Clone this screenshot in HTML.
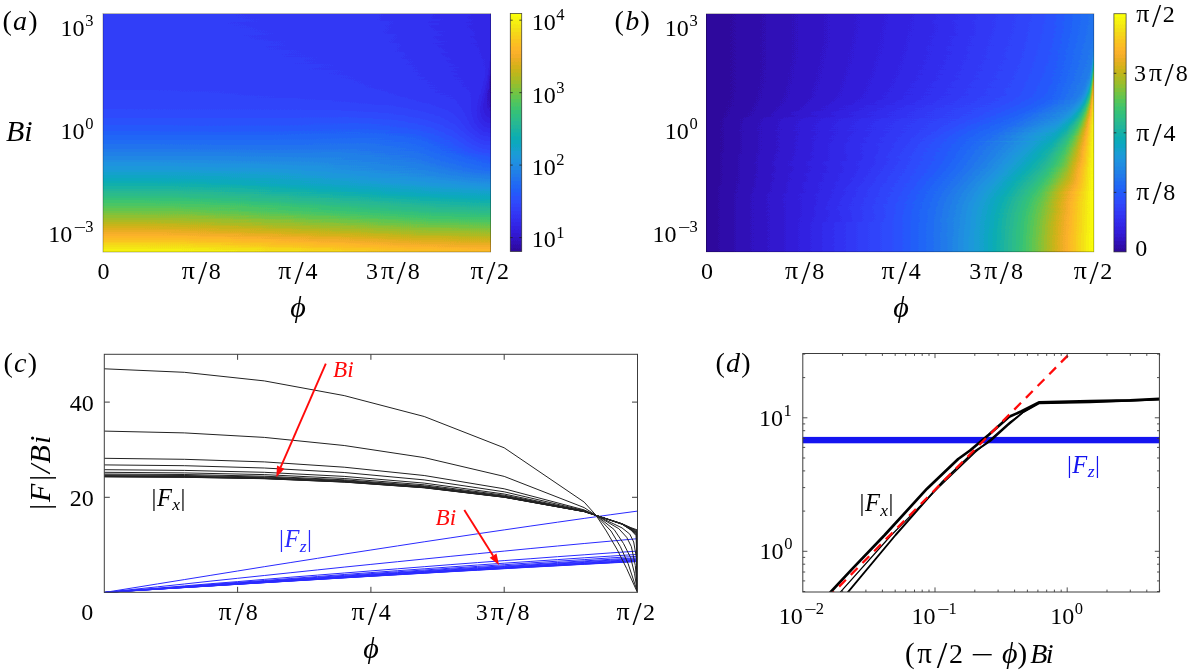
<!DOCTYPE html>
<html><head><meta charset="utf-8"><title>figure</title>
<style>
html,body{margin:0;padding:0;background:#fff}
#fig{position:relative;width:1188px;height:671px;overflow:hidden;background:#fff;font-family:"Liberation Serif",serif}
.hm{position:absolute;overflow:hidden}
.hm{filter:url(#pf)}
.ha{filter:url(#pfa)}
.hm i{display:block;height:1px;width:100%}
svg{position:absolute;left:0;top:0}
text{font-family:"Liberation Serif",serif;fill:#000}
.t{font-size:24px}
.s{font-size:16px}
.l{font-size:30px;font-style:italic}
.p{font-size:28px}
.it{font-style:italic}
.m{font-size:24.5px;letter-spacing:0.4px}
</style></head><body><div id="fig">
<div class="hm ha" style="left:103.0px;top:13.5px;width:387.6px;height:238.5px">
<i style="background:linear-gradient(90deg,#545454 0.0%,#545454 15.0%,#535353 30.0%,#494949 65.0%,#3f3f3f 80.0%,#2d2d2d 94.0%,#232323 99.5%,#232323 100.0%)"></i>
<i style="background:linear-gradient(90deg,#545454 0.0%,#545454 15.0%,#535353 30.0%,#494949 65.0%,#3f3f3f 80.0%,#2e2e2e 93.5%,#242424 99.0%,#232323 100.0%)"></i>
<i style="background:linear-gradient(90deg,#545454 0.0%,#545454 15.0%,#535353 30.0%,#4c4c4c 60.0%,#3f3f3f 80.0%,#252525 98.5%,#232323 100.0%)"></i>
<i style="background:linear-gradient(90deg,#545454 0.0%,#545454 17.5%,#535353 30.0%,#4c4c4c 60.0%,#3f3f3f 80.0%,#262626 98.0%,#232323 100.0%)"></i>
<i style="background:linear-gradient(90deg,#545454 0.0%,#545454 17.5%,#535353 30.0%,#4c4c4c 60.0%,#3f3f3f 80.0%,#272727 97.5%,#232323 100.0%)"></i>
<i style="background:linear-gradient(90deg,#545454 0.0%,#545454 20.0%,#525252 37.5%,#4c4c4c 57.5%,#4c4c4c 60.0%,#3d3d3d 82.5%,#363636 90.0%,#313131 92.0%,#282828 97.0%,#232323 100.0%)"></i>
<i style="background:linear-gradient(90deg,#545454 0.0%,#545454 20.0%,#535353 32.5%,#4c4c4c 60.0%,#3d3d3d 82.5%,#343434 91.0%,#313131 92.0%,#292929 96.5%,#232323 100.0%)"></i>
<i style="background:linear-gradient(90deg,#545454 0.0%,#545454 20.0%,#535353 32.5%,#4c4c4c 60.0%,#444444 75.0%,#2a2a2a 96.0%,#242424 99.5%,#242424 100.0%)"></i>
<i style="background:linear-gradient(90deg,#545454 0.0%,#545454 22.5%,#4b4b4b 62.5%,#444444 75.0%,#242424 99.5%,#242424 100.0%)"></i>
<i style="background:linear-gradient(90deg,#545454 0.0%,#545454 22.5%,#4b4b4b 62.5%,#444444 75.0%,#3b3b3b 85.0%,#2b2b2b 95.5%,#242424 99.5%,#242424 100.0%)"></i>
<i style="background:linear-gradient(90deg,#555555 0.0%,#545454 25.0%,#4b4b4b 62.5%,#444444 75.0%,#3b3b3b 85.0%,#2c2c2c 95.0%,#242424 99.5%,#242424 100.0%)"></i>
<i style="background:linear-gradient(90deg,#555555 0.0%,#545454 25.0%,#4b4b4b 62.5%,#424242 77.5%,#242424 99.5%,#242424 100.0%)"></i>
<i style="background:linear-gradient(90deg,#555555 0.0%,#555555 5.0%,#545454 27.5%,#4b4b4b 62.5%,#424242 77.5%,#242424 99.5%,#242424 100.0%)"></i>
<i style="background:linear-gradient(90deg,#555555 0.0%,#555555 7.5%,#545454 27.5%,#4a4a4a 65.0%,#424242 77.5%,#252525 99.0%,#242424 100.0%)"></i>
<i style="background:linear-gradient(90deg,#555555 0.0%,#555555 12.5%,#545454 30.0%,#4a4a4a 65.0%,#404040 80.0%,#272727 98.0%,#242424 100.0%)"></i>
<i style="background:linear-gradient(90deg,#555555 0.0%,#555555 15.0%,#545454 30.0%,#4a4a4a 65.0%,#404040 80.0%,#282828 97.5%,#242424 100.0%)"></i>
<i style="background:linear-gradient(90deg,#555555 0.0%,#555555 15.0%,#545454 30.0%,#4d4d4d 60.0%,#404040 80.0%,#292929 97.0%,#242424 100.0%)"></i>
<i style="background:linear-gradient(90deg,#555555 0.0%,#555555 17.5%,#545454 30.0%,#4d4d4d 60.0%,#3e3e3e 82.5%,#363636 90.5%,#323232 92.0%,#2a2a2a 96.5%,#242424 100.0%)"></i>
<i style="background:linear-gradient(90deg,#555555 0.0%,#555555 17.5%,#545454 30.0%,#4d4d4d 60.0%,#3e3e3e 82.5%,#2b2b2b 96.0%,#242424 100.0%)"></i>
<i style="background:linear-gradient(90deg,#555555 0.0%,#555555 20.0%,#535353 37.5%,#4e4e4e 55.0%,#4d4d4d 60.0%,#3e3e3e 82.5%,#2c2c2c 95.5%,#252525 99.5%,#252525 100.0%)"></i>
<i style="background:linear-gradient(90deg,#555555 0.0%,#555555 20.0%,#545454 32.5%,#4c4c4c 62.5%,#454545 75.0%,#3c3c3c 85.0%,#2d2d2d 95.0%,#252525 99.5%,#252525 100.0%)"></i>
<i style="background:linear-gradient(90deg,#555555 0.0%,#555555 22.5%,#4c4c4c 62.5%,#454545 75.0%,#3c3c3c 85.0%,#2e2e2e 94.5%,#252525 99.5%,#252525 100.0%)"></i>
<i style="background:linear-gradient(90deg,#555555 0.0%,#555555 22.5%,#4c4c4c 62.5%,#434343 77.5%,#252525 99.5%,#252525 100.0%)"></i>
<i style="background:linear-gradient(90deg,#565656 0.0%,#555555 25.0%,#4c4c4c 62.5%,#434343 77.5%,#272727 98.5%,#252525 100.0%)"></i>
<i style="background:linear-gradient(90deg,#565656 0.0%,#555555 25.0%,#4b4b4b 65.0%,#434343 77.5%,#292929 97.5%,#252525 100.0%)"></i>
<i style="background:linear-gradient(90deg,#565656 0.0%,#565656 7.5%,#555555 27.5%,#4b4b4b 65.0%,#414141 80.0%,#2a2a2a 97.0%,#252525 100.0%)"></i>
<i style="background:linear-gradient(90deg,#565656 0.0%,#565656 12.5%,#555555 30.0%,#4b4b4b 65.0%,#414141 80.0%,#2b2b2b 96.5%,#252525 100.0%)"></i>
<i style="background:linear-gradient(90deg,#565656 0.0%,#565656 15.0%,#555555 30.0%,#4e4e4e 60.0%,#3f3f3f 82.5%,#353535 91.5%,#333333 92.0%,#2c2c2c 96.0%,#252525 100.0%)"></i>
<i style="background:linear-gradient(90deg,#565656 0.0%,#565656 17.5%,#555555 30.0%,#4e4e4e 60.0%,#3f3f3f 82.5%,#2d2d2d 95.5%,#252525 100.0%)"></i>
<i style="background:linear-gradient(90deg,#565656 0.0%,#565656 17.5%,#555555 30.0%,#4e4e4e 60.0%,#464646 75.0%,#252525 100.0%)"></i>
<i style="background:linear-gradient(90deg,#565656 0.0%,#565656 20.0%,#555555 32.5%,#4d4d4d 62.5%,#464646 75.0%,#3d3d3d 85.0%,#303030 94.0%,#262626 99.5%,#242424 100.0%)"></i>
<i style="background:linear-gradient(90deg,#565656 0.0%,#565656 20.0%,#555555 32.5%,#4d4d4d 62.5%,#444444 77.5%,#282828 98.5%,#282828 99.0%,#242424 100.0%)"></i>
<i style="background:linear-gradient(90deg,#565656 0.0%,#565656 22.5%,#4d4d4d 62.5%,#444444 77.5%,#2a2a2a 97.5%,#282828 99.0%,#242424 100.0%)"></i>
<i style="background:linear-gradient(90deg,#575757 0.0%,#565656 25.0%,#4d4d4d 62.5%,#424242 80.0%,#2b2b2b 97.0%,#272727 99.5%,#232323 100.0%)"></i>
<i style="background:linear-gradient(90deg,#575757 0.0%,#575757 5.0%,#565656 27.5%,#4c4c4c 65.0%,#424242 80.0%,#2d2d2d 96.0%,#272727 99.5%,#232323 100.0%)"></i>
<i style="background:linear-gradient(90deg,#575757 0.0%,#575757 10.0%,#565656 27.5%,#4c4c4c 65.0%,#404040 82.5%,#2e2e2e 95.5%,#272727 99.5%,#222222 100.0%)"></i>
<i style="background:linear-gradient(90deg,#575757 0.0%,#575757 15.0%,#565656 30.0%,#4f4f4f 60.0%,#404040 82.5%,#2f2f2f 95.0%,#272727 99.5%,#222222 100.0%)"></i>
<i style="background:linear-gradient(90deg,#575757 0.0%,#575757 15.0%,#565656 30.0%,#4f4f4f 60.0%,#404040 82.5%,#303030 94.5%,#272727 99.5%,#212121 100.0%)"></i>
<i style="background:linear-gradient(90deg,#575757 0.0%,#575757 17.5%,#565656 30.0%,#4f4f4f 60.0%,#474747 75.0%,#3e3e3e 85.0%,#313131 94.0%,#272727 99.5%,#202020 100.0%)"></i>
<i style="background:linear-gradient(90deg,#575757 0.0%,#575757 20.0%,#565656 32.5%,#4e4e4e 62.5%,#454545 77.5%,#2b2b2b 97.5%,#292929 99.0%,#272727 99.5%,#1f1f1f 100.0%)"></i>
<i style="background:linear-gradient(90deg,#575757 0.0%,#575757 22.5%,#4e4e4e 62.5%,#454545 77.5%,#2d2d2d 96.5%,#292929 99.0%,#262626 99.5%,#1d1d1d 100.0%)"></i>
<i style="background:linear-gradient(90deg,#575757 0.0%,#575757 22.5%,#555555 40.0%,#515151 52.5%,#4d4d4d 65.0%,#434343 80.0%,#2e2e2e 96.0%,#292929 99.0%,#262626 99.5%,#1c1c1c 100.0%)"></i>
<i style="background:linear-gradient(90deg,#585858 0.0%,#575757 25.0%,#4d4d4d 65.0%,#434343 80.0%,#2f2f2f 95.5%,#292929 99.0%,#262626 99.5%,#1a1a1a 100.0%)"></i>
<i style="background:linear-gradient(90deg,#585858 0.0%,#585858 7.5%,#575757 27.5%,#505050 60.0%,#414141 82.5%,#313131 94.5%,#292929 99.0%,#262626 99.5%,#181818 100.0%)"></i>
<i style="background:linear-gradient(90deg,#585858 0.0%,#585858 15.0%,#575757 30.0%,#505050 60.0%,#3f3f3f 85.0%,#323232 94.0%,#292929 99.0%,#252525 99.5%,#161616 100.0%)"></i>
<i style="background:linear-gradient(90deg,#585858 0.0%,#585858 17.5%,#575757 30.0%,#505050 60.0%,#484848 75.0%,#3f3f3f 85.0%,#333333 93.5%,#2c2c2c 97.5%,#2b2b2b 98.5%,#292929 99.0%,#252525 99.5%,#141414 100.0%)"></i>
<i style="background:linear-gradient(90deg,#585858 0.0%,#585858 17.5%,#575757 30.0%,#4f4f4f 62.5%,#464646 77.5%,#2e2e2e 96.5%,#2b2b2b 98.5%,#292929 99.0%,#242424 99.5%,#111111 100.0%)"></i>
<i style="background:linear-gradient(90deg,#585858 0.0%,#585858 20.0%,#575757 32.5%,#4f4f4f 62.5%,#444444 80.0%,#2f2f2f 96.0%,#2b2b2b 98.5%,#292929 99.0%,#242424 99.5%,#0f0f0f 100.0%)"></i>
<i style="background:linear-gradient(90deg,#585858 0.0%,#585858 22.5%,#565656 40.0%,#525252 52.5%,#4e4e4e 65.0%,#444444 80.0%,#313131 95.0%,#2b2b2b 98.5%,#292929 99.0%,#232323 99.5%,#0c0c0c 100.0%)"></i>
<i style="background:linear-gradient(90deg,#595959 0.0%,#585858 25.0%,#4e4e4e 65.0%,#424242 82.5%,#323232 94.5%,#2b2b2b 98.5%,#292929 99.0%,#222222 99.5%,#0a0a0a 100.0%)"></i>
<i style="background:linear-gradient(90deg,#595959 0.0%,#595959 7.5%,#585858 27.5%,#515151 60.0%,#404040 85.0%,#343434 93.5%,#2b2b2b 98.5%,#292929 99.0%,#212121 99.5%,#080808 100.0%)"></i>
<i style="background:linear-gradient(90deg,#595959 0.0%,#595959 15.0%,#585858 30.0%,#515151 60.0%,#494949 75.0%,#404040 85.0%,#353535 93.0%,#2b2b2b 98.5%,#292929 99.0%,#1f1f1f 99.5%,#080808 100.0%)"></i>
<i style="background:linear-gradient(90deg,#595959 0.0%,#595959 17.5%,#585858 30.0%,#505050 62.5%,#474747 77.5%,#303030 96.0%,#2d2d2d 98.0%,#292929 99.0%,#1e1e1e 99.5%,#070707 100.0%)"></i>
<i style="background:linear-gradient(90deg,#595959 0.0%,#595959 20.0%,#585858 32.5%,#505050 62.5%,#454545 80.0%,#393939 91.5%,#373737 92.0%,#313131 95.5%,#2d2d2d 98.0%,#292929 99.0%,#1c1c1c 99.5%,#070707 100.0%)"></i>
<i style="background:linear-gradient(90deg,#595959 0.0%,#595959 22.5%,#4f4f4f 65.0%,#434343 82.5%,#333333 94.5%,#2c2c2c 98.5%,#292929 99.0%,#1a1a1a 99.5%,#070707 100.0%)"></i>
<i style="background:linear-gradient(90deg,#595959 0.0%,#595959 25.0%,#4f4f4f 65.0%,#434343 82.5%,#343434 94.0%,#2c2c2c 98.5%,#282828 99.0%,#181818 99.5%,#060606 100.0%)"></i>
<i style="background:linear-gradient(90deg,#5a5a5a 0.0%,#5a5a5a 5.0%,#595959 27.5%,#525252 60.0%,#4a4a4a 75.0%,#414141 85.0%,#363636 93.0%,#2c2c2c 98.5%,#282828 99.0%,#161616 99.5%,#060606 100.0%)"></i>
<i style="background:linear-gradient(90deg,#5a5a5a 0.0%,#5a5a5a 15.0%,#595959 30.0%,#515151 62.5%,#484848 77.5%,#303030 96.5%,#2f2f2f 97.5%,#2c2c2c 98.5%,#272727 99.0%,#141414 99.5%,#060606 100.0%)"></i>
<i style="background:linear-gradient(90deg,#5a5a5a 0.0%,#5a5a5a 17.5%,#595959 30.0%,#515151 62.5%,#464646 80.0%,#323232 95.5%,#2f2f2f 97.5%,#2b2b2b 98.5%,#272727 99.0%,#111111 99.5%,#060606 100.0%)"></i>
<i style="background:linear-gradient(90deg,#5a5a5a 0.0%,#5a5a5a 20.0%,#595959 32.5%,#505050 65.0%,#444444 82.5%,#343434 94.5%,#2f2f2f 97.5%,#2b2b2b 98.5%,#262626 99.0%,#0f0f0f 99.5%,#050505 100.0%)"></i>
<i style="background:linear-gradient(90deg,#5a5a5a 0.0%,#5a5a5a 22.5%,#585858 40.0%,#505050 65.0%,#424242 85.0%,#363636 93.5%,#2f2f2f 97.5%,#2b2b2b 98.5%,#252525 99.0%,#0d0d0d 99.5%,#050505 100.0%)"></i>
<i style="background:linear-gradient(90deg,#5b5b5b 0.0%,#5a5a5a 25.0%,#535353 60.0%,#494949 77.5%,#2f2f2f 97.5%,#2b2b2b 98.5%,#242424 99.0%,#0a0a0a 99.5%,#050505 100.0%)"></i>
<i style="background:linear-gradient(90deg,#5b5b5b 0.0%,#5b5b5b 7.5%,#5a5a5a 30.0%,#525252 62.5%,#474747 80.0%,#2f2f2f 97.5%,#2b2b2b 98.5%,#232323 99.0%,#080808 99.5%,#050505 100.0%)"></i>
<i style="background:linear-gradient(90deg,#5b5b5b 0.0%,#5b5b5b 15.0%,#5a5a5a 30.0%,#515151 65.0%,#454545 82.5%,#343434 95.0%,#313131 97.0%,#2d2d2d 98.0%,#2a2a2a 98.5%,#212121 99.0%,#080808 99.5%,#050505 100.0%)"></i>
<i style="background:linear-gradient(90deg,#5b5b5b 0.0%,#5b5b5b 17.5%,#5a5a5a 32.5%,#515151 65.0%,#434343 85.0%,#363636 94.0%,#313131 97.0%,#2d2d2d 98.0%,#2a2a2a 98.5%,#202020 99.0%,#070707 99.5%,#050505 100.0%)"></i>
<i style="background:linear-gradient(90deg,#5b5b5b 0.0%,#5b5b5b 22.5%,#595959 40.0%,#545454 57.5%,#545454 60.0%,#4a4a4a 77.5%,#313131 97.0%,#2d2d2d 98.0%,#292929 98.5%,#1e1e1e 99.0%,#070707 99.5%,#050505 100.0%)"></i>
<i style="background:linear-gradient(90deg,#5c5c5c 0.0%,#5b5b5b 25.0%,#535353 62.5%,#484848 80.0%,#3f3f3f 90.0%,#3a3a3a 92.0%,#313131 97.0%,#2d2d2d 98.0%,#282828 98.5%,#1c1c1c 99.0%,#070707 99.5%,#050505 100.0%)"></i>
<i style="background:linear-gradient(90deg,#5c5c5c 0.0%,#5c5c5c 7.5%,#5b5b5b 30.0%,#525252 65.0%,#464646 82.5%,#313131 97.0%,#2c2c2c 98.0%,#272727 98.5%,#1a1a1a 99.0%,#070707 99.5%,#040404 100.0%)"></i>
<i style="background:linear-gradient(90deg,#5c5c5c 0.0%,#5c5c5c 15.0%,#5b5b5b 30.0%,#515151 67.5%,#4d4d4d 75.0%,#444444 85.0%,#373737 94.0%,#343434 96.0%,#2f2f2f 97.5%,#2c2c2c 98.0%,#262626 98.5%,#181818 99.0%,#060606 99.5%,#040404 100.0%)"></i>
<i style="background:linear-gradient(90deg,#5c5c5c 0.0%,#5c5c5c 20.0%,#5b5b5b 32.5%,#545454 62.5%,#494949 80.0%,#343434 96.0%,#2f2f2f 97.5%,#2c2c2c 98.0%,#252525 98.5%,#060606 99.5%,#040404 100.0%)"></i>
<i style="background:linear-gradient(90deg,#5c5c5c 0.0%,#5c5c5c 22.5%,#5a5a5a 40.0%,#535353 65.0%,#474747 82.5%,#333333 96.5%,#2f2f2f 97.5%,#2b2b2b 98.0%,#242424 98.5%,#141414 99.0%,#060606 99.5%,#040404 100.0%)"></i>
<i style="background:linear-gradient(90deg,#5d5d5d 0.0%,#5c5c5c 27.5%,#525252 67.5%,#4e4e4e 75.0%,#454545 85.0%,#333333 96.5%,#2e2e2e 97.5%,#2a2a2a 98.0%,#222222 98.5%,#121212 99.0%,#060606 99.5%,#040404 100.0%)"></i>
<i style="background:linear-gradient(90deg,#5d5d5d 0.0%,#5d5d5d 12.5%,#5c5c5c 30.0%,#555555 62.5%,#4a4a4a 80.0%,#333333 96.5%,#2e2e2e 97.5%,#292929 98.0%,#212121 98.5%,#101010 99.0%,#060606 99.5%,#040404 100.0%)"></i>
<i style="background:linear-gradient(90deg,#5d5d5d 0.0%,#5d5d5d 17.5%,#5c5c5c 32.5%,#545454 65.0%,#484848 82.5%,#3f3f3f 91.0%,#3c3c3c 92.0%,#373737 95.0%,#313131 97.0%,#2e2e2e 97.5%,#282828 98.0%,#1f1f1f 98.5%,#0e0e0e 99.0%,#060606 99.5%,#040404 100.0%)"></i>
<i style="background:linear-gradient(90deg,#5d5d5d 0.0%,#5d5d5d 22.5%,#5b5b5b 42.5%,#535353 67.5%,#4d4d4d 77.5%,#363636 95.5%,#333333 96.5%,#2d2d2d 97.5%,#272727 98.0%,#1d1d1d 98.5%,#0c0c0c 99.0%,#060606 99.5%,#040404 100.0%)"></i>
<i style="background:linear-gradient(90deg,#5d5d5d 0.0%,#5d5d5d 27.5%,#5b5b5b 45.0%,#595959 50.0%,#565656 62.5%,#515151 72.5%,#494949 82.5%,#363636 95.5%,#303030 97.0%,#2c2c2c 97.5%,#262626 98.0%,#1c1c1c 98.5%,#0a0a0a 99.0%,#050505 99.5%,#040404 100.0%)"></i>
<i style="background:linear-gradient(90deg,#5e5e5e 0.0%,#5e5e5e 7.5%,#5d5d5d 30.0%,#545454 67.5%,#4e4e4e 77.5%,#404040 91.0%,#363636 95.5%,#303030 97.0%,#2c2c2c 97.5%,#252525 98.0%,#1a1a1a 98.5%,#080808 99.0%,#050505 99.5%,#040404 100.0%)"></i>
<i style="background:linear-gradient(90deg,#5e5e5e 0.0%,#5e5e5e 17.5%,#5d5d5d 32.5%,#575757 62.5%,#525252 72.5%,#4c4c4c 80.0%,#3a3a3a 94.0%,#323232 96.5%,#2b2b2b 97.5%,#242424 98.0%,#181818 98.5%,#080808 99.0%,#050505 99.5%,#040404 100.0%)"></i>
<i style="background:linear-gradient(90deg,#5e5e5e 0.0%,#5e5e5e 22.5%,#5d5d5d 35.0%,#555555 67.5%,#4f4f4f 77.5%,#393939 94.5%,#323232 96.5%,#2f2f2f 97.0%,#2a2a2a 97.5%,#222222 98.0%,#161616 98.5%,#080808 99.0%,#050505 99.5%,#040404 100.0%)"></i>
<i style="background:linear-gradient(90deg,#5e5e5e 0.0%,#5e5e5e 30.0%,#595959 60.0%,#535353 72.5%,#4d4d4d 80.0%,#414141 91.0%,#393939 94.5%,#343434 96.0%,#2e2e2e 97.0%,#292929 97.5%,#212121 98.0%,#070707 99.0%,#050505 99.5%,#050505 100.0%)"></i>
<i style="background:linear-gradient(90deg,#5f5f5f 0.0%,#5f5f5f 7.5%,#5e5e5e 32.5%,#565656 67.5%,#505050 77.5%,#3d3d3d 93.0%,#343434 96.0%,#2d2d2d 97.0%,#272727 97.5%,#1f1f1f 98.0%,#121212 98.5%,#070707 99.0%,#050505 99.5%,#050505 100.0%)"></i>
<i style="background:linear-gradient(90deg,#5f5f5f 0.0%,#5f5f5f 17.5%,#5e5e5e 35.0%,#595959 62.5%,#545454 72.5%,#4e4e4e 80.0%,#444444 90.0%,#3c3c3c 93.5%,#363636 95.5%,#303030 96.5%,#2c2c2c 97.0%,#262626 97.5%,#1d1d1d 98.0%,#101010 98.5%,#070707 99.0%,#050505 99.5%,#050505 100.0%)"></i>
<i style="background:linear-gradient(90deg,#5f5f5f 0.0%,#5f5f5f 30.0%,#5d5d5d 47.5%,#565656 70.0%,#4f4f4f 80.0%,#414141 91.5%,#3b3b3b 94.0%,#363636 95.5%,#303030 96.5%,#252525 97.5%,#1c1c1c 98.0%,#0f0f0f 98.5%,#070707 99.0%,#050505 99.5%,#050505 100.0%)"></i>
<i style="background:linear-gradient(90deg,#606060 0.0%,#606060 17.5%,#5f5f5f 35.0%,#575757 70.0%,#525252 77.5%,#454545 90.0%,#3e3e3e 93.0%,#363636 95.5%,#2b2b2b 97.0%,#242424 97.5%,#1a1a1a 98.0%,#0e0e0e 98.5%,#070707 99.0%,#050505 99.5%,#050505 100.0%)"></i>
<i style="background:linear-gradient(90deg,#616161 0.0%,#616161 5.0%,#606060 32.5%,#5f5f5f 45.0%,#595959 67.5%,#535353 77.5%,#424242 91.5%,#3d3d3d 93.5%,#363636 95.5%,#2f2f2f 96.5%,#2a2a2a 97.0%,#232323 97.5%,#191919 98.0%,#0c0c0c 98.5%,#070707 99.0%,#050505 99.5%,#050505 100.0%)"></i>
<i style="background:linear-gradient(90deg,#616161 0.0%,#616161 30.0%,#5f5f5f 47.5%,#5a5a5a 67.5%,#545454 77.5%,#454545 90.5%,#404040 92.5%,#383838 95.0%,#323232 96.0%,#292929 97.0%,#222222 97.5%,#181818 98.0%,#0b0b0b 98.5%,#070707 99.0%,#050505 99.5%,#050505 100.0%)"></i>
<i style="background:linear-gradient(90deg,#626262 0.0%,#626262 20.0%,#616161 37.5%,#5f5f5f 55.0%,#5a5a5a 70.0%,#555555 77.5%,#474747 90.0%,#383838 95.0%,#323232 96.0%,#2e2e2e 96.5%,#212121 97.5%,#171717 98.0%,#0b0b0b 98.5%,#070707 99.0%,#050505 100.0%)"></i>
<i style="background:linear-gradient(90deg,#636363 0.0%,#636363 15.0%,#626262 35.0%,#616161 47.5%,#5b5b5b 70.0%,#565656 77.5%,#505050 82.5%,#4b4b4b 87.5%,#454545 91.0%,#383838 95.0%,#323232 96.0%,#272727 97.0%,#202020 97.5%,#161616 98.0%,#0a0a0a 98.5%,#070707 99.0%,#050505 100.0%)"></i>
<i style="background:linear-gradient(90deg,#646464 0.0%,#646464 7.5%,#636363 35.0%,#626262 47.5%,#5c5c5c 70.0%,#575757 77.5%,#515151 82.5%,#4f4f4f 85.0%,#474747 90.5%,#383838 95.0%,#2d2d2d 96.5%,#272727 97.0%,#1f1f1f 97.5%,#0a0a0a 98.5%,#070707 99.0%,#060606 100.0%)"></i>
<i style="background:linear-gradient(90deg,#656565 0.0%,#646464 32.5%,#636363 47.5%,#5c5c5c 72.5%,#585858 77.5%,#505050 85.0%,#494949 90.0%,#3b3b3b 94.5%,#353535 95.5%,#2c2c2c 96.5%,#262626 97.0%,#1e1e1e 97.5%,#0a0a0a 98.5%,#070707 99.0%,#060606 100.0%)"></i>
<i style="background:linear-gradient(90deg,#656565 0.0%,#656565 32.5%,#646464 47.5%,#5c5c5c 75.0%,#515151 85.0%,#4a4a4a 90.0%,#3b3b3b 94.5%,#353535 95.5%,#2c2c2c 96.5%,#1d1d1d 97.5%,#0a0a0a 98.5%,#070707 99.0%,#060606 100.0%)"></i>
<i style="background:linear-gradient(90deg,#666666 0.0%,#666666 32.5%,#656565 50.0%,#606060 70.0%,#5d5d5d 75.0%,#525252 85.0%,#484848 91.0%,#444444 92.0%,#3b3b3b 94.5%,#353535 95.5%,#2b2b2b 96.5%,#1c1c1c 97.5%,#0a0a0a 98.5%,#070707 99.0%,#060606 100.0%)"></i>
<i style="background:linear-gradient(90deg,#676767 0.0%,#676767 32.5%,#666666 52.5%,#606060 72.5%,#5c5c5c 77.5%,#535353 85.0%,#4a4a4a 90.5%,#3e3e3e 94.0%,#383838 95.0%,#303030 96.0%,#2b2b2b 96.5%,#1c1c1c 97.5%,#0a0a0a 98.5%,#070707 99.0%,#060606 100.0%)"></i>
<i style="background:linear-gradient(90deg,#686868 0.0%,#686868 32.5%,#676767 55.0%,#646464 67.5%,#606060 75.0%,#545454 85.0%,#4b4b4b 90.5%,#474747 91.5%,#3e3e3e 94.0%,#383838 95.0%,#303030 96.0%,#1c1c1c 97.5%,#0a0a0a 98.5%,#070707 99.0%,#070707 100.0%)"></i>
<i style="background:linear-gradient(90deg,#6a6a6a 0.0%,#696969 45.0%,#686868 60.0%,#636363 72.5%,#5f5f5f 77.5%,#595959 82.5%,#4d4d4d 90.0%,#414141 93.5%,#383838 95.0%,#2a2a2a 96.5%,#0b0b0b 98.5%,#080808 99.0%,#070707 100.0%)"></i>
<i style="background:linear-gradient(90deg,#6b6b6b 0.0%,#6b6b6b 5.0%,#6a6a6a 52.5%,#666666 70.0%,#636363 75.0%,#575757 85.0%,#4e4e4e 90.0%,#3f3f3f 94.0%,#343434 95.5%,#2a2a2a 96.5%,#0c0c0c 98.5%,#080808 99.0%,#070707 100.0%)"></i>
<i style="background:linear-gradient(90deg,#6c6c6c 0.0%,#6c6c6c 15.0%,#6b6b6b 60.0%,#666666 72.5%,#626262 77.5%,#5c5c5c 82.5%,#545454 87.5%,#4f4f4f 90.0%,#424242 93.5%,#3c3c3c 94.5%,#343434 95.5%,#232323 97.0%,#0d0d0d 98.5%,#080808 99.0%,#070707 100.0%)"></i>
<i style="background:linear-gradient(90deg,#6d6d6d 0.0%,#6d6d6d 20.0%,#6c6c6c 27.5%,#6d6d6d 30.0%,#6c6c6c 42.5%,#6d6d6d 47.5%,#6c6c6c 62.5%,#686868 72.5%,#5d5d5d 82.5%,#555555 87.5%,#505050 90.0%,#4c4c4c 91.0%,#474747 92.5%,#3c3c3c 94.5%,#343434 95.5%,#232323 97.0%,#0e0e0e 98.5%,#090909 99.0%,#080808 100.0%)"></i>
<i style="background:linear-gradient(90deg,#6e6e6e 0.0%,#6e6e6e 60.0%,#6b6b6b 70.0%,#686868 75.0%,#5f5f5f 82.5%,#515151 90.0%,#434343 93.5%,#393939 95.0%,#2f2f2f 96.0%,#232323 97.0%,#151515 98.0%,#0a0a0a 99.0%,#080808 99.5%,#080808 100.0%)"></i>
<i style="background:linear-gradient(90deg,#707070 0.0%,#707070 7.5%,#6f6f6f 42.5%,#707070 60.0%,#6d6d6d 70.0%,#6a6a6a 75.0%,#646464 80.0%,#585858 87.5%,#525252 90.0%,#464646 93.0%,#3d3d3d 94.5%,#2a2a2a 96.5%,#161616 98.0%,#0c0c0c 99.0%,#090909 99.5%,#090909 100.0%)"></i>
<i style="background:linear-gradient(90deg,#717171 0.0%,#717171 20.0%,#707070 25.0%,#717171 32.5%,#707070 35.0%,#717171 55.0%,#727272 60.0%,#707070 65.0%,#707070 67.5%,#696969 77.5%,#5e5e5e 85.0%,#535353 90.0%,#494949 92.5%,#414141 94.0%,#353535 95.5%,#242424 97.0%,#171717 98.0%,#0e0e0e 99.0%,#0b0b0b 99.5%,#0b0b0b 100.0%)"></i>
<i style="background:linear-gradient(90deg,#737373 0.0%,#727272 42.5%,#737373 57.5%,#747474 60.0%,#6f6f6f 72.5%,#6b6b6b 77.5%,#646464 82.5%,#5a5a5a 87.5%,#545454 90.0%,#4a4a4a 92.5%,#3e3e3e 94.5%,#303030 96.0%,#1e1e1e 97.5%,#141414 98.5%,#101010 99.0%,#0d0d0d 100.0%)"></i>
<i style="background:linear-gradient(90deg,#747474 0.0%,#747474 17.5%,#737373 27.5%,#747474 45.0%,#757575 62.5%,#747474 67.5%,#6f6f6f 75.0%,#696969 80.0%,#616161 85.0%,#5c5c5c 87.5%,#545454 90.5%,#424242 94.0%,#363636 95.5%,#1f1f1f 97.5%,#151515 98.5%,#101010 99.5%,#0f0f0f 100.0%)"></i>
<i style="background:linear-gradient(90deg,#767676 0.0%,#767676 5.0%,#757575 37.5%,#777777 62.5%,#757575 70.0%,#717171 75.0%,#6b6b6b 80.0%,#636363 85.0%,#575757 90.0%,#535353 91.0%,#434343 94.0%,#3b3b3b 95.0%,#2c2c2c 96.5%,#1b1b1b 98.0%,#141414 99.0%,#121212 99.5%,#121212 100.0%)"></i>
<i style="background:linear-gradient(90deg,#777777 0.0%,#777777 40.0%,#787878 67.5%,#717171 77.5%,#696969 82.5%,#5f5f5f 87.5%,#545454 91.0%,#474747 93.5%,#404040 94.5%,#2d2d2d 96.5%,#1d1d1d 98.0%,#161616 99.0%,#141414 99.5%,#141414 100.0%)"></i>
<i style="background:linear-gradient(90deg,#787878 0.0%,#787878 47.5%,#797979 65.0%,#767676 75.0%,#6b6b6b 82.5%,#606060 87.5%,#535353 91.5%,#4d4d4d 92.5%,#484848 93.5%,#383838 95.5%,#2e2e2e 96.5%,#232323 97.5%,#1b1b1b 98.5%,#161616 99.5%,#161616 100.0%)"></i>
<i style="background:linear-gradient(90deg,#797979 0.0%,#797979 12.5%,#787878 32.5%,#797979 70.0%,#787878 75.0%,#6d6d6d 82.5%,#626262 87.5%,#5b5b5b 90.0%,#4c4c4c 93.0%,#393939 95.5%,#202020 98.0%,#1a1a1a 99.0%,#191919 100.0%)"></i>
<i style="background:linear-gradient(90deg,#797979 0.0%,#797979 52.5%,#7a7a7a 65.0%,#777777 77.5%,#6f6f6f 82.5%,#646464 87.5%,#585858 91.0%,#525252 92.0%,#4a4a4a 93.5%,#3a3a3a 95.5%,#262626 97.5%,#1f1f1f 98.5%,#1b1b1b 99.5%,#1b1b1b 100.0%)"></i>
<i style="background:linear-gradient(90deg,#797979 0.0%,#797979 40.0%,#7a7a7a 70.0%,#787878 77.5%,#717171 82.5%,#6c6c6c 85.0%,#595959 91.0%,#4b4b4b 93.5%,#3b3b3b 95.5%,#313131 96.5%,#242424 98.0%,#1f1f1f 99.0%,#1d1d1d 100.0%)"></i>
<i style="background:linear-gradient(90deg,#7a7a7a 0.0%,#7a7a7a 52.5%,#7b7b7b 65.0%,#787878 80.0%,#676767 87.5%,#5d5d5d 90.5%,#4c4c4c 93.5%,#3c3c3c 95.5%,#262626 98.0%,#212121 99.0%,#202020 100.0%)"></i>
<i style="background:linear-gradient(90deg,#7a7a7a 0.0%,#7a7a7a 42.5%,#7b7b7b 70.0%,#787878 80.0%,#757575 82.5%,#696969 87.5%,#616161 90.0%,#4d4d4d 93.5%,#424242 95.0%,#282828 98.0%,#242424 99.0%,#222222 100.0%)"></i>
<i style="background:linear-gradient(90deg,#7b7b7b 0.0%,#7b7b7b 17.5%,#7a7a7a 25.0%,#7b7b7b 55.0%,#7c7c7c 65.0%,#797979 80.0%,#777777 82.5%,#6b6b6b 87.5%,#606060 90.5%,#525252 93.0%,#3f3f3f 95.5%,#2e2e2e 97.5%,#282828 98.5%,#252525 99.5%,#252525 100.0%)"></i>
<i style="background:linear-gradient(90deg,#7b7b7b 0.0%,#7b7b7b 45.0%,#7c7c7c 70.0%,#787878 82.5%,#737373 85.0%,#646464 90.0%,#505050 93.5%,#303030 97.5%,#2a2a2a 98.5%,#282828 99.5%,#282828 100.0%)"></i>
<i style="background:linear-gradient(90deg,#7c7c7c 0.0%,#7c7c7c 7.5%,#7b7b7b 32.5%,#7c7c7c 52.5%,#7d7d7d 67.5%,#797979 82.5%,#767676 85.0%,#636363 90.5%,#555555 93.0%,#323232 97.5%,#2b2b2b 99.0%,#2a2a2a 100.0%)"></i>
<i style="background:linear-gradient(90deg,#7c7c7c 0.0%,#7c7c7c 45.0%,#7d7d7d 72.5%,#787878 85.0%,#656565 90.5%,#535353 93.5%,#4b4b4b 94.5%,#383838 97.0%,#2f2f2f 98.5%,#2d2d2d 99.5%,#2d2d2d 100.0%)"></i>
<i style="background:linear-gradient(90deg,#7d7d7d 0.0%,#7d7d7d 7.5%,#7c7c7c 32.5%,#7d7d7d 52.5%,#7e7e7e 67.5%,#7a7a7a 82.5%,#787878 85.0%,#727272 87.5%,#696969 90.0%,#585858 93.0%,#454545 95.5%,#343434 98.0%,#303030 99.5%,#303030 100.0%)"></i>
<i style="background:linear-gradient(90deg,#7d7d7d 0.0%,#7d7d7d 42.5%,#7e7e7e 72.5%,#797979 85.0%,#747474 87.5%,#6b6b6b 90.0%,#5a5a5a 93.0%,#474747 95.5%,#393939 97.5%,#333333 99.0%,#323232 100.0%)"></i>
<i style="background:linear-gradient(90deg,#7e7e7e 0.0%,#7e7e7e 12.5%,#7d7d7d 30.0%,#7e7e7e 50.0%,#7f7f7f 70.0%,#7b7b7b 82.5%,#767676 87.5%,#6d6d6d 90.0%,#676767 91.0%,#5f5f5f 92.5%,#393939 98.0%,#353535 99.5%,#353535 100.0%)"></i>
<i style="background:linear-gradient(90deg,#7e7e7e 0.0%,#7e7e7e 42.5%,#7f7f7f 57.5%,#808080 65.0%,#7a7a7a 85.0%,#787878 87.5%,#6f6f6f 90.0%,#5a5a5a 93.5%,#3e3e3e 97.5%,#3a3a3a 98.5%,#383838 99.5%,#383838 100.0%)"></i>
<i style="background:linear-gradient(90deg,#7f7f7f 0.0%,#7f7f7f 50.0%,#808080 70.0%,#7c7c7c 82.5%,#797979 87.5%,#717171 90.0%,#5c5c5c 93.5%,#414141 97.5%,#3d3d3d 98.5%,#3b3b3b 99.5%,#3b3b3b 100.0%)"></i>
<i style="background:linear-gradient(90deg,#7f7f7f 0.0%,#7f7f7f 40.0%,#808080 55.0%,#818181 67.5%,#7e7e7e 80.0%,#797979 87.5%,#737373 90.0%,#5e5e5e 93.5%,#464646 97.0%,#414141 98.0%,#3e3e3e 99.5%,#3e3e3e 100.0%)"></i>
<i style="background:linear-gradient(90deg,#808080 0.0%,#808080 47.5%,#818181 70.0%,#7d7d7d 82.5%,#797979 87.5%,#757575 90.0%,#5d5d5d 94.0%,#464646 97.5%,#414141 99.0%,#414141 100.0%)"></i>
<i style="background:linear-gradient(90deg,#808080 0.0%,#808080 37.5%,#818181 52.5%,#828282 67.5%,#7f7f7f 80.0%,#7a7a7a 87.5%,#777777 90.0%,#5f5f5f 94.0%,#4e4e4e 96.5%,#454545 98.5%,#444444 100.0%)"></i>
<i style="background:linear-gradient(90deg,#818181 0.0%,#818181 45.0%,#828282 72.5%,#7e7e7e 82.5%,#787878 90.0%,#6b6b6b 92.5%,#5e5e5e 94.5%,#4e4e4e 97.0%,#484848 98.5%,#474747 100.0%)"></i>
<i style="background:linear-gradient(90deg,#828282 0.0%,#828282 15.0%,#818181 32.5%,#828282 50.0%,#838383 70.0%,#808080 80.0%,#797979 90.0%,#787878 90.5%,#6a6a6a 93.0%,#535353 96.5%,#4b4b4b 98.5%,#4a4a4a 100.0%)"></i>
<i style="background:linear-gradient(90deg,#828282 0.0%,#828282 42.5%,#838383 57.5%,#848484 65.0%,#7f7f7f 82.5%,#787878 91.0%,#696969 93.5%,#565656 96.5%,#515151 97.5%,#4d4d4d 99.0%,#4d4d4d 100.0%)"></i>
<i style="background:linear-gradient(90deg,#838383 0.0%,#838383 47.5%,#848484 70.0%,#818181 80.0%,#7a7a7a 90.0%,#777777 91.5%,#656565 94.5%,#5b5b5b 96.0%,#525252 98.0%,#505050 99.0%,#4f4f4f 100.0%)"></i>
<i style="background:linear-gradient(90deg,#848484 0.0%,#848484 7.5%,#838383 37.5%,#848484 55.0%,#858585 65.0%,#808080 82.5%,#787878 91.5%,#5b5b5b 96.5%,#555555 98.0%,#525252 99.5%,#525252 100.0%)"></i>
<i style="background:linear-gradient(90deg,#848484 0.0%,#848484 45.0%,#858585 70.0%,#828282 80.0%,#7d7d7d 87.5%,#787878 92.0%,#636363 95.5%,#585858 98.0%,#555555 99.5%,#555555 100.0%)"></i>
<i style="background:linear-gradient(90deg,#858585 0.0%,#858585 52.5%,#868686 67.5%,#818181 82.5%,#787878 92.5%,#636363 96.0%,#5c5c5c 97.5%,#585858 99.5%,#585858 100.0%)"></i>
<i style="background:linear-gradient(90deg,#868686 0.0%,#858585 42.5%,#868686 70.0%,#838383 80.0%,#7e7e7e 87.5%,#777777 93.0%,#686868 95.5%,#5f5f5f 97.5%,#5c5c5c 98.5%,#5b5b5b 100.0%)"></i>
<i style="background:linear-gradient(90deg,#868686 0.0%,#868686 50.0%,#878787 67.5%,#828282 82.5%,#787878 93.0%,#626262 97.5%,#5f5f5f 98.5%,#5e5e5e 100.0%)"></i>
<i style="background:linear-gradient(90deg,#878787 0.0%,#878787 20.0%,#868686 37.5%,#878787 70.0%,#858585 77.5%,#7f7f7f 87.5%,#787878 93.5%,#636363 98.0%,#616161 100.0%)"></i>
<i style="background:linear-gradient(90deg,#888888 0.0%,#888888 5.0%,#878787 47.5%,#888888 67.5%,#838383 82.5%,#787878 94.0%,#666666 98.0%,#646464 99.0%,#646464 100.0%)"></i>
<i style="background:linear-gradient(90deg,#888888 0.0%,#888888 70.0%,#868686 75.0%,#868686 77.5%,#7d7d7d 90.5%,#787878 94.5%,#6c6c6c 97.0%,#676767 99.0%,#676767 100.0%)"></i>
<i style="background:linear-gradient(90deg,#898989 0.0%,#898989 20.0%,#888888 42.5%,#898989 65.0%,#858585 80.0%,#7e7e7e 90.0%,#787878 95.0%,#6f6f6f 97.0%,#6a6a6a 99.0%,#6a6a6a 100.0%)"></i>
<i style="background:linear-gradient(90deg,#8a8a8a 0.0%,#8a8a8a 7.5%,#898989 57.5%,#8a8a8a 60.0%,#848484 82.5%,#787878 95.5%,#707070 97.5%,#6d6d6d 99.0%,#6d6d6d 100.0%)"></i>
<i style="background:linear-gradient(90deg,#8a8a8a 0.0%,#8a8a8a 65.0%,#868686 80.0%,#7f7f7f 90.0%,#777777 96.5%,#737373 97.5%,#717171 98.5%,#707070 100.0%)"></i>
<i style="background:linear-gradient(90deg,#8b8b8b 0.0%,#8b8b8b 22.5%,#8a8a8a 50.0%,#8b8b8b 60.0%,#858585 82.5%,#787878 97.0%,#747474 98.5%,#737373 100.0%)"></i>
<i style="background:linear-gradient(90deg,#8c8c8c 0.0%,#8c8c8c 12.5%,#8b8b8b 65.0%,#878787 80.0%,#808080 90.0%,#767676 100.0%)"></i>
<i style="background:linear-gradient(90deg,#8d8d8d 0.0%,#8c8c8c 60.0%,#868686 82.5%,#787878 100.0%)"></i>
<i style="background:linear-gradient(90deg,#8d8d8d 0.0%,#8d8d8d 27.5%,#8c8c8c 65.0%,#898989 77.5%,#818181 90.0%,#797979 100.0%)"></i>
<i style="background:linear-gradient(90deg,#8e8e8e 0.0%,#8e8e8e 20.0%,#8d8d8d 60.0%,#878787 82.5%,#7a7a7a 100.0%)"></i>
<i style="background:linear-gradient(90deg,#8f8f8f 0.0%,#8f8f8f 12.5%,#8e8e8e 47.5%,#8d8d8d 65.0%,#878787 82.5%,#828282 90.0%,#7b7b7b 100.0%)"></i>
<i style="background:linear-gradient(90deg,#909090 0.0%,#8f8f8f 32.5%,#8e8e8e 60.0%,#898989 80.0%,#828282 90.5%,#7b7b7b 100.0%)"></i>
<i style="background:linear-gradient(90deg,#909090 0.0%,#909090 25.0%,#8f8f8f 55.0%,#888888 82.5%,#838383 90.0%,#7c7c7c 100.0%)"></i>
<i style="background:linear-gradient(90deg,#919191 0.0%,#919191 20.0%,#909090 42.5%,#8f8f8f 60.0%,#8a8a8a 80.0%,#838383 90.5%,#7d7d7d 100.0%)"></i>
<i style="background:linear-gradient(90deg,#929292 0.0%,#929292 12.5%,#919191 35.0%,#909090 55.0%,#898989 82.5%,#848484 90.0%,#7e7e7e 99.0%,#7d7d7d 100.0%)"></i>
<i style="background:linear-gradient(90deg,#939393 0.0%,#939393 7.5%,#929292 30.0%,#919191 50.0%,#909090 62.5%,#8b8b8b 80.0%,#848484 91.0%,#7e7e7e 100.0%)"></i>
<i style="background:linear-gradient(90deg,#939393 0.0%,#939393 25.0%,#929292 42.5%,#919191 57.5%,#8a8a8a 82.5%,#858585 90.5%,#7f7f7f 100.0%)"></i>
<i style="background:linear-gradient(90deg,#949494 0.0%,#949494 20.0%,#939393 37.5%,#929292 52.5%,#8c8c8c 80.0%,#868686 90.0%,#808080 100.0%)"></i>
<i style="background:linear-gradient(90deg,#959595 0.0%,#959595 17.5%,#949494 32.5%,#939393 47.5%,#929292 60.0%,#8b8b8b 82.5%,#868686 90.5%,#818181 100.0%)"></i>
<i style="background:linear-gradient(90deg,#969696 0.0%,#969696 12.5%,#959595 30.0%,#949494 45.0%,#929292 62.5%,#8d8d8d 80.0%,#878787 90.0%,#828282 98.5%,#818181 100.0%)"></i>
<i style="background:linear-gradient(90deg,#979797 0.0%,#979797 7.5%,#969696 27.5%,#959595 40.0%,#949494 52.5%,#8b8b8b 85.0%,#878787 91.0%,#838383 97.5%,#828282 100.0%)"></i>
<i style="background:linear-gradient(90deg,#989898 0.0%,#979797 25.0%,#969696 37.5%,#959595 50.0%,#8e8e8e 80.0%,#888888 90.5%,#848484 97.0%,#838383 100.0%)"></i>
<i style="background:linear-gradient(90deg,#989898 0.0%,#989898 22.5%,#979797 35.0%,#969696 47.5%,#8c8c8c 85.0%,#898989 90.0%,#858585 96.5%,#848484 100.0%)"></i>
<i style="background:linear-gradient(90deg,#999999 0.0%,#999999 20.0%,#989898 32.5%,#979797 45.0%,#8e8e8e 82.5%,#8a8a8a 90.0%,#868686 96.5%,#858585 100.0%)"></i>
<i style="background:linear-gradient(90deg,#9a9a9a 0.0%,#9a9a9a 20.0%,#999999 32.5%,#979797 50.0%,#909090 80.0%,#8a8a8a 91.0%,#878787 96.0%,#868686 100.0%)"></i>
<i style="background:linear-gradient(90deg,#9b9b9b 0.0%,#9b9b9b 17.5%,#9a9a9a 30.0%,#989898 50.0%,#8e8e8e 85.0%,#8b8b8b 90.5%,#898989 94.0%,#878787 100.0%)"></i>
<i style="background:linear-gradient(90deg,#9c9c9c 0.0%,#9c9c9c 15.0%,#9b9b9b 30.0%,#999999 47.5%,#909090 82.5%,#8c8c8c 90.0%,#8a8a8a 93.5%,#888888 100.0%)"></i>
<i style="background:linear-gradient(90deg,#9d9d9d 0.0%,#9d9d9d 15.0%,#9c9c9c 27.5%,#9a9a9a 45.0%,#929292 80.0%,#8d8d8d 90.0%,#8b8b8b 93.5%,#898989 100.0%)"></i>
<i style="background:linear-gradient(90deg,#9e9e9e 0.0%,#9e9e9e 15.0%,#9d9d9d 27.5%,#9b9b9b 45.0%,#8f8f8f 87.5%,#8d8d8d 91.5%,#8b8b8b 95.5%,#8a8a8a 100.0%)"></i>
<i style="background:linear-gradient(90deg,#9f9f9f 0.0%,#9f9f9f 12.5%,#9e9e9e 27.5%,#9c9c9c 45.0%,#909090 87.5%,#8e8e8e 91.0%,#8c8c8c 95.5%,#8b8b8b 100.0%)"></i>
<i style="background:linear-gradient(90deg,#a0a0a0 0.0%,#a0a0a0 12.5%,#9f9f9f 27.5%,#929292 85.0%,#8f8f8f 91.0%,#8d8d8d 95.5%,#8c8c8c 100.0%)"></i>
<i style="background:linear-gradient(90deg,#a1a1a1 0.0%,#a1a1a1 12.5%,#a0a0a0 25.0%,#9e9e9e 42.5%,#959595 80.0%,#909090 91.0%,#8e8e8e 95.5%,#8d8d8d 100.0%)"></i>
<i style="background:linear-gradient(90deg,#a2a2a2 0.0%,#a2a2a2 12.5%,#a1a1a1 25.0%,#9f9f9f 42.5%,#919191 90.5%,#8f8f8f 95.5%,#8e8e8e 100.0%)"></i>
<i style="background:linear-gradient(90deg,#a3a3a3 0.0%,#a3a3a3 12.5%,#a2a2a2 25.0%,#a0a0a0 42.5%,#929292 90.5%,#909090 95.5%,#8f8f8f 100.0%)"></i>
<i style="background:linear-gradient(90deg,#a4a4a4 0.0%,#a4a4a4 12.5%,#a3a3a3 25.0%,#a1a1a1 42.5%,#939393 90.5%,#919191 95.5%,#909090 100.0%)"></i>
<i style="background:linear-gradient(90deg,#a5a5a5 0.0%,#a5a5a5 12.5%,#a4a4a4 25.0%,#949494 90.0%,#939393 92.5%,#929292 95.5%,#919191 100.0%)"></i>
<i style="background:linear-gradient(90deg,#a6a6a6 0.0%,#a6a6a6 12.5%,#a5a5a5 25.0%,#959595 90.0%,#949494 92.5%,#939393 95.5%,#929292 100.0%)"></i>
<i style="background:linear-gradient(90deg,#a7a7a7 0.0%,#a7a7a7 12.5%,#a6a6a6 25.0%,#969696 90.0%,#959595 92.5%,#949494 95.5%,#939393 100.0%)"></i>
<i style="background:linear-gradient(90deg,#a8a8a8 0.0%,#a8a8a8 15.0%,#a6a6a6 32.5%,#969696 92.5%,#959595 96.0%,#949494 100.0%)"></i>
<i style="background:linear-gradient(90deg,#a9a9a9 0.0%,#a9a9a9 15.0%,#a7a7a7 35.0%,#979797 92.5%,#969696 96.0%,#959595 100.0%)"></i>
<i style="background:linear-gradient(90deg,#aaaaaa 0.0%,#aaaaaa 15.0%,#a8a8a8 35.0%,#989898 92.5%,#979797 97.0%,#969696 99.5%,#979797 100.0%)"></i>
<i style="background:linear-gradient(90deg,#ababab 0.0%,#ababab 17.5%,#a9a9a9 35.0%,#999999 92.5%,#989898 100.0%)"></i>
<i style="background:linear-gradient(90deg,#acacac 0.0%,#acacac 17.5%,#aaaaaa 35.0%,#9a9a9a 93.0%,#999999 100.0%)"></i>
<i style="background:linear-gradient(90deg,#adadad 0.0%,#adadad 17.5%,#ababab 35.0%,#9c9c9c 87.5%,#9c9c9c 90.0%,#9b9b9b 93.0%,#9a9a9a 100.0%)"></i>
<i style="background:linear-gradient(90deg,#aeaeae 0.0%,#aeaeae 20.0%,#9d9d9d 87.5%,#9d9d9d 90.0%,#9c9c9c 93.5%,#9b9b9b 100.0%)"></i>
<i style="background:linear-gradient(90deg,#b0b0b0 0.0%,#b0b0b0 5.0%,#afafaf 20.0%,#adadad 37.5%,#a5a5a5 67.5%,#9e9e9e 87.5%,#9e9e9e 90.5%,#9d9d9d 94.5%,#9c9c9c 100.0%)"></i>
<i style="background:linear-gradient(90deg,#b1b1b1 0.0%,#b1b1b1 7.5%,#b0b0b0 22.5%,#a0a0a0 85.0%,#9f9f9f 90.5%,#9e9e9e 95.5%,#9d9d9d 100.0%)"></i>
<i style="background:linear-gradient(90deg,#b2b2b2 0.0%,#b2b2b2 12.5%,#b0b0b0 32.5%,#a1a1a1 85.0%,#a0a0a0 91.0%,#9f9f9f 100.0%)"></i>
<i style="background:linear-gradient(90deg,#b3b3b3 0.0%,#b3b3b3 12.5%,#b2b2b2 25.0%,#a2a2a2 85.0%,#a1a1a1 91.5%,#a0a0a0 100.0%)"></i>
<i style="background:linear-gradient(90deg,#b4b4b4 0.0%,#b4b4b4 15.0%,#b2b2b2 32.5%,#a4a4a4 82.5%,#a2a2a2 92.0%,#a1a1a1 100.0%)"></i>
<i style="background:linear-gradient(90deg,#b5b5b5 0.0%,#b5b5b5 17.5%,#a3a3a3 93.0%,#a2a2a2 100.0%)"></i>
<i style="background:linear-gradient(90deg,#b6b6b6 0.0%,#b6b6b6 17.5%,#b4b4b4 35.0%,#acacac 65.0%,#a7a7a7 80.0%,#a4a4a4 93.5%,#a3a3a3 100.0%)"></i>
<i style="background:linear-gradient(90deg,#b8b8b8 0.0%,#b7b7b7 20.0%,#a5a5a5 94.5%,#a4a4a4 100.0%)"></i>
<i style="background:linear-gradient(90deg,#b9b9b9 0.0%,#b9b9b9 5.0%,#b8b8b8 20.0%,#a7a7a7 87.5%,#a7a7a7 90.0%,#a6a6a6 97.0%,#a5a5a5 97.5%,#a6a6a6 100.0%)"></i>
<i style="background:linear-gradient(90deg,#bababa 0.0%,#bababa 7.5%,#b9b9b9 22.5%,#ababab 77.5%,#a8a8a8 90.5%,#a7a7a7 100.0%)"></i>
<i style="background:linear-gradient(90deg,#bbbbbb 0.0%,#bbbbbb 10.0%,#bababa 22.5%,#acacac 77.5%,#a9a9a9 90.5%,#a8a8a8 100.0%)"></i>
<i style="background:linear-gradient(90deg,#bcbcbc 0.0%,#bcbcbc 12.5%,#bababa 30.0%,#adadad 77.5%,#aaaaaa 91.0%,#a9a9a9 100.0%)"></i>
<i style="background:linear-gradient(90deg,#bdbdbd 0.0%,#bdbdbd 12.5%,#bcbcbc 25.0%,#aeaeae 77.5%,#ababab 91.5%,#aaaaaa 100.0%)"></i>
<i style="background:linear-gradient(90deg,#bebebe 0.0%,#bebebe 15.0%,#bcbcbc 32.5%,#b0b0b0 75.0%,#acacac 87.5%,#acacac 91.5%,#ababab 100.0%)"></i>
<i style="background:linear-gradient(90deg,#bfbfbf 0.0%,#bfbfbf 15.0%,#bdbdbd 32.5%,#b1b1b1 75.0%,#adadad 87.5%,#adadad 92.0%,#acacac 100.0%)"></i>
<i style="background:linear-gradient(90deg,#c0c0c0 0.0%,#c0c0c0 15.0%,#bebebe 32.5%,#b2b2b2 75.0%,#aeaeae 92.5%,#adadad 100.0%)"></i>
<i style="background:linear-gradient(90deg,#c1c1c1 0.0%,#c1c1c1 15.0%,#bfbfbf 32.5%,#b3b3b3 75.0%,#afafaf 93.0%,#aeaeae 100.0%)"></i>
<i style="background:linear-gradient(90deg,#c2c2c2 0.0%,#c2c2c2 17.5%,#b1b1b1 85.0%,#b0b0b0 93.5%,#afafaf 100.0%)"></i>
<i style="background:linear-gradient(90deg,#c3c3c3 0.0%,#c3c3c3 17.5%,#b2b2b2 85.0%,#b1b1b1 94.5%,#b0b0b0 98.5%,#b1b1b1 100.0%)"></i>
<i style="background:linear-gradient(90deg,#c4c4c4 0.0%,#c4c4c4 20.0%,#b3b3b3 85.0%,#b2b2b2 100.0%)"></i>
<i style="background:linear-gradient(90deg,#c6c6c6 0.0%,#c6c6c6 5.0%,#c5c5c5 20.0%,#b5b5b5 82.5%,#b3b3b3 100.0%)"></i>
<i style="background:linear-gradient(90deg,#c7c7c7 0.0%,#c7c7c7 7.5%,#c6c6c6 20.0%,#b6b6b6 82.5%,#b4b4b4 100.0%)"></i>
<i style="background:linear-gradient(90deg,#c8c8c8 0.0%,#c8c8c8 10.0%,#c7c7c7 22.5%,#b7b7b7 82.5%,#b6b6b6 90.5%,#b5b5b5 100.0%)"></i>
<i style="background:linear-gradient(90deg,#c9c9c9 0.0%,#c9c9c9 12.5%,#c8c8c8 25.0%,#b9b9b9 80.0%,#b7b7b7 91.5%,#b6b6b6 100.0%)"></i>
<i style="background:linear-gradient(90deg,#cacaca 0.0%,#cacaca 15.0%,#c8c8c8 32.5%,#c0c0c0 62.5%,#bbbbbb 77.5%,#b8b8b8 92.5%,#b7b7b7 100.0%)"></i>
<i style="background:linear-gradient(90deg,#cbcbcb 0.0%,#cbcbcb 17.5%,#bababa 85.0%,#b9b9b9 100.0%)"></i>
<i style="background:linear-gradient(90deg,#cdcdcd 0.0%,#cdcdcd 7.5%,#cccccc 20.0%,#bbbbbb 85.0%,#bababa 100.0%)"></i>
<i style="background:linear-gradient(90deg,#cecece 0.0%,#cecece 12.5%,#cccccc 30.0%,#c2c2c2 67.5%,#bdbdbd 82.5%,#bcbcbc 90.0%,#bbbbbb 100.0%)"></i>
<i style="background:linear-gradient(90deg,#cfcfcf 0.0%,#cfcfcf 15.0%,#cdcdcd 32.5%,#c4c4c4 65.0%,#bfbfbf 80.0%,#bdbdbd 92.0%,#bcbcbc 100.0%)"></i>
<i style="background:linear-gradient(90deg,#d0d0d0 0.0%,#d0d0d0 17.5%,#bfbfbf 85.0%,#bebebe 95.5%,#bdbdbd 97.0%,#bebebe 100.0%)"></i>
<i style="background:linear-gradient(90deg,#d2d2d2 0.0%,#d2d2d2 7.5%,#d1d1d1 20.0%,#c0c0c0 85.0%,#bfbfbf 100.0%)"></i>
<i style="background:linear-gradient(90deg,#d3d3d3 0.0%,#d3d3d3 12.5%,#d1d1d1 30.0%,#c7c7c7 67.5%,#c2c2c2 82.5%,#c1c1c1 90.5%,#c0c0c0 100.0%)"></i>
<i style="background:linear-gradient(90deg,#d4d4d4 0.0%,#d4d4d4 17.5%,#c4c4c4 80.0%,#c2c2c2 93.0%,#c1c1c1 99.0%,#c2c2c2 100.0%)"></i>
<i style="background:linear-gradient(90deg,#d6d6d6 0.0%,#d6d6d6 5.0%,#d5d5d5 20.0%,#c7c7c7 75.0%,#c3c3c3 100.0%)"></i>
<i style="background:linear-gradient(90deg,#d7d7d7 0.0%,#d7d7d7 12.5%,#d5d5d5 30.0%,#cacaca 70.0%,#c6c6c6 82.5%,#c5c5c5 90.0%,#c4c4c4 100.0%)"></i>
<i style="background:linear-gradient(90deg,#d8d8d8 0.0%,#d8d8d8 17.5%,#c8c8c8 80.0%,#c6c6c6 92.5%,#c5c5c5 99.5%,#c6c6c6 100.0%)"></i>
<i style="background:linear-gradient(90deg,#dadada 0.0%,#dadada 5.0%,#d9d9d9 20.0%,#cbcbcb 75.0%,#c7c7c7 100.0%)"></i>
<i style="background:linear-gradient(90deg,#dbdbdb 0.0%,#dbdbdb 12.5%,#d9d9d9 30.0%,#cecece 70.0%,#cacaca 82.5%,#c9c9c9 90.0%,#c8c8c8 100.0%)"></i>
<i style="background:linear-gradient(90deg,#dcdcdc 0.0%,#dcdcdc 17.5%,#cccccc 80.0%,#cacaca 93.0%,#c9c9c9 99.0%,#cacaca 100.0%)"></i>
<i style="background:linear-gradient(90deg,#dedede 0.0%,#dedede 7.5%,#dddddd 20.0%,#cfcfcf 75.0%,#cbcbcb 100.0%)"></i>
<i style="background:linear-gradient(90deg,#dfdfdf 0.0%,#dfdfdf 15.0%,#cecece 82.5%,#cdcdcd 90.5%,#cccccc 100.0%)"></i>
<i style="background:linear-gradient(90deg,#e1e1e1 0.0%,#e0e0e0 20.0%,#d1d1d1 77.5%,#cecece 100.0%)"></i>
<i style="background:linear-gradient(90deg,#e2e2e2 0.0%,#e2e2e2 12.5%,#e0e0e0 30.0%,#d4d4d4 72.5%,#d0d0d0 85.0%,#cfcfcf 100.0%)"></i>
<i style="background:linear-gradient(90deg,#e3e3e3 0.0%,#e3e3e3 17.5%,#d3d3d3 80.0%,#d1d1d1 92.5%,#d0d0d0 99.0%,#d1d1d1 100.0%)"></i>
<i style="background:linear-gradient(90deg,#e5e5e5 0.0%,#e5e5e5 10.0%,#e4e4e4 22.5%,#d6d6d6 75.0%,#d2d2d2 100.0%)"></i>
<i style="background:linear-gradient(90deg,#e6e6e6 0.0%,#e6e6e6 15.0%,#e4e4e4 32.5%,#dadada 67.5%,#d5d5d5 82.5%,#d4d4d4 91.5%,#d3d3d3 100.0%)"></i>
<i style="background:linear-gradient(90deg,#e8e8e8 0.0%,#e8e8e8 7.5%,#e7e7e7 20.0%,#d8d8d8 77.5%,#d5d5d5 100.0%)"></i>
<i style="background:linear-gradient(90deg,#e9e9e9 0.0%,#e9e9e9 15.0%,#e7e7e7 32.5%,#dddddd 67.5%,#d8d8d8 82.5%,#d7d7d7 90.5%,#d6d6d6 100.0%)"></i>
<i style="background:linear-gradient(90deg,#ebebeb 0.0%,#ebebeb 5.0%,#eaeaea 20.0%,#dbdbdb 77.5%,#d8d8d8 100.0%)"></i>
<i style="background:linear-gradient(90deg,#ececec 0.0%,#ececec 15.0%,#dbdbdb 82.5%,#dadada 90.0%,#d9d9d9 100.0%)"></i>
<i style="background:linear-gradient(90deg,#eeeeee 0.0%,#ededed 20.0%,#dddddd 80.0%,#dbdbdb 94.5%,#dadada 97.0%,#dbdbdb 100.0%)"></i>
<i style="background:linear-gradient(90deg,#efefef 0.0%,#efefef 12.5%,#ededed 30.0%,#e1e1e1 72.5%,#dddddd 85.0%,#dcdcdc 100.0%)"></i>
<i style="background:linear-gradient(90deg,#f0f0f0 0.0%,#f0f0f0 17.5%,#e0e0e0 80.0%,#dedede 92.5%,#dddddd 99.0%,#dedede 100.0%)"></i>
<i style="background:linear-gradient(90deg,#f2f2f2 0.0%,#f2f2f2 10.0%,#f1f1f1 22.5%,#e3e3e3 75.0%,#dfdfdf 100.0%)"></i>
<i style="background:linear-gradient(90deg,#f3f3f3 0.0%,#f3f3f3 17.5%,#e2e2e2 82.5%,#e1e1e1 91.5%,#e0e0e0 100.0%)"></i>
<i style="background:linear-gradient(90deg,#f5f5f5 0.0%,#f5f5f5 10.0%,#f4f4f4 22.5%,#e5e5e5 77.5%,#e2e2e2 100.0%)"></i>
<i style="background:linear-gradient(90deg,#f6f6f6 0.0%,#f6f6f6 15.0%,#f4f4f4 32.5%,#eaeaea 67.5%,#e5e5e5 82.5%,#e4e4e4 90.5%,#e3e3e3 100.0%)"></i>
<i style="background:linear-gradient(90deg,#f8f8f8 0.0%,#f8f8f8 7.5%,#f7f7f7 20.0%,#e8e8e8 77.5%,#e5e5e5 100.0%)"></i>
<i style="background:linear-gradient(90deg,#f9f9f9 0.0%,#f9f9f9 15.0%,#f7f7f7 32.5%,#ececec 70.0%,#e8e8e8 82.5%,#e7e7e7 90.0%,#e6e6e6 100.0%)"></i>
<i style="background:linear-gradient(90deg,#fbfbfb 0.0%,#fbfbfb 5.0%,#fafafa 20.0%,#eaeaea 80.0%,#e8e8e8 100.0%)"></i>
<i style="background:linear-gradient(90deg,#fcfcfc 0.0%,#fcfcfc 15.0%,#eaeaea 85.0%,#e9e9e9 100.0%)"></i>
</div>
<div class="hm" style="left:706.4px;top:13.7px;width:387.4px;height:238.1px">
<i style="background:linear-gradient(90deg,#000000 0.0%,#161616 44.0%,#1d1d1d 56.0%,#303030 80.5%,#313131 81.5%,#323232 82.5%,#343434 84.2%,#353535 85.2%,#363636 86.2%,#383838 88.0%,#3a3a3a 89.8%,#4e4e4e 100.0%)"></i>
<i style="background:linear-gradient(90deg,#000000 0.0%,#161616 44.0%,#1c1c1c 54.0%,#212121 62.0%,#303030 80.5%,#313131 81.5%,#333333 83.2%,#353535 85.2%,#373737 87.0%,#393939 88.8%,#4e4e4e 100.0%)"></i>
<i style="background:linear-gradient(90deg,#000000 0.0%,#161616 44.0%,#1c1c1c 54.0%,#212121 62.0%,#303030 80.5%,#323232 82.2%,#343434 84.2%,#353535 85.2%,#373737 87.0%,#393939 88.8%,#4e4e4e 100.0%)"></i>
<i style="background:linear-gradient(90deg,#000000 0.0%,#161616 44.0%,#1c1c1c 54.0%,#212121 62.0%,#303030 80.2%,#323232 82.2%,#343434 84.2%,#363636 86.0%,#383838 87.8%,#393939 88.8%,#4e4e4e 100.0%)"></i>
<i style="background:linear-gradient(90deg,#000000 0.0%,#151515 42.0%,#1c1c1c 54.0%,#212121 62.0%,#303030 80.2%,#323232 82.2%,#343434 84.2%,#363636 86.0%,#383838 87.8%,#3a3a3a 89.5%,#4e4e4e 100.0%)"></i>
<i style="background:linear-gradient(90deg,#000000 0.0%,#151515 42.0%,#1c1c1c 54.0%,#212121 62.0%,#303030 80.2%,#323232 82.2%,#343434 84.0%,#353535 85.0%,#373737 86.8%,#383838 87.8%,#3a3a3a 89.5%,#4e4e4e 100.0%)"></i>
<i style="background:linear-gradient(90deg,#000000 0.0%,#151515 42.0%,#1c1c1c 54.0%,#303030 80.2%,#323232 82.2%,#343434 84.0%,#353535 85.0%,#373737 86.8%,#383838 87.8%,#3a3a3a 89.5%,#4e4e4e 100.0%)"></i>
<i style="background:linear-gradient(90deg,#000000 0.0%,#151515 42.0%,#1c1c1c 54.0%,#303030 80.2%,#323232 82.2%,#343434 84.0%,#353535 85.0%,#373737 86.8%,#393939 88.5%,#4e4e4e 100.0%)"></i>
<i style="background:linear-gradient(90deg,#000000 0.0%,#151515 42.0%,#1c1c1c 54.0%,#303030 80.2%,#323232 82.0%,#333333 83.0%,#343434 84.0%,#353535 85.0%,#373737 86.8%,#393939 88.5%,#4e4e4e 100.0%)"></i>
<i style="background:linear-gradient(90deg,#000000 0.0%,#141414 40.0%,#1c1c1c 54.0%,#303030 80.0%,#313131 81.0%,#323232 82.0%,#333333 83.0%,#343434 84.0%,#363636 85.8%,#373737 86.8%,#393939 88.5%,#4e4e4e 100.0%)"></i>
<i style="background:linear-gradient(90deg,#000000 0.0%,#141414 40.0%,#1b1b1b 52.0%,#202020 60.0%,#303030 80.0%,#313131 81.0%,#323232 82.0%,#333333 83.0%,#353535 84.8%,#363636 85.8%,#383838 87.5%,#3a3a3a 89.2%,#4e4e4e 100.0%)"></i>
<i style="background:linear-gradient(90deg,#000000 0.0%,#141414 40.0%,#1b1b1b 52.0%,#202020 60.0%,#303030 80.0%,#313131 81.0%,#323232 82.0%,#333333 83.0%,#353535 84.8%,#363636 85.8%,#383838 87.5%,#3a3a3a 89.2%,#4f4f4f 100.0%)"></i>
<i style="background:linear-gradient(90deg,#000000 0.0%,#141414 40.0%,#1b1b1b 52.0%,#202020 60.0%,#303030 80.0%,#313131 81.0%,#323232 82.0%,#343434 83.8%,#363636 85.5%,#383838 87.5%,#3b3b3b 90.0%,#4f4f4f 100.0%)"></i>
<i style="background:linear-gradient(90deg,#000000 0.0%,#131313 38.0%,#1b1b1b 52.0%,#202020 60.0%,#303030 80.0%,#313131 81.0%,#333333 82.8%,#353535 84.8%,#373737 86.5%,#393939 88.2%,#3b3b3b 90.0%,#4f4f4f 100.0%)"></i>
<i style="background:linear-gradient(90deg,#000000 0.0%,#131313 38.0%,#1b1b1b 52.0%,#202020 60.0%,#313131 80.8%,#333333 82.8%,#353535 84.5%,#373737 86.5%,#393939 88.2%,#3c3c3c 90.5%,#4f4f4f 100.0%)"></i>
<i style="background:linear-gradient(90deg,#000000 0.0%,#131313 38.0%,#1b1b1b 52.0%,#202020 60.0%,#313131 80.8%,#333333 82.8%,#353535 84.5%,#373737 86.2%,#383838 87.2%,#3a3a3a 89.0%,#4f4f4f 100.0%)"></i>
<i style="background:linear-gradient(90deg,#000000 0.0%,#131313 38.0%,#1b1b1b 52.0%,#202020 60.0%,#313131 80.8%,#333333 82.8%,#353535 84.5%,#373737 86.2%,#383838 87.2%,#3a3a3a 89.0%,#4f4f4f 100.0%)"></i>
<i style="background:linear-gradient(90deg,#000000 0.0%,#121212 36.0%,#1a1a1a 50.0%,#202020 60.0%,#313131 80.8%,#333333 82.5%,#343434 83.5%,#353535 84.5%,#373737 86.2%,#383838 87.2%,#3b3b3b 89.8%,#4f4f4f 100.0%)"></i>
<i style="background:linear-gradient(90deg,#000000 0.0%,#121212 36.0%,#1a1a1a 50.0%,#202020 60.0%,#313131 80.8%,#333333 82.5%,#343434 83.5%,#353535 84.5%,#373737 86.2%,#393939 88.0%,#3b3b3b 89.8%,#4f4f4f 100.0%)"></i>
<i style="background:linear-gradient(90deg,#000000 0.0%,#121212 36.0%,#1a1a1a 50.0%,#232323 64.0%,#313131 80.5%,#323232 81.5%,#333333 82.5%,#343434 83.5%,#363636 85.2%,#373737 86.2%,#393939 88.0%,#3c3c3c 90.3%,#4f4f4f 100.0%)"></i>
<i style="background:linear-gradient(90deg,#000000 0.0%,#121212 36.0%,#1a1a1a 50.0%,#232323 64.0%,#2a2a2a 72.0%,#313131 80.5%,#323232 81.5%,#333333 82.5%,#353535 84.2%,#363636 85.2%,#383838 87.0%,#3a3a3a 88.8%,#4f4f4f 100.0%)"></i>
<i style="background:linear-gradient(90deg,#000000 0.0%,#111111 34.0%,#1a1a1a 50.0%,#232323 64.0%,#2a2a2a 72.0%,#313131 80.5%,#323232 81.5%,#333333 82.5%,#353535 84.2%,#363636 85.2%,#383838 87.0%,#3a3a3a 88.8%,#4f4f4f 100.0%)"></i>
<i style="background:linear-gradient(90deg,#000000 0.0%,#111111 34.0%,#1a1a1a 50.0%,#313131 80.5%,#323232 81.5%,#343434 83.2%,#363636 85.0%,#383838 86.8%,#393939 87.8%,#3b3b3b 89.5%,#505050 100.0%)"></i>
<i style="background:linear-gradient(90deg,#000000 0.0%,#111111 34.0%,#191919 48.0%,#1f1f1f 58.0%,#313131 80.2%,#333333 82.2%,#353535 84.0%,#363636 85.0%,#383838 86.8%,#393939 87.8%,#3b3b3b 89.5%,#505050 100.0%)"></i>
<i style="background:linear-gradient(90deg,#000000 0.0%,#111111 34.0%,#191919 48.0%,#1f1f1f 58.0%,#313131 80.2%,#333333 82.2%,#353535 84.0%,#363636 85.0%,#383838 86.8%,#3a3a3a 88.5%,#505050 100.0%)"></i>
<i style="background:linear-gradient(90deg,#000000 0.0%,#101010 32.0%,#191919 48.0%,#1e1e1e 56.0%,#313131 80.2%,#333333 82.2%,#353535 84.0%,#363636 85.0%,#383838 86.8%,#3a3a3a 88.5%,#505050 100.0%)"></i>
<i style="background:linear-gradient(90deg,#000000 0.0%,#101010 32.0%,#191919 48.0%,#1e1e1e 56.0%,#313131 80.2%,#333333 82.0%,#343434 83.0%,#353535 84.0%,#373737 85.8%,#383838 86.8%,#3b3b3b 89.2%,#505050 100.0%)"></i>
<i style="background:linear-gradient(90deg,#000000 0.0%,#101010 32.0%,#191919 48.0%,#1e1e1e 56.0%,#313131 80.0%,#323232 81.0%,#333333 82.0%,#343434 83.0%,#353535 84.0%,#373737 85.8%,#393939 87.5%,#3b3b3b 89.2%,#4f4f4f 99.5%,#515151 99.8%,#515151 100.0%)"></i>
<i style="background:linear-gradient(90deg,#000000 0.0%,#0f0f0f 30.0%,#191919 48.0%,#1e1e1e 56.0%,#313131 80.0%,#323232 81.0%,#333333 82.0%,#343434 83.0%,#363636 84.8%,#383838 86.5%,#3a3a3a 88.2%,#3c3c3c 90.0%,#4f4f4f 99.5%,#515151 99.8%,#515151 100.0%)"></i>
<i style="background:linear-gradient(90deg,#000000 0.0%,#0f0f0f 30.0%,#181818 46.0%,#1e1e1e 56.0%,#313131 80.0%,#323232 81.0%,#333333 82.0%,#353535 83.8%,#373737 85.5%,#393939 87.2%,#3a3a3a 88.2%,#3d3d3d 90.5%,#515151 100.0%)"></i>
<i style="background:linear-gradient(90deg,#000000 0.0%,#0f0f0f 30.0%,#181818 46.0%,#1e1e1e 56.0%,#313131 80.0%,#323232 81.0%,#343434 82.8%,#363636 84.5%,#383838 86.2%,#393939 87.2%,#3b3b3b 89.0%,#505050 99.5%,#525252 99.8%,#525252 100.0%)"></i>
<i style="background:linear-gradient(90deg,#000000 0.0%,#0f0f0f 30.0%,#181818 46.0%,#1d1d1d 54.0%,#222222 62.0%,#2f2f2f 78.0%,#323232 80.8%,#343434 82.8%,#363636 84.5%,#383838 86.2%,#393939 87.2%,#3b3b3b 89.0%,#505050 99.5%,#525252 99.8%,#525252 100.0%)"></i>
<i style="background:linear-gradient(90deg,#000000 0.0%,#0e0e0e 28.0%,#181818 46.0%,#1d1d1d 54.0%,#323232 80.8%,#343434 82.8%,#363636 84.5%,#383838 86.2%,#3a3a3a 88.0%,#3c3c3c 89.8%,#505050 99.5%,#525252 99.8%,#525252 100.0%)"></i>
<i style="background:linear-gradient(90deg,#000000 0.0%,#0e0e0e 28.0%,#181818 46.0%,#1d1d1d 54.0%,#323232 80.8%,#343434 82.5%,#353535 83.5%,#363636 84.5%,#383838 86.2%,#3a3a3a 88.0%,#3d3d3d 90.3%,#505050 99.5%,#535353 99.8%,#535353 100.0%)"></i>
<i style="background:linear-gradient(90deg,#000000 0.0%,#0d0d0d 26.0%,#181818 46.0%,#1d1d1d 54.0%,#323232 80.5%,#333333 81.5%,#343434 82.5%,#353535 83.5%,#373737 85.2%,#393939 87.0%,#3b3b3b 88.8%,#505050 99.5%,#545454 99.8%,#545454 100.0%)"></i>
<i style="background:linear-gradient(90deg,#000000 0.0%,#0d0d0d 26.0%,#171717 44.0%,#1d1d1d 54.0%,#323232 80.5%,#333333 81.5%,#343434 82.5%,#363636 84.2%,#373737 85.2%,#393939 87.0%,#3c3c3c 89.5%,#515151 99.5%,#545454 99.8%,#545454 100.0%)"></i>
<i style="background:linear-gradient(90deg,#000000 0.0%,#0d0d0d 26.0%,#171717 44.0%,#1d1d1d 54.0%,#323232 80.5%,#333333 81.5%,#353535 83.2%,#373737 85.0%,#393939 86.8%,#3a3a3a 87.8%,#515151 99.5%,#555555 99.8%,#555555 100.0%)"></i>
<i style="background:linear-gradient(90deg,#000000 0.0%,#0c0c0c 24.0%,#171717 44.0%,#1c1c1c 52.0%,#212121 60.0%,#323232 80.5%,#343434 82.2%,#363636 84.0%,#373737 85.0%,#393939 86.8%,#3b3b3b 88.5%,#515151 99.5%,#565656 99.8%,#565656 100.0%)"></i>
<i style="background:linear-gradient(90deg,#000000 0.0%,#0c0c0c 24.0%,#171717 44.0%,#1c1c1c 52.0%,#212121 60.0%,#323232 80.2%,#343434 82.2%,#363636 84.0%,#373737 85.0%,#393939 86.8%,#3b3b3b 88.5%,#515151 99.5%,#585858 99.8%,#585858 100.0%)"></i>
<i style="background:linear-gradient(90deg,#000000 0.0%,#0b0b0b 22.0%,#161616 42.0%,#1c1c1c 52.0%,#212121 60.0%,#323232 80.2%,#343434 82.2%,#363636 84.0%,#383838 85.8%,#3a3a3a 87.5%,#3c3c3c 89.2%,#505050 99.2%,#525252 99.5%,#595959 99.8%,#595959 100.0%)"></i>
<i style="background:linear-gradient(90deg,#000000 0.0%,#0b0b0b 22.0%,#161616 42.0%,#1c1c1c 52.0%,#212121 60.0%,#282828 68.0%,#323232 80.2%,#343434 82.0%,#353535 83.0%,#363636 84.0%,#383838 85.8%,#3a3a3a 87.5%,#3d3d3d 90.0%,#505050 99.2%,#525252 99.5%,#5b5b5b 99.8%,#5b5b5b 100.0%)"></i>
<i style="background:linear-gradient(90deg,#000000 0.0%,#0b0b0b 22.0%,#161616 42.0%,#1c1c1c 52.0%,#323232 80.0%,#333333 81.0%,#343434 82.0%,#353535 83.0%,#373737 84.8%,#393939 86.5%,#3b3b3b 88.2%,#525252 99.5%,#5c5c5c 99.8%,#5c5c5c 100.0%)"></i>
<i style="background:linear-gradient(90deg,#000000 0.0%,#0a0a0a 20.0%,#161616 42.0%,#1b1b1b 50.0%,#202020 58.0%,#323232 80.0%,#333333 81.0%,#343434 82.0%,#363636 83.8%,#383838 85.5%,#3a3a3a 87.2%,#3c3c3c 89.0%,#515151 99.2%,#535353 99.5%,#5e5e5e 99.8%,#5e5e5e 100.0%)"></i>
<i style="background:linear-gradient(90deg,#000000 0.0%,#0a0a0a 20.0%,#151515 40.0%,#1b1b1b 50.0%,#202020 58.0%,#323232 80.0%,#333333 81.0%,#353535 82.8%,#373737 84.5%,#393939 86.2%,#3a3a3a 87.2%,#3d3d3d 89.8%,#515151 99.2%,#535353 99.5%,#616161 99.8%,#616161 100.0%)"></i>
<i style="background:linear-gradient(90deg,#000000 0.0%,#0a0a0a 20.0%,#151515 40.0%,#1b1b1b 50.0%,#202020 58.0%,#303030 78.0%,#333333 80.8%,#353535 82.8%,#373737 84.5%,#393939 86.2%,#3b3b3b 88.0%,#3e3e3e 90.3%,#515151 99.2%,#545454 99.5%,#636363 99.8%,#636363 100.0%)"></i>
<i style="background:linear-gradient(90deg,#000000 0.0%,#090909 18.0%,#151515 40.0%,#1b1b1b 50.0%,#202020 58.0%,#2e2e2e 76.0%,#333333 80.8%,#353535 82.5%,#363636 83.5%,#373737 84.5%,#393939 86.2%,#3c3c3c 88.8%,#505050 99.0%,#555555 99.5%,#666666 99.8%,#666666 100.0%)"></i>
<i style="background:linear-gradient(90deg,#000000 0.0%,#090909 18.0%,#141414 38.0%,#1b1b1b 50.0%,#333333 80.8%,#353535 82.5%,#363636 83.5%,#383838 85.2%,#3a3a3a 87.0%,#3d3d3d 89.5%,#525252 99.2%,#555555 99.5%,#696969 99.8%,#696969 100.0%)"></i>
<i style="background:linear-gradient(90deg,#000000 0.0%,#090909 18.0%,#141414 38.0%,#1a1a1a 48.0%,#1f1f1f 56.0%,#333333 80.5%,#343434 81.5%,#353535 82.5%,#373737 84.2%,#393939 86.0%,#3b3b3b 87.8%,#525252 99.2%,#565656 99.5%,#6d6d6d 99.8%,#6d6d6d 100.0%)"></i>
<i style="background:linear-gradient(90deg,#000000 0.0%,#090909 18.0%,#141414 38.0%,#1a1a1a 48.0%,#1f1f1f 56.0%,#333333 80.5%,#343434 81.5%,#363636 83.2%,#383838 85.0%,#3a3a3a 86.8%,#3c3c3c 88.5%,#515151 99.0%,#535353 99.2%,#585858 99.5%,#707070 99.8%,#707070 100.0%)"></i>
<i style="background:linear-gradient(90deg,#000000 0.0%,#080808 16.0%,#141414 38.0%,#1a1a1a 48.0%,#1f1f1f 56.0%,#333333 80.5%,#353535 82.2%,#373737 84.0%,#383838 85.0%,#3a3a3a 86.8%,#3d3d3d 89.2%,#505050 98.8%,#535353 99.2%,#595959 99.5%,#747474 99.8%,#747474 100.0%)"></i>
<i style="background:linear-gradient(90deg,#000000 0.0%,#080808 16.0%,#131313 36.0%,#1a1a1a 48.0%,#1f1f1f 56.0%,#333333 80.2%,#353535 82.2%,#373737 84.0%,#393939 85.8%,#3b3b3b 87.5%,#3e3e3e 89.8%,#525252 99.0%,#545454 99.2%,#5a5a5a 99.5%,#787878 99.8%,#787878 100.0%)"></i>
<i style="background:linear-gradient(90deg,#000000 0.0%,#080808 16.0%,#131313 36.0%,#1a1a1a 48.0%,#333333 80.2%,#353535 82.0%,#363636 83.0%,#383838 84.8%,#3a3a3a 86.5%,#3c3c3c 88.2%,#525252 99.0%,#555555 99.2%,#5c5c5c 99.5%,#7d7d7d 99.8%,#7d7d7d 100.0%)"></i>
<i style="background:linear-gradient(90deg,#000000 0.0%,#080808 16.0%,#131313 36.0%,#191919 46.0%,#1e1e1e 54.0%,#333333 80.0%,#343434 81.0%,#353535 82.0%,#373737 83.8%,#393939 85.5%,#3b3b3b 87.2%,#3e3e3e 89.8%,#515151 98.8%,#565656 99.2%,#5e5e5e 99.5%,#818181 99.8%,#818181 100.0%)"></i>
<i style="background:linear-gradient(90deg,#000000 0.0%,#070707 14.0%,#131313 36.0%,#191919 46.0%,#1e1e1e 54.0%,#333333 80.0%,#343434 81.0%,#363636 82.8%,#383838 84.5%,#3a3a3a 86.2%,#3c3c3c 88.0%,#3f3f3f 90.3%,#535353 99.0%,#565656 99.2%,#606060 99.5%,#868686 99.8%,#868686 100.0%)"></i>
<i style="background:linear-gradient(90deg,#000000 0.0%,#070707 14.0%,#121212 34.0%,#191919 46.0%,#1e1e1e 54.0%,#333333 80.0%,#353535 81.8%,#373737 83.5%,#383838 84.5%,#3a3a3a 86.2%,#3d3d3d 88.8%,#525252 98.8%,#545454 99.0%,#585858 99.2%,#626262 99.5%,#8a8a8a 99.8%,#8a8a8a 100.0%)"></i>
<i style="background:linear-gradient(90deg,#000000 0.0%,#070707 14.0%,#121212 34.0%,#191919 46.0%,#222222 60.0%,#292929 68.0%,#313131 78.0%,#343434 80.8%,#363636 82.5%,#373737 83.5%,#393939 85.2%,#3b3b3b 87.0%,#3e3e3e 89.5%,#525252 98.8%,#545454 99.0%,#595959 99.2%,#656565 99.5%,#8f8f8f 99.8%,#8f8f8f 100.0%)"></i>
<i style="background:linear-gradient(90deg,#000000 0.0%,#070707 14.0%,#121212 34.0%,#191919 46.0%,#2f2f2f 76.0%,#343434 80.8%,#363636 82.5%,#373737 83.5%,#393939 85.2%,#3c3c3c 87.8%,#535353 98.8%,#555555 99.0%,#5a5a5a 99.2%,#686868 99.5%,#949494 99.8%,#949494 100.0%)"></i>
<i style="background:linear-gradient(90deg,#000000 0.0%,#060606 12.0%,#111111 32.0%,#181818 44.0%,#1d1d1d 52.0%,#343434 80.5%,#353535 81.5%,#363636 82.5%,#383838 84.2%,#3a3a3a 86.0%,#3d3d3d 88.5%,#535353 98.8%,#565656 99.0%,#5c5c5c 99.2%,#6b6b6b 99.5%,#999999 99.8%,#999999 100.0%)"></i>
<i style="background:linear-gradient(90deg,#000000 0.0%,#060606 12.0%,#111111 32.0%,#181818 44.0%,#1d1d1d 52.0%,#343434 80.5%,#353535 81.5%,#373737 83.2%,#393939 85.0%,#3b3b3b 86.8%,#3f3f3f 90.0%,#525252 98.5%,#575757 99.0%,#5e5e5e 99.2%,#6e6e6e 99.5%,#9d9d9d 99.8%,#9d9d9d 100.0%)"></i>
<i style="background:linear-gradient(90deg,#000000 0.0%,#060606 12.0%,#111111 32.0%,#181818 44.0%,#1d1d1d 52.0%,#343434 80.2%,#363636 82.2%,#383838 84.0%,#3a3a3a 85.8%,#3d3d3d 88.2%,#535353 98.5%,#585858 99.0%,#606060 99.2%,#727272 99.5%,#a2a2a2 99.8%,#a2a2a2 100.0%)"></i>
<i style="background:linear-gradient(90deg,#000000 0.0%,#060606 12.0%,#111111 32.0%,#181818 44.0%,#212121 58.0%,#343434 80.2%,#363636 82.0%,#373737 83.0%,#393939 84.8%,#3b3b3b 86.5%,#3e3e3e 89.0%,#535353 98.5%,#595959 99.0%,#626262 99.2%,#767676 99.5%,#a6a6a6 99.8%,#a6a6a6 100.0%)"></i>
<i style="background:linear-gradient(90deg,#000000 0.0%,#060606 12.0%,#101010 30.0%,#171717 42.0%,#1c1c1c 50.0%,#343434 80.2%,#363636 82.0%,#383838 83.8%,#3a3a3a 85.5%,#3c3c3c 87.2%,#404040 90.3%,#525252 98.2%,#565656 98.8%,#5b5b5b 99.0%,#646464 99.2%,#7a7a7a 99.5%,#ababab 99.8%,#ababab 100.0%)"></i>
<i style="background:linear-gradient(90deg,#000000 0.0%,#050505 10.0%,#101010 30.0%,#171717 42.0%,#1c1c1c 50.0%,#343434 80.0%,#353535 81.0%,#373737 82.8%,#393939 84.5%,#3b3b3b 86.2%,#3e3e3e 88.8%,#535353 98.2%,#575757 98.8%,#5d5d5d 99.0%,#676767 99.2%,#7e7e7e 99.5%,#afafaf 99.8%,#afafaf 100.0%)"></i>
<i style="background:linear-gradient(90deg,#000000 0.0%,#050505 10.0%,#101010 30.0%,#171717 42.0%,#1c1c1c 50.0%,#343434 80.0%,#363636 81.8%,#383838 83.5%,#393939 84.5%,#3c3c3c 87.0%,#3f3f3f 89.2%,#535353 98.2%,#555555 98.5%,#5e5e5e 99.0%,#6a6a6a 99.2%,#828282 99.5%,#b3b3b3 99.8%,#b3b3b3 100.0%)"></i>
<i style="background:linear-gradient(90deg,#000000 0.0%,#050505 10.0%,#101010 30.0%,#161616 40.0%,#202020 56.0%,#323232 78.0%,#353535 80.8%,#373737 82.5%,#383838 83.5%,#3a3a3a 85.2%,#3d3d3d 87.8%,#515151 97.8%,#565656 98.5%,#5a5a5a 98.8%,#606060 99.0%,#6d6d6d 99.2%,#878787 99.5%,#b7b7b7 99.8%,#b7b7b7 100.0%)"></i>
<i style="background:linear-gradient(90deg,#000000 0.0%,#050505 10.0%,#0f0f0f 28.0%,#161616 40.0%,#1f1f1f 54.0%,#303030 76.0%,#353535 80.8%,#373737 82.5%,#393939 84.2%,#3c3c3c 86.8%,#3f3f3f 89.2%,#535353 98.0%,#575757 98.5%,#5b5b5b 98.8%,#636363 99.0%,#707070 99.2%,#8b8b8b 99.5%,#bbbbbb 99.8%,#bbbbbb 100.0%)"></i>
<i style="background:linear-gradient(90deg,#000000 0.0%,#050505 10.0%,#0f0f0f 28.0%,#161616 40.0%,#1f1f1f 54.0%,#353535 80.5%,#363636 81.5%,#383838 83.2%,#3a3a3a 85.0%,#3d3d3d 87.5%,#404040 89.8%,#525252 97.8%,#565656 98.2%,#5d5d5d 98.8%,#656565 99.0%,#747474 99.2%,#909090 99.5%,#bfbfbf 99.8%,#bfbfbf 100.0%)"></i>
<i style="background:linear-gradient(90deg,#000000 0.0%,#050505 10.0%,#0f0f0f 28.0%,#151515 38.0%,#1b1b1b 48.0%,#353535 80.5%,#373737 82.2%,#393939 84.0%,#3b3b3b 85.8%,#3f3f3f 89.0%,#535353 97.8%,#575757 98.2%,#5a5a5a 98.5%,#5f5f5f 98.8%,#686868 99.0%,#787878 99.2%,#949494 99.5%,#c2c2c2 99.8%,#c2c2c2 100.0%)"></i>
<i style="background:linear-gradient(90deg,#000000 0.0%,#040404 8.0%,#0e0e0e 26.0%,#151515 38.0%,#1b1b1b 48.0%,#353535 80.2%,#373737 82.0%,#383838 83.0%,#3a3a3a 84.8%,#3d3d3d 87.2%,#414141 90.3%,#525252 97.5%,#555555 98.0%,#5b5b5b 98.5%,#616161 98.8%,#6b6b6b 99.0%,#7c7c7c 99.2%,#989898 99.5%,#c5c5c5 99.8%,#c5c5c5 100.0%)"></i>
<i style="background:linear-gradient(90deg,#000000 0.0%,#040404 8.0%,#0e0e0e 26.0%,#151515 38.0%,#1a1a1a 46.0%,#353535 80.2%,#373737 82.0%,#393939 83.8%,#3b3b3b 85.5%,#3e3e3e 87.8%,#3f3f3f 88.8%,#545454 97.8%,#595959 98.2%,#5d5d5d 98.5%,#636363 98.8%,#6e6e6e 99.0%,#808080 99.2%,#9d9d9d 99.5%,#c8c8c8 99.8%,#c8c8c8 100.0%)"></i>
<i style="background:linear-gradient(90deg,#000000 0.0%,#040404 8.0%,#0e0e0e 26.0%,#151515 38.0%,#1a1a1a 46.0%,#353535 80.0%,#363636 81.0%,#383838 82.8%,#3a3a3a 84.5%,#3d3d3d 87.0%,#404040 89.2%,#535353 97.5%,#575757 98.0%,#5a5a5a 98.2%,#5f5f5f 98.5%,#666666 98.8%,#717171 99.0%,#848484 99.2%,#a1a1a1 99.5%,#cbcbcb 99.8%,#cbcbcb 100.0%)"></i>
<i style="background:linear-gradient(90deg,#000000 0.0%,#040404 8.0%,#0d0d0d 24.0%,#141414 36.0%,#1a1a1a 46.0%,#353535 80.0%,#373737 81.8%,#393939 83.5%,#3b3b3b 85.2%,#3f3f3f 88.5%,#545454 97.5%,#585858 98.0%,#616161 98.5%,#696969 98.8%,#757575 99.0%,#888888 99.2%,#a5a5a5 99.5%,#cecece 99.8%,#cecece 100.0%)"></i>
<i style="background:linear-gradient(90deg,#000000 0.0%,#040404 8.0%,#0d0d0d 24.0%,#141414 36.0%,#1a1a1a 46.0%,#333333 78.0%,#363636 80.8%,#383838 82.5%,#3a3a3a 84.2%,#3d3d3d 86.8%,#414141 89.8%,#535353 97.2%,#575757 97.8%,#5d5d5d 98.2%,#636363 98.5%,#6b6b6b 98.8%,#787878 99.0%,#8c8c8c 99.2%,#aaaaaa 99.5%,#d1d1d1 99.8%,#d1d1d1 100.0%)"></i>
<i style="background:linear-gradient(90deg,#000000 0.0%,#040404 8.0%,#0d0d0d 24.0%,#141414 36.0%,#191919 44.0%,#1e1e1e 52.0%,#313131 76.0%,#363636 80.5%,#373737 81.5%,#393939 83.2%,#3b3b3b 85.0%,#3e3e3e 87.2%,#3f3f3f 88.2%,#545454 97.2%,#585858 97.8%,#5f5f5f 98.2%,#656565 98.5%,#6e6e6e 98.8%,#7c7c7c 99.0%,#909090 99.2%,#aeaeae 99.5%,#d3d3d3 99.8%,#d3d3d3 100.0%)"></i>
<i style="background:linear-gradient(90deg,#000000 0.0%,#040404 8.0%,#0c0c0c 22.0%,#131313 34.0%,#191919 44.0%,#363636 80.5%,#383838 82.2%,#3a3a3a 84.0%,#3d3d3d 86.5%,#404040 88.8%,#525252 96.8%,#595959 97.8%,#616161 98.2%,#686868 98.5%,#727272 98.8%,#808080 99.0%,#959595 99.2%,#b1b1b1 99.5%,#d6d6d6 99.8%,#d6d6d6 100.0%)"></i>
<i style="background:linear-gradient(90deg,#000000 0.0%,#040404 8.0%,#0c0c0c 22.0%,#131313 34.0%,#191919 44.0%,#363636 80.2%,#383838 82.0%,#393939 83.0%,#3b3b3b 84.8%,#3f3f3f 88.0%,#545454 97.0%,#585858 97.5%,#5e5e5e 98.0%,#6b6b6b 98.5%,#757575 98.8%,#848484 99.0%,#999999 99.2%,#b5b5b5 99.5%,#d8d8d8 99.8%,#d8d8d8 100.0%)"></i>
<i style="background:linear-gradient(90deg,#000000 0.0%,#040404 8.0%,#0c0c0c 22.0%,#131313 34.0%,#191919 44.0%,#363636 80.2%,#383838 82.0%,#3a3a3a 83.8%,#3d3d3d 86.2%,#414141 89.2%,#525252 96.5%,#595959 97.5%,#606060 98.0%,#666666 98.2%,#6e6e6e 98.5%,#797979 98.8%,#888888 99.0%,#9d9d9d 99.2%,#b9b9b9 99.5%,#dadada 99.8%,#dadada 100.0%)"></i>
<i style="background:linear-gradient(90deg,#000000 0.0%,#030303 6.0%,#0c0c0c 22.0%,#131313 34.0%,#1d1d1d 50.0%,#363636 80.0%,#373737 81.0%,#393939 82.8%,#3b3b3b 84.5%,#3e3e3e 86.8%,#404040 88.5%,#545454 96.8%,#585858 97.2%,#5e5e5e 97.8%,#626262 98.0%,#686868 98.2%,#717171 98.5%,#7c7c7c 98.8%,#8c8c8c 99.0%,#a1a1a1 99.2%,#bcbcbc 99.5%,#dcdcdc 99.8%,#dcdcdc 100.0%)"></i>
<i style="background:linear-gradient(90deg,#000000 0.0%,#030303 6.0%,#0b0b0b 20.0%,#121212 32.0%,#181818 42.0%,#363636 80.0%,#383838 81.8%,#3a3a3a 83.5%,#3d3d3d 86.0%,#404040 88.2%,#515151 96.0%,#595959 97.2%,#606060 97.8%,#6b6b6b 98.2%,#747474 98.5%,#808080 98.8%,#909090 99.0%,#a5a5a5 99.2%,#bfbfbf 99.5%,#dedede 99.8%,#dedede 100.0%)"></i>
<i style="background:linear-gradient(90deg,#000000 0.0%,#030303 6.0%,#0b0b0b 20.0%,#121212 32.0%,#181818 42.0%,#343434 78.0%,#373737 80.8%,#393939 82.5%,#3c3c3c 85.0%,#3f3f3f 87.2%,#414141 89.0%,#535353 96.2%,#585858 97.0%,#5e5e5e 97.5%,#676767 98.0%,#6e6e6e 98.2%,#777777 98.5%,#848484 98.8%,#949494 99.0%,#a9a9a9 99.2%,#c2c2c2 99.5%,#e0e0e0 99.8%,#e0e0e0 100.0%)"></i>
<i style="background:linear-gradient(90deg,#000000 0.0%,#030303 6.0%,#0b0b0b 20.0%,#121212 32.0%,#171717 40.0%,#202020 54.0%,#2f2f2f 72.0%,#343434 78.0%,#373737 80.5%,#383838 81.5%,#3a3a3a 83.2%,#3e3e3e 86.5%,#414141 88.8%,#545454 96.2%,#575757 96.8%,#5c5c5c 97.2%,#646464 97.8%,#717171 98.2%,#7b7b7b 98.5%,#878787 98.8%,#989898 99.0%,#acacac 99.2%,#c5c5c5 99.5%,#e1e1e1 99.8%,#e1e1e1 100.0%)"></i>
<i style="background:linear-gradient(90deg,#000000 0.0%,#030303 6.0%,#0b0b0b 20.0%,#121212 32.0%,#171717 40.0%,#323232 76.0%,#373737 80.5%,#393939 82.2%,#3c3c3c 84.8%,#404040 87.8%,#525252 95.8%,#5b5b5b 97.0%,#666666 97.8%,#6c6c6c 98.0%,#747474 98.2%,#7e7e7e 98.5%,#8b8b8b 98.8%,#9c9c9c 99.0%,#b0b0b0 99.2%,#c8c8c8 99.5%,#e3e3e3 99.8%,#e3e3e3 100.0%)"></i>
<i style="background:linear-gradient(90deg,#000000 0.0%,#030303 6.0%,#0a0a0a 18.0%,#111111 30.0%,#171717 40.0%,#373737 80.2%,#393939 82.0%,#3c3c3c 84.5%,#3f3f3f 86.8%,#434343 89.8%,#535353 95.8%,#5a5a5a 96.8%,#606060 97.2%,#696969 97.8%,#6f6f6f 98.0%,#777777 98.2%,#828282 98.5%,#8f8f8f 98.8%,#a0a0a0 99.0%,#b4b4b4 99.2%,#cbcbcb 99.5%,#e4e4e4 99.8%,#e4e4e4 100.0%)"></i>
<i style="background:linear-gradient(90deg,#000000 0.0%,#030303 6.0%,#0a0a0a 18.0%,#111111 30.0%,#161616 38.0%,#1b1b1b 46.0%,#353535 78.0%,#383838 80.8%,#3b3b3b 83.2%,#3f3f3f 86.5%,#424242 88.8%,#535353 95.5%,#5c5c5c 96.8%,#626262 97.2%,#666666 97.5%,#737373 98.0%,#7b7b7b 98.2%,#868686 98.5%,#939393 98.8%,#a4a4a4 99.0%,#b7b7b7 99.2%,#e6e6e6 99.8%,#e6e6e6 100.0%)"></i>
<i style="background:linear-gradient(90deg,#000000 0.0%,#030303 6.0%,#090909 16.0%,#101010 28.0%,#1a1a1a 44.0%,#383838 80.2%,#3a3a3a 82.0%,#3d3d3d 84.5%,#404040 86.8%,#444444 89.8%,#474747 90.8%,#505050 94.2%,#535353 95.2%,#5b5b5b 96.5%,#616161 97.0%,#696969 97.5%,#767676 98.0%,#7f7f7f 98.2%,#8a8a8a 98.5%,#989898 98.8%,#a8a8a8 99.0%,#bbbbbb 99.2%,#d0d0d0 99.5%,#e7e7e7 99.8%,#e7e7e7 100.0%)"></i>
<i style="background:linear-gradient(90deg,#000000 0.0%,#020202 4.0%,#090909 16.0%,#0f0f0f 26.0%,#141414 34.0%,#1d1d1d 48.0%,#363636 78.0%,#393939 80.8%,#3c3c3c 83.2%,#404040 86.2%,#444444 89.2%,#515151 94.2%,#535353 95.0%,#5d5d5d 96.5%,#636363 97.0%,#6c6c6c 97.5%,#727272 97.8%,#838383 98.2%,#8e8e8e 98.5%,#9c9c9c 98.8%,#acacac 99.0%,#bebebe 99.2%,#e9e9e9 99.8%,#e9e9e9 100.0%)"></i>
<i style="background:linear-gradient(90deg,#000000 0.0%,#020202 4.0%,#090909 16.0%,#141414 34.0%,#343434 76.0%,#393939 80.2%,#3b3b3b 82.0%,#3f3f3f 85.0%,#424242 87.2%,#575757 95.5%,#5f5f5f 96.5%,#6a6a6a 97.2%,#6f6f6f 97.5%,#7d7d7d 98.0%,#929292 98.5%,#afafaf 99.0%,#c1c1c1 99.2%,#eaeaea 99.8%,#eaeaea 100.0%)"></i>
<i style="background:linear-gradient(90deg,#000000 0.0%,#020202 4.0%,#080808 14.0%,#0e0e0e 24.0%,#131313 32.0%,#181818 40.0%,#373737 78.0%,#3a3a3a 80.8%,#3d3d3d 83.0%,#404040 85.2%,#444444 88.2%,#575757 95.2%,#5f5f5f 96.2%,#656565 96.8%,#6d6d6d 97.2%,#797979 97.8%,#818181 98.0%,#969696 98.5%,#b3b3b3 99.0%,#c4c4c4 99.2%,#ebebeb 99.8%,#ebebeb 100.0%)"></i>
<i style="background:linear-gradient(90deg,#000000 0.0%,#020202 4.0%,#080808 14.0%,#0d0d0d 22.0%,#171717 38.0%,#353535 76.0%,#3a3a3a 80.2%,#3d3d3d 82.5%,#3f3f3f 84.2%,#444444 87.8%,#565656 94.8%,#5c5c5c 95.8%,#676767 96.8%,#707070 97.2%,#7d7d7d 97.8%,#858585 98.0%,#9a9a9a 98.5%,#a7a7a7 98.8%,#c7c7c7 99.2%,#ececec 99.8%,#ececec 100.0%)"></i>
<i style="background:linear-gradient(90deg,#000000 0.0%,#020202 4.0%,#0d0d0d 22.0%,#161616 36.0%,#383838 78.0%,#3b3b3b 80.5%,#3e3e3e 83.0%,#414141 85.2%,#464646 88.8%,#515151 93.0%,#565656 94.5%,#5e5e5e 95.8%,#666666 96.5%,#6e6e6e 97.0%,#797979 97.5%,#808080 97.8%,#939393 98.2%,#9e9e9e 98.5%,#ababab 98.8%,#cacaca 99.2%,#ededed 99.8%,#ededed 100.0%)"></i>
<i style="background:linear-gradient(90deg,#000000 0.0%,#020202 4.0%,#0c0c0c 20.0%,#111111 28.0%,#1a1a1a 42.0%,#343434 74.0%,#3b3b3b 80.0%,#3e3e3e 82.5%,#444444 86.8%,#595959 94.8%,#606060 95.8%,#696969 96.5%,#717171 97.0%,#7d7d7d 97.5%,#848484 97.8%,#979797 98.2%,#a2a2a2 98.5%,#bdbdbd 99.0%,#dddddd 99.5%,#eeeeee 99.8%,#eeeeee 100.0%)"></i>
<i style="background:linear-gradient(90deg,#000000 0.0%,#020202 4.0%,#0c0c0c 20.0%,#111111 28.0%,#393939 78.0%,#3d3d3d 81.0%,#3e3e3e 82.0%,#444444 86.2%,#595959 94.5%,#5d5d5d 95.0%,#606060 95.5%,#686868 96.2%,#747474 97.0%,#808080 97.5%,#9a9a9a 98.2%,#b2b2b2 98.8%,#cfcfcf 99.2%,#efefef 99.8%,#efefef 100.0%)"></i>
<i style="background:linear-gradient(90deg,#000000 0.0%,#020202 4.0%,#0b0b0b 18.0%,#101010 26.0%,#353535 74.0%,#3d3d3d 80.5%,#3f3f3f 82.2%,#444444 85.8%,#585858 94.0%,#626262 95.5%,#6e6e6e 96.5%,#7d7d7d 97.2%,#949494 98.0%,#a9a9a9 98.5%,#c3c3c3 99.0%,#e0e0e0 99.5%,#f0f0f0 99.8%,#f0f0f0 100.0%)"></i>
<i style="background:linear-gradient(90deg,#000000 0.0%,#060606 10.0%,#0f0f0f 24.0%,#141414 32.0%,#383838 76.0%,#3d3d3d 80.0%,#414141 83.0%,#444444 85.2%,#5b5b5b 94.2%,#626262 95.2%,#6a6a6a 96.0%,#717171 96.5%,#7b7b7b 97.0%,#8f8f8f 97.8%,#a2a2a2 98.2%,#b9b9b9 98.8%,#f0f0f0 99.8%,#f0f0f0 100.0%)"></i>
<i style="background:linear-gradient(90deg,#000000 0.0%,#060606 10.0%,#0f0f0f 24.0%,#3b3b3b 78.0%,#3f3f3f 81.0%,#434343 84.0%,#5a5a5a 93.8%,#626262 95.0%,#707070 96.2%,#7e7e7e 97.0%,#8b8b8b 97.5%,#a5a5a5 98.2%,#c8c8c8 99.0%,#f1f1f1 99.8%,#f1f1f1 100.0%)"></i>
<i style="background:linear-gradient(90deg,#000000 0.0%,#060606 10.0%,#131313 30.0%,#373737 74.0%,#3f3f3f 80.5%,#434343 83.5%,#595959 93.2%,#646464 95.0%,#6f6f6f 96.0%,#777777 96.5%,#888888 97.2%,#969696 97.8%,#b3b3b3 98.5%,#cbcbcb 99.0%,#f2f2f2 99.8%,#f2f2f2 100.0%)"></i>
<i style="background:linear-gradient(90deg,#000000 0.0%,#060606 10.0%,#121212 28.0%,#3a3a3a 76.0%,#3f3f3f 80.0%,#444444 83.5%,#5c5c5c 93.5%,#696969 95.2%,#727272 96.0%,#7a7a7a 96.5%,#8b8b8b 97.2%,#9a9a9a 97.8%,#acacac 98.2%,#b6b6b6 98.5%,#d9d9d9 99.2%,#f2f2f2 99.8%,#f2f2f2 100.0%)"></i>
<i style="background:linear-gradient(90deg,#000000 0.0%,#0a0a0a 16.0%,#363636 72.0%,#404040 80.2%,#474747 85.0%,#5b5b5b 93.0%,#6b6b6b 95.2%,#717171 95.8%,#797979 96.2%,#888888 97.0%,#9d9d9d 97.8%,#afafaf 98.2%,#cfcfcf 99.0%,#f3f3f3 99.8%,#f3f3f3 100.0%)"></i>
<i style="background:linear-gradient(90deg,#000000 0.0%,#090909 14.0%,#393939 74.0%,#414141 80.2%,#444444 82.5%,#5e5e5e 93.2%,#6b6b6b 95.0%,#747474 95.8%,#7c7c7c 96.2%,#868686 96.8%,#929292 97.2%,#a9a9a9 98.0%,#bcbcbc 98.5%,#d1d1d1 99.0%,#f4f4f4 99.8%,#f4f4f4 100.0%)"></i>
<i style="background:linear-gradient(90deg,#000000 0.0%,#090909 14.0%,#333333 68.0%,#424242 80.5%,#5c5c5c 92.5%,#6b6b6b 94.8%,#707070 95.2%,#7f7f7f 96.2%,#898989 96.8%,#959595 97.2%,#acacac 98.0%,#d3d3d3 99.0%,#f4f4f4 99.8%,#f4f4f4 100.0%)"></i>
<i style="background:linear-gradient(90deg,#000000 0.0%,#090909 14.0%,#383838 72.0%,#424242 80.0%,#5f5f5f 92.8%,#6b6b6b 94.5%,#767676 95.5%,#828282 96.2%,#8c8c8c 96.8%,#a7a7a7 97.8%,#b8b8b8 98.2%,#d5d5d5 99.0%,#f5f5f5 99.8%,#f5f5f5 100.0%)"></i>
<i style="background:linear-gradient(90deg,#000000 0.0%,#101010 24.0%,#303030 64.0%,#3b3b3b 74.0%,#434343 80.0%,#5e5e5e 92.2%,#6b6b6b 94.2%,#797979 95.5%,#858585 96.2%,#8f8f8f 96.8%,#aaaaaa 97.8%,#cdcdcd 98.8%,#f5f5f5 99.8%,#f5f5f5 100.0%)"></i>
<i style="background:linear-gradient(90deg,#000000 0.0%,#131313 28.0%,#373737 70.0%,#444444 80.0%,#5a5a5a 91.0%,#616161 92.5%,#6d6d6d 94.2%,#787878 95.2%,#7f7f7f 95.8%,#929292 96.8%,#adadad 97.8%,#bdbdbd 98.2%,#cfcfcf 98.8%,#f5f5f5 99.8%,#f5f5f5 100.0%)"></i>
<i style="background:linear-gradient(90deg,#000000 0.0%,#2d2d2d 60.0%,#3a3a3a 72.0%,#454545 80.2%,#5f5f5f 91.8%,#6b6b6b 93.8%,#7e7e7e 95.5%,#868686 96.0%,#909090 96.5%,#9b9b9b 97.0%,#b0b0b0 97.8%,#c8c8c8 98.5%,#e3e3e3 99.2%,#f6f6f6 99.8%,#f6f6f6 100.0%)"></i>
<i style="background:linear-gradient(90deg,#000000 0.0%,#343434 66.0%,#464646 80.2%,#5c5c5c 90.8%,#626262 92.0%,#727272 94.2%,#7a7a7a 95.0%,#898989 96.0%,#939393 96.5%,#9e9e9e 97.0%,#bababa 98.0%,#f6f6f6 99.8%,#f6f6f6 100.0%)"></i>
<i style="background:linear-gradient(90deg,#000000 0.0%,#393939 70.0%,#474747 80.2%,#616161 91.5%,#747474 94.2%,#808080 95.2%,#8c8c8c 96.0%,#9b9b9b 96.8%,#b5b5b5 97.8%,#c4c4c4 98.2%,#f7f7f7 99.8%,#f7f7f7 100.0%)"></i>
<i style="background:linear-gradient(90deg,#000000 0.0%,#333333 64.0%,#484848 80.2%,#5e5e5e 90.5%,#646464 91.8%,#747474 94.0%,#7c7c7c 94.8%,#8f8f8f 96.0%,#9e9e9e 96.8%,#aaaaaa 97.2%,#bfbfbf 98.0%,#dedede 99.0%,#f7f7f7 99.8%,#f7f7f7 100.0%)"></i>
<i style="background:linear-gradient(90deg,#000000 0.0%,#383838 68.0%,#454545 78.0%,#626262 91.0%,#747474 93.8%,#828282 95.0%,#8d8d8d 95.8%,#969696 96.2%,#b3b3b3 97.5%,#c1c1c1 98.0%,#e8e8e8 99.2%,#f7f7f7 99.8%,#f7f7f7 100.0%)"></i>
<i style="background:linear-gradient(90deg,#000000 0.0%,#343434 64.0%,#464646 78.0%,#606060 90.3%,#656565 91.3%,#767676 93.8%,#818181 94.8%,#949494 96.0%,#9e9e9e 96.5%,#afafaf 97.2%,#cacaca 98.2%,#f8f8f8 99.8%,#f8f8f8 100.0%)"></i>
<i style="background:linear-gradient(90deg,#000000 0.0%,#373737 66.0%,#474747 78.0%,#646464 90.8%,#767676 93.5%,#878787 95.0%,#979797 96.0%,#a6a6a6 96.8%,#b8b8b8 97.5%,#d3d3d3 98.5%,#f8f8f8 99.8%,#f8f8f8 100.0%)"></i>
<i style="background:linear-gradient(90deg,#000000 0.0%,#333333 62.0%,#4b4b4b 80.0%,#626262 90.0%,#767676 93.2%,#868686 94.8%,#959595 95.8%,#a3a3a3 96.5%,#bababa 97.5%,#f8f8f8 99.8%,#f8f8f8 100.0%)"></i>
<i style="background:linear-gradient(90deg,#000000 0.0%,#363636 64.0%,#4c4c4c 80.0%,#666666 90.5%,#787878 93.2%,#858585 94.5%,#939393 95.5%,#ababab 96.8%,#bcbcbc 97.5%,#f2f2f2 99.5%,#f8f8f8 99.8%,#f8f8f8 100.0%)"></i>
<i style="background:linear-gradient(90deg,#000000 0.0%,#343434 62.0%,#4d4d4d 80.0%,#696969 90.8%,#7a7a7a 93.2%,#8e8e8e 95.0%,#9e9e9e 96.0%,#adadad 96.8%,#c4c4c4 97.8%,#f9f9f9 99.8%,#f9f9f9 100.0%)"></i>
<i style="background:linear-gradient(90deg,#000000 0.0%,#292929 50.0%,#2e2e2e 56.0%,#474747 76.0%,#686868 90.3%,#7a7a7a 93.0%,#8d8d8d 94.8%,#9c9c9c 95.8%,#aaaaaa 96.5%,#cccccc 98.0%,#f9f9f9 99.8%,#f9f9f9 100.0%)"></i>
<i style="background:linear-gradient(90deg,#000000 0.0%,#353535 62.0%,#484848 76.0%,#6b6b6b 90.5%,#7c7c7c 93.0%,#8c8c8c 94.5%,#a3a3a3 96.0%,#bcbcbc 97.2%,#e6e6e6 99.0%,#f9f9f9 99.8%,#f9f9f9 100.0%)"></i>
<i style="background:linear-gradient(90deg,#000000 0.0%,#242424 44.0%,#313131 58.0%,#494949 76.0%,#6a6a6a 90.0%,#7e7e7e 93.0%,#8e8e8e 94.5%,#a5a5a5 96.0%,#bebebe 97.2%,#f9f9f9 99.8%,#f9f9f9 100.0%)"></i>
<i style="background:linear-gradient(90deg,#000000 0.0%,#343434 60.0%,#4a4a4a 76.0%,#6d6d6d 90.3%,#808080 93.0%,#979797 95.0%,#a7a7a7 96.0%,#c5c5c5 97.5%,#d1d1d1 98.0%,#f4f4f4 99.5%,#f9f9f9 99.8%,#f9f9f9 100.0%)"></i>
<i style="background:linear-gradient(90deg,#000000 0.0%,#1f1f1f 38.0%,#323232 58.0%,#4e4e4e 78.0%,#6a6a6a 89.0%,#6b6b6b 89.5%,#707070 90.5%,#828282 93.0%,#969696 94.8%,#a5a5a5 95.8%,#cccccc 97.8%,#d8d8d8 98.2%,#f9f9f9 99.8%,#f9f9f9 100.0%)"></i>
<i style="background:linear-gradient(90deg,#000000 0.0%,#232323 42.0%,#2c2c2c 52.0%,#484848 74.0%,#6f6f6f 90.0%,#848484 93.0%,#989898 94.8%,#a7a7a7 95.8%,#c3c3c3 97.2%,#fafafa 99.8%,#fafafa 100.0%)"></i>
<i style="background:linear-gradient(90deg,#000000 0.0%,#1c1c1c 34.0%,#333333 58.0%,#494949 74.0%,#727272 90.3%,#868686 93.0%,#9a9a9a 94.8%,#adadad 96.0%,#d4d4d4 98.0%,#fafafa 99.8%,#fafafa 100.0%)"></i>
<i style="background:linear-gradient(90deg,#000000 0.0%,#1c1c1c 34.0%,#313131 56.0%,#4d4d4d 76.0%,#727272 90.0%,#888888 93.0%,#9c9c9c 94.8%,#afafaf 96.0%,#d0d0d0 97.8%,#eaeaea 99.0%,#fafafa 99.8%,#fafafa 100.0%)"></i>
<i style="background:linear-gradient(90deg,#000000 0.0%,#1e1e1e 36.0%,#2d2d2d 52.0%,#474747 72.0%,#6f6f6f 89.0%,#757575 90.3%,#7e7e7e 91.5%,#858585 92.5%,#a1a1a1 95.0%,#b5b5b5 96.2%,#fafafa 99.8%,#fafafa 100.0%)"></i>
<i style="background:linear-gradient(90deg,#000000 0.0%,#222222 40.0%,#292929 48.0%,#323232 56.0%,#4b4b4b 74.0%,#757575 90.0%,#7c7c7c 91.0%,#898989 92.8%,#949494 93.8%,#999999 94.2%,#bbbbbb 96.5%,#ececec 99.0%,#fafafa 99.8%,#fafafa 100.0%)"></i>
<i style="background:linear-gradient(90deg,#000000 0.0%,#191919 30.0%,#303030 54.0%,#4c4c4c 74.0%,#737373 89.2%,#787878 90.3%,#7c7c7c 90.8%,#8b8b8b 92.8%,#9e9e9e 94.5%,#b8b8b8 96.2%,#d9d9d9 98.0%,#f6f6f6 99.5%,#fafafa 99.8%,#fafafa 100.0%)"></i>
<i style="background:linear-gradient(90deg,#000000 0.0%,#0f0f0f 18.0%,#2e2e2e 52.0%,#494949 72.0%,#505050 76.0%,#696969 86.0%,#787878 90.0%,#7c7c7c 90.5%,#888888 92.2%,#a3a3a3 94.8%,#bebebe 96.5%,#f6f6f6 99.5%,#fafafa 99.8%,#fafafa 100.0%)"></i>
<i style="background:linear-gradient(90deg,#000000 0.0%,#0f0f0f 18.0%,#1b1b1b 32.0%,#2c2c2c 50.0%,#4d4d4d 74.0%,#555555 78.0%,#656565 84.2%,#6b6b6b 86.2%,#777777 89.5%,#8e8e8e 92.8%,#a8a8a8 95.0%,#b0b0b0 95.5%,#bbbbbb 96.2%,#fbfbfb 99.8%,#fbfbfb 100.0%)"></i>
<i style="background:linear-gradient(90deg,#000000 0.0%,#0f0f0f 18.0%,#1b1b1b 32.0%,#2a2a2a 48.0%,#333333 56.0%,#474747 70.0%,#565656 78.0%,#666666 84.2%,#6d6d6d 86.5%,#767676 89.0%,#878787 91.8%,#929292 93.0%,#989898 93.5%,#a6a6a6 94.8%,#c9c9c9 97.0%,#fbfbfb 99.8%,#fbfbfb 100.0%)"></i>
<i style="background:linear-gradient(90deg,#000000 0.0%,#0f0f0f 18.0%,#1d1d1d 34.0%,#282828 46.0%,#313131 54.0%,#3c3c3c 62.0%,#414141 66.0%,#757575 88.5%,#7b7b7b 89.8%,#8f8f8f 92.5%,#ababab 95.0%,#cacaca 97.0%,#fbfbfb 99.8%,#fbfbfb 100.0%)"></i>
<i style="background:linear-gradient(90deg,#000000 0.0%,#0f0f0f 18.0%,#1f1f1f 36.0%,#262626 44.0%,#2f2f2f 52.0%,#484848 70.0%,#535353 76.0%,#656565 83.2%,#686868 84.2%,#737373 87.5%,#737373 87.8%,#7b7b7b 89.5%,#8c8c8c 92.0%,#959595 93.0%,#9b9b9b 93.5%,#a9a9a9 94.8%,#cbcbcb 97.0%,#f2f2f2 99.2%,#fbfbfb 99.8%,#fbfbfb 100.0%)"></i>
<i style="background:linear-gradient(90deg,#000000 0.0%,#0f0f0f 18.0%,#161616 26.0%,#2f2f2f 52.0%,#454545 68.0%,#585858 78.0%,#5e5e5e 80.2%,#666666 83.2%,#6c6c6c 85.2%,#7b7b7b 89.2%,#949494 92.8%,#9f9f9f 93.8%,#a4a4a4 94.2%,#cccccc 97.0%,#eeeeee 99.0%,#fbfbfb 99.8%,#fbfbfb 100.0%)"></i>
<i style="background:linear-gradient(90deg,#000000 0.0%,#0f0f0f 18.0%,#161616 26.0%,#2d2d2d 50.0%,#494949 70.0%,#595959 78.0%,#646464 82.2%,#696969 84.0%,#6d6d6d 85.2%,#7b7b7b 89.0%,#939393 92.5%,#afafaf 95.0%,#bebebe 96.0%,#d1d1d1 97.2%,#eaeaea 98.8%,#fbfbfb 99.8%,#fbfbfb 100.0%)"></i>
<i style="background:linear-gradient(90deg,#000000 0.0%,#0f0f0f 18.0%,#161616 26.0%,#2d2d2d 50.0%,#464646 68.0%,#555555 76.0%,#676767 83.0%,#6e6e6e 85.2%,#7c7c7c 89.0%,#909090 92.0%,#adadad 94.8%,#dedede 98.0%,#fbfbfb 99.8%,#fbfbfb 100.0%)"></i>
<i style="background:linear-gradient(90deg,#000000 0.0%,#0f0f0f 18.0%,#161616 26.0%,#2b2b2b 48.0%,#434343 66.0%,#5a5a5a 78.0%,#616161 80.5%,#676767 82.8%,#6a6a6a 83.8%,#6f6f6f 85.2%,#7c7c7c 88.8%,#818181 89.8%,#858585 90.3%,#989898 92.8%,#a3a3a3 93.8%,#ababab 94.5%,#fbfbfb 99.8%,#fbfbfb 100.0%)"></i>
<i style="background:linear-gradient(90deg,#000000 0.0%,#0f0f0f 18.0%,#161616 26.0%,#2b2b2b 48.0%,#3d3d3d 62.0%,#565656 76.0%,#616161 80.2%,#686868 82.8%,#6b6b6b 83.8%,#6f6f6f 85.0%,#7c7c7c 88.5%,#979797 92.5%,#b6b6b6 95.2%,#f0f0f0 99.0%,#fbfbfb 99.8%,#fbfbfb 100.0%)"></i>
<i style="background:linear-gradient(90deg,#000000 0.0%,#0f0f0f 18.0%,#161616 26.0%,#292929 46.0%,#474747 68.0%,#575757 76.0%,#636363 80.8%,#686868 82.5%,#707070 85.0%,#7d7d7d 88.5%,#969696 92.2%,#b7b7b7 95.2%,#d1d1d1 97.0%,#f4f4f4 99.2%,#fbfbfb 99.8%,#fbfbfb 100.0%)"></i>
<i style="background:linear-gradient(90deg,#000000 0.0%,#0f0f0f 18.0%,#161616 26.0%,#292929 46.0%,#444444 66.0%,#575757 76.0%,#636363 80.5%,#686868 82.2%,#6b6b6b 83.2%,#707070 84.8%,#7e7e7e 88.5%,#959595 92.0%,#9e9e9e 93.0%,#a4a4a4 93.5%,#b8b8b8 95.2%,#e5e5e5 98.2%,#f8f8f8 99.5%,#fbfbfb 99.8%,#fbfbfb 100.0%)"></i>
<i style="background:linear-gradient(90deg,#000000 0.0%,#0f0f0f 18.0%,#181818 28.0%,#292929 46.0%,#414141 64.0%,#585858 76.0%,#636363 80.2%,#666666 81.2%,#6b6b6b 83.0%,#707070 84.5%,#7e7e7e 88.2%,#838383 89.2%,#949494 91.8%,#b9b9b9 95.2%,#dadada 97.5%,#ededed 98.8%,#fbfbfb 99.8%,#fbfbfb 100.0%)"></i>
<i style="background:linear-gradient(90deg,#000000 0.0%,#0f0f0f 18.0%,#181818 28.0%,#272727 44.0%,#3b3b3b 60.0%,#545454 74.0%,#5d5d5d 78.0%,#636363 80.0%,#686868 81.8%,#6b6b6b 82.8%,#707070 84.2%,#7f7f7f 88.2%,#848484 89.2%,#9e9e9e 92.8%,#bababa 95.2%,#f1f1f1 99.0%,#fbfbfb 99.8%,#fbfbfb 100.0%)"></i>
<i style="background:linear-gradient(90deg,#000000 0.0%,#111111 20.0%,#272727 44.0%,#454545 66.0%,#595959 76.0%,#666666 80.8%,#6b6b6b 82.5%,#707070 84.0%,#808080 88.2%,#858585 89.2%,#9d9d9d 92.5%,#bbbbbb 95.2%,#fbfbfb 99.8%,#fbfbfb 100.0%)"></i>
<i style="background:linear-gradient(90deg,#000000 0.0%,#111111 20.0%,#272727 44.0%,#424242 64.0%,#555555 74.0%,#666666 80.5%,#6b6b6b 82.2%,#707070 83.8%,#818181 88.2%,#9e9e9e 92.5%,#bcbcbc 95.2%,#fcfcfc 99.8%,#fcfcfc 100.0%)"></i>
<i style="background:linear-gradient(90deg,#000000 0.0%,#070707 8.0%,#181818 28.0%,#252525 42.0%,#3f3f3f 62.0%,#515151 72.0%,#5f5f5f 78.0%,#656565 80.0%,#6b6b6b 82.0%,#707070 83.5%,#828282 88.2%,#9f9f9f 92.5%,#c0c0c0 95.5%,#fcfcfc 99.8%,#fcfcfc 100.0%)"></i>
<i style="background:linear-gradient(90deg,#000000 0.0%,#070707 8.0%,#181818 28.0%,#252525 42.0%,#3f3f3f 62.0%,#565656 74.0%,#686868 80.8%,#6b6b6b 81.8%,#6f6f6f 83.0%,#797979 85.8%,#797979 86.0%,#838383 88.2%,#9e9e9e 92.2%,#c1c1c1 95.5%,#cecece 96.5%,#fcfcfc 99.8%,#fcfcfc 100.0%)"></i>
<i style="background:linear-gradient(90deg,#000000 0.0%,#070707 8.0%,#181818 28.0%,#232323 40.0%,#434343 64.0%,#525252 72.0%,#5b5b5b 76.0%,#686868 80.5%,#6f6f6f 82.8%,#777777 85.0%,#7c7c7c 86.5%,#848484 88.2%,#9f9f9f 92.2%,#c5c5c5 95.8%,#fcfcfc 99.8%,#fcfcfc 100.0%)"></i>
<i style="background:linear-gradient(90deg,#000000 0.0%,#070707 8.0%,#181818 28.0%,#232323 40.0%,#434343 64.0%,#575757 74.0%,#616161 78.0%,#686868 80.2%,#6b6b6b 81.2%,#6f6f6f 82.5%,#767676 84.5%,#7e7e7e 86.8%,#858585 88.2%,#a0a0a0 92.2%,#c9c9c9 96.0%,#fcfcfc 99.8%,#fcfcfc 100.0%)"></i>
<i style="background:linear-gradient(90deg,#000000 0.0%,#070707 8.0%,#1a1a1a 30.0%,#212121 38.0%,#2a2a2a 46.0%,#404040 62.0%,#535353 72.0%,#5c5c5c 76.0%,#6b6b6b 81.0%,#757575 84.0%,#808080 87.0%,#868686 88.2%,#a1a1a1 92.2%,#cdcdcd 96.2%,#f5f5f5 99.2%,#fcfcfc 99.8%,#fcfcfc 100.0%)"></i>
<i style="background:linear-gradient(90deg,#000000 0.0%,#070707 8.0%,#1a1a1a 30.0%,#212121 38.0%,#2a2a2a 46.0%,#3d3d3d 60.0%,#4f4f4f 70.0%,#626262 78.0%,#6a6a6a 80.5%,#6e6e6e 81.8%,#747474 83.5%,#818181 87.0%,#878787 88.2%,#a0a0a0 92.0%,#a9a9a9 93.0%,#d4d4d4 96.8%,#f5f5f5 99.2%,#fcfcfc 99.8%,#fcfcfc 100.0%)"></i>
<i style="background:linear-gradient(90deg,#000000 0.0%,#070707 8.0%,#1c1c1c 32.0%,#1f1f1f 36.0%,#2a2a2a 46.0%,#353535 54.0%,#3d3d3d 60.0%,#545454 72.0%,#636363 78.0%,#6a6a6a 80.2%,#6e6e6e 81.5%,#737373 83.0%,#828282 87.0%,#888888 88.2%,#a1a1a1 92.0%,#aaaaaa 93.0%,#bdbdbd 94.8%,#c8c8c8 95.8%,#d8d8d8 97.0%,#f2f2f2 99.0%,#fcfcfc 99.8%,#fcfcfc 100.0%)"></i>
<i style="background:linear-gradient(90deg,#000000 0.0%,#070707 8.0%,#282828 44.0%,#414141 62.0%,#505050 70.0%,#5e5e5e 76.0%,#6a6a6a 80.0%,#727272 82.5%,#848484 87.2%,#898989 88.2%,#a2a2a2 92.0%,#ababab 93.0%,#d2d2d2 96.5%,#e2e2e2 97.8%,#efefef 98.8%,#fcfcfc 99.8%,#fcfcfc 100.0%)"></i>
<i style="background:linear-gradient(90deg,#000000 0.0%,#070707 8.0%,#282828 44.0%,#414141 62.0%,#555555 72.0%,#646464 78.0%,#6d6d6d 80.8%,#727272 82.2%,#858585 87.2%,#8a8a8a 88.2%,#a3a3a3 92.0%,#acacac 93.0%,#d9d9d9 97.0%,#ececec 98.5%,#fcfcfc 99.8%,#fcfcfc 100.0%)"></i>
<i style="background:linear-gradient(90deg,#000000 0.0%,#070707 8.0%,#282828 44.0%,#3e3e3e 60.0%,#515151 70.0%,#5f5f5f 76.0%,#6d6d6d 80.5%,#717171 81.8%,#868686 87.2%,#8b8b8b 88.2%,#a4a4a4 92.0%,#adadad 93.0%,#e6e6e6 98.0%,#fcfcfc 99.8%,#fcfcfc 100.0%)"></i>
<i style="background:linear-gradient(90deg,#000000 0.0%,#070707 8.0%,#282828 44.0%,#333333 52.0%,#3e3e3e 60.0%,#464646 64.0%,#4d4d4d 68.0%,#606060 76.0%,#6c6c6c 80.0%,#717171 81.5%,#7b7b7b 84.2%,#7d7d7d 85.0%,#878787 87.2%,#8c8c8c 88.2%,#a3a3a3 91.8%,#aeaeae 93.0%,#c6c6c6 95.2%,#dadada 97.0%,#fcfcfc 99.8%,#fcfcfc 100.0%)"></i>
<i style="background:linear-gradient(90deg,#000000 0.0%,#070707 8.0%,#262626 42.0%,#424242 62.0%,#525252 70.0%,#5b5b5b 74.0%,#717171 81.2%,#797979 83.5%,#808080 85.5%,#888888 87.2%,#8d8d8d 88.2%,#a4a4a4 91.8%,#afafaf 93.0%,#fcfcfc 99.8%,#fcfcfc 100.0%)"></i>
<i style="background:linear-gradient(90deg,#000000 0.0%,#070707 8.0%,#131313 22.0%,#262626 42.0%,#3f3f3f 60.0%,#525252 70.0%,#616161 76.0%,#707070 80.8%,#787878 83.0%,#818181 85.5%,#898989 87.2%,#8e8e8e 88.2%,#a2a2a2 91.3%,#a3a3a3 91.5%,#b0b0b0 93.0%,#d6d6d6 96.5%,#fcfcfc 99.8%,#fcfcfc 100.0%)"></i>
<i style="background:linear-gradient(90deg,#000000 0.0%,#070707 8.0%,#131313 22.0%,#242424 40.0%,#3f3f3f 60.0%,#474747 64.0%,#4a4a4a 66.0%,#5c5c5c 74.0%,#707070 80.5%,#777777 82.5%,#838383 85.8%,#8a8a8a 87.2%,#8f8f8f 88.2%,#b1b1b1 93.0%,#f4f4f4 99.0%,#fcfcfc 99.8%,#fcfcfc 100.0%)"></i>
<i style="background:linear-gradient(90deg,#000000 0.0%,#070707 8.0%,#131313 22.0%,#242424 40.0%,#3c3c3c 58.0%,#535353 70.0%,#626262 76.0%,#707070 80.2%,#777777 82.2%,#848484 85.8%,#8b8b8b 87.2%,#b2b2b2 93.0%,#dddddd 97.0%,#f7f7f7 99.2%,#fcfcfc 99.8%,#fcfcfc 100.0%)"></i>
<i style="background:linear-gradient(90deg,#000000 0.0%,#070707 8.0%,#151515 24.0%,#222222 38.0%,#404040 60.0%,#4b4b4b 66.0%,#636363 76.0%,#707070 80.0%,#767676 81.8%,#858585 85.8%,#8c8c8c 87.2%,#b3b3b3 93.0%,#e9e9e9 98.0%,#fafafa 99.5%,#fcfcfc 99.8%,#fcfcfc 100.0%)"></i>
<i style="background:linear-gradient(90deg,#000000 0.0%,#070707 8.0%,#151515 24.0%,#202020 36.0%,#292929 44.0%,#404040 60.0%,#505050 68.0%,#5e5e5e 74.0%,#767676 81.5%,#858585 85.5%,#8c8c8c 87.0%,#959595 88.8%,#b4b4b4 93.0%,#efefef 98.5%,#fafafa 99.5%,#fcfcfc 99.8%,#fcfcfc 100.0%)"></i>
<i style="background:linear-gradient(90deg,#000000 0.0%,#070707 8.0%,#171717 26.0%,#202020 36.0%,#3d3d3d 58.0%,#4c4c4c 66.0%,#5f5f5f 74.0%,#767676 81.2%,#868686 85.5%,#8d8d8d 87.0%,#999999 89.2%,#b5b5b5 93.0%,#f2f2f2 98.8%,#fcfcfc 99.8%,#fcfcfc 100.0%)"></i>
<i style="background:linear-gradient(90deg,#000000 0.0%,#070707 8.0%,#171717 26.0%,#1c1c1c 32.0%,#272727 42.0%,#323232 50.0%,#3a3a3a 56.0%,#515151 68.0%,#656565 76.0%,#767676 81.0%,#878787 85.5%,#8e8e8e 87.0%,#b6b6b6 93.0%,#bfbfbf 94.0%,#dfdfdf 97.0%,#eaeaea 98.0%,#fcfcfc 99.8%,#fcfcfc 100.0%)"></i>
<i style="background:linear-gradient(90deg,#000000 0.0%,#070707 8.0%,#252525 40.0%,#3e3e3e 58.0%,#4d4d4d 66.0%,#606060 74.0%,#6c6c6c 78.0%,#767676 80.8%,#878787 85.2%,#8e8e8e 86.8%,#939393 87.8%,#b9b9b9 93.2%,#fcfcfc 99.8%,#fcfcfc 100.0%)"></i>
<i style="background:linear-gradient(90deg,#000000 0.0%,#070707 8.0%,#252525 40.0%,#3e3e3e 58.0%,#525252 68.0%,#616161 74.0%,#6d6d6d 78.0%,#767676 80.5%,#888888 85.2%,#8f8f8f 86.8%,#949494 87.8%,#bababa 93.2%,#fcfcfc 99.8%,#fcfcfc 100.0%)"></i>
<i style="background:linear-gradient(90deg,#000000 0.0%,#070707 8.0%,#232323 38.0%,#3b3b3b 56.0%,#4e4e4e 66.0%,#5c5c5c 72.0%,#6e6e6e 78.0%,#767676 80.2%,#898989 85.2%,#8f8f8f 86.5%,#989898 88.2%,#bbbbbb 93.2%,#fdfdfd 99.8%,#fdfdfd 100.0%)"></i>
<i style="background:linear-gradient(90deg,#000000 0.0%,#090909 10.0%,#101010 18.0%,#232323 38.0%,#3f3f3f 58.0%,#464646 62.0%,#626262 74.0%,#767676 80.0%,#898989 85.0%,#909090 86.5%,#999999 88.2%,#bcbcbc 93.2%,#cccccc 95.0%,#fdfdfd 99.8%,#fdfdfd 100.0%)"></i>
<i style="background:linear-gradient(90deg,#000000 0.0%,#090909 10.0%,#101010 18.0%,#212121 36.0%,#3c3c3c 56.0%,#4f4f4f 66.0%,#636363 74.0%,#8a8a8a 85.0%,#919191 86.5%,#9a9a9a 88.2%,#aeaeae 91.3%,#bdbdbd 93.2%,#cdcdcd 95.0%,#fdfdfd 99.8%,#fdfdfd 100.0%)"></i>
<i style="background:linear-gradient(90deg,#000000 0.0%,#090909 10.0%,#101010 18.0%,#1f1f1f 34.0%,#393939 54.0%,#4b4b4b 64.0%,#5e5e5e 72.0%,#707070 78.0%,#8a8a8a 84.8%,#919191 86.2%,#969696 87.2%,#c0c0c0 93.5%,#c9c9c9 94.5%,#fdfdfd 99.8%,#fdfdfd 100.0%)"></i>
<i style="background:linear-gradient(90deg,#000000 0.0%,#090909 10.0%,#121212 20.0%,#1f1f1f 34.0%,#363636 52.0%,#505050 66.0%,#5f5f5f 72.0%,#717171 78.0%,#8b8b8b 84.8%,#929292 86.2%,#979797 87.2%,#c1c1c1 93.5%,#cccccc 94.8%,#fdfdfd 99.8%,#fdfdfd 100.0%)"></i>
<i style="background:linear-gradient(90deg,#000000 0.0%,#090909 10.0%,#141414 22.0%,#1d1d1d 32.0%,#262626 40.0%,#3d3d3d 56.0%,#4c4c4c 64.0%,#5a5a5a 70.0%,#6b6b6b 76.0%,#8c8c8c 84.8%,#939393 86.2%,#989898 87.2%,#c4c4c4 93.8%,#cfcfcf 95.0%,#fdfdfd 99.8%,#fdfdfd 100.0%)"></i>
<i style="background:linear-gradient(90deg,#000000 0.0%,#090909 10.0%,#161616 24.0%,#191919 28.0%,#242424 38.0%,#3a3a3a 54.0%,#515151 66.0%,#606060 72.0%,#6c6c6c 76.0%,#8d8d8d 84.8%,#939393 86.0%,#9c9c9c 87.8%,#c7c7c7 94.0%,#d9d9d9 96.0%,#fdfdfd 99.8%,#fdfdfd 100.0%)"></i>
<i style="background:linear-gradient(90deg,#000000 0.0%,#090909 10.0%,#242424 38.0%,#373737 52.0%,#4d4d4d 64.0%,#616161 72.0%,#6d6d6d 76.0%,#8d8d8d 84.5%,#949494 86.0%,#9d9d9d 87.8%,#cacaca 94.2%,#d5d5d5 95.5%,#eaeaea 97.8%,#fdfdfd 99.8%,#fdfdfd 100.0%)"></i>
<i style="background:linear-gradient(90deg,#000000 0.0%,#0b0b0b 12.0%,#222222 36.0%,#3e3e3e 56.0%,#525252 66.0%,#5c5c5c 70.0%,#676767 74.0%,#8e8e8e 84.5%,#959595 86.0%,#9e9e9e 87.8%,#cdcdcd 94.5%,#d8d8d8 95.8%,#e8e8e8 97.5%,#f8f8f8 99.2%,#fdfdfd 99.8%,#fdfdfd 100.0%)"></i>
<i style="background:linear-gradient(90deg,#000000 0.0%,#0b0b0b 12.0%,#222222 36.0%,#3b3b3b 54.0%,#4e4e4e 64.0%,#626262 72.0%,#757575 78.0%,#8f8f8f 84.5%,#959595 85.8%,#9a9a9a 86.8%,#9f9f9f 87.8%,#d2d2d2 95.0%,#dddddd 96.2%,#ededed 98.0%,#f8f8f8 99.2%,#fdfdfd 99.8%,#fdfdfd 100.0%)"></i>
<i style="background:linear-gradient(90deg,#000000 0.0%,#040404 4.0%,#0b0b0b 12.0%,#202020 34.0%,#3b3b3b 54.0%,#434343 58.0%,#4a4a4a 62.0%,#5d5d5d 70.0%,#6f6f6f 76.0%,#909090 84.5%,#969696 85.8%,#9b9b9b 86.8%,#d7d7d7 95.5%,#e2e2e2 96.8%,#ebebeb 97.8%,#f6f6f6 99.0%,#fdfdfd 99.8%,#fdfdfd 100.0%)"></i>
<i style="background:linear-gradient(90deg,#000000 0.0%,#040404 4.0%,#0b0b0b 12.0%,#202020 34.0%,#383838 52.0%,#4f4f4f 64.0%,#5e5e5e 70.0%,#707070 76.0%,#868686 82.0%,#919191 84.5%,#979797 85.8%,#9c9c9c 86.8%,#dcdcdc 96.0%,#e9e9e9 97.5%,#f4f4f4 98.8%,#fdfdfd 99.8%,#fdfdfd 100.0%)"></i>
<i style="background:linear-gradient(90deg,#000000 0.0%,#040404 4.0%,#0d0d0d 14.0%,#1e1e1e 32.0%,#3c3c3c 54.0%,#4b4b4b 62.0%,#595959 68.0%,#6a6a6a 74.0%,#888888 82.2%,#929292 84.5%,#989898 85.8%,#9d9d9d 86.8%,#d4d4d4 95.0%,#e3e3e3 96.8%,#f2f2f2 98.5%,#fdfdfd 99.8%,#fdfdfd 100.0%)"></i>
<i style="background:linear-gradient(90deg,#000000 0.0%,#040404 4.0%,#0d0d0d 14.0%,#1e1e1e 32.0%,#3c3c3c 54.0%,#505050 64.0%,#5f5f5f 70.0%,#717171 76.0%,#8b8b8b 82.8%,#939393 84.5%,#999999 85.8%,#9e9e9e 86.8%,#dddddd 96.0%,#eeeeee 98.0%,#fdfdfd 99.8%,#fdfdfd 100.0%)"></i>
<i style="background:linear-gradient(90deg,#000000 0.0%,#040404 4.0%,#0d0d0d 14.0%,#1c1c1c 30.0%,#393939 52.0%,#4c4c4c 62.0%,#5a5a5a 68.0%,#656565 72.0%,#797979 78.0%,#8d8d8d 83.0%,#959595 84.8%,#9a9a9a 85.8%,#9f9f9f 86.8%,#eaeaea 97.5%,#fdfdfd 99.8%,#fdfdfd 100.0%)"></i>
<i style="background:linear-gradient(90deg,#000000 0.0%,#040404 4.0%,#0f0f0f 16.0%,#1a1a1a 28.0%,#363636 50.0%,#484848 60.0%,#606060 70.0%,#6c6c6c 74.0%,#7a7a7a 78.0%,#8f8f8f 83.2%,#969696 84.8%,#9c9c9c 86.0%,#a8a8a8 88.2%,#cfcfcf 94.0%,#e0e0e0 96.2%,#fdfdfd 99.8%,#fdfdfd 100.0%)"></i>
<i style="background:linear-gradient(90deg,#000000 0.0%,#040404 4.0%,#0f0f0f 16.0%,#181818 26.0%,#232323 36.0%,#313131 46.0%,#333333 48.0%,#515151 64.0%,#5b5b5b 68.0%,#6d6d6d 74.0%,#7b7b7b 78.0%,#919191 83.5%,#989898 85.0%,#a2a2a2 87.0%,#fdfdfd 99.8%,#fdfdfd 100.0%)"></i>
<i style="background:linear-gradient(90deg,#000000 0.0%,#040404 4.0%,#111111 18.0%,#161616 24.0%,#212121 34.0%,#3a3a3a 52.0%,#4d4d4d 62.0%,#616161 70.0%,#6d6d6d 74.0%,#7b7b7b 78.0%,#898989 81.5%,#939393 83.8%,#999999 85.0%,#9f9f9f 86.2%,#fdfdfd 99.8%,#fdfdfd 100.0%)"></i>
<i style="background:linear-gradient(90deg,#000000 0.0%,#040404 4.0%,#212121 34.0%,#3a3a3a 52.0%,#494949 60.0%,#5c5c5c 68.0%,#6e6e6e 74.0%,#7c7c7c 78.0%,#8d8d8d 82.2%,#959595 84.0%,#9b9b9b 85.2%,#a0a0a0 86.2%,#f2f2f2 98.2%,#fdfdfd 99.8%,#fdfdfd 100.0%)"></i>
<i style="background:linear-gradient(90deg,#000000 0.0%,#040404 4.0%,#212121 34.0%,#2c2c2c 42.0%,#373737 50.0%,#4e4e4e 62.0%,#626262 70.0%,#757575 76.0%,#909090 82.8%,#979797 84.2%,#9d9d9d 85.5%,#a6a6a6 87.2%,#d9d9d9 95.0%,#f6f6f6 98.8%,#fdfdfd 99.8%,#fdfdfd 100.0%)"></i>
<i style="background:linear-gradient(90deg,#000000 0.0%,#040404 4.0%,#1f1f1f 32.0%,#373737 50.0%,#4e4e4e 62.0%,#5d5d5d 68.0%,#6f6f6f 74.0%,#7d7d7d 78.0%,#888888 80.8%,#939393 83.2%,#9a9a9a 84.8%,#9f9f9f 85.8%,#a4a4a4 86.8%,#e1e1e1 96.0%,#f8f8f8 99.0%,#fdfdfd 99.8%,#fdfdfd 100.0%)"></i>
<i style="background:linear-gradient(90deg,#000000 0.0%,#040404 4.0%,#1f1f1f 32.0%,#313131 46.0%,#4a4a4a 60.0%,#585858 66.0%,#696969 72.0%,#7e7e7e 78.0%,#8e8e8e 82.0%,#969696 83.8%,#9c9c9c 85.0%,#a5a5a5 86.8%,#e9e9e9 97.0%,#f8f8f8 99.0%,#fdfdfd 99.8%,#fdfdfd 100.0%)"></i>
<i style="background:linear-gradient(90deg,#000000 0.0%,#040404 4.0%,#1f1f1f 32.0%,#3b3b3b 52.0%,#464646 58.0%,#5e5e5e 68.0%,#707070 74.0%,#929292 82.8%,#999999 84.2%,#9e9e9e 85.2%,#a3a3a3 86.2%,#ededed 97.5%,#fafafa 99.2%,#fdfdfd 99.8%,#fdfdfd 100.0%)"></i>
<i style="background:linear-gradient(90deg,#000000 0.0%,#040404 4.0%,#1d1d1d 30.0%,#3b3b3b 52.0%,#4f4f4f 62.0%,#5e5e5e 68.0%,#6a6a6a 72.0%,#7f7f7f 78.0%,#8c8c8c 81.2%,#959595 83.2%,#9b9b9b 84.5%,#a1a1a1 85.8%,#b1b1b1 88.8%,#d7d7d7 94.5%,#e2e2e2 96.0%,#efefef 97.8%,#fafafa 99.2%,#fdfdfd 99.8%,#fdfdfd 100.0%)"></i>
<i style="background:linear-gradient(90deg,#000000 0.0%,#060606 6.0%,#1d1d1d 30.0%,#383838 50.0%,#4b4b4b 60.0%,#595959 66.0%,#646464 70.0%,#787878 76.0%,#919191 82.2%,#989898 83.8%,#9e9e9e 85.0%,#a7a7a7 86.8%,#f1f1f1 98.0%,#fafafa 99.2%,#fdfdfd 99.8%,#fdfdfd 100.0%)"></i>
<i style="background:linear-gradient(90deg,#000000 0.0%,#060606 6.0%,#1d1d1d 30.0%,#383838 50.0%,#4b4b4b 60.0%,#5f5f5f 68.0%,#6b6b6b 72.0%,#808080 78.0%,#8b8b8b 80.8%,#959595 83.0%,#9b9b9b 84.2%,#a1a1a1 85.5%,#aaaaaa 87.2%,#e8e8e8 96.8%,#f3f3f3 98.2%,#fdfdfd 99.8%,#fdfdfd 100.0%)"></i>
<i style="background:linear-gradient(90deg,#000000 0.0%,#060606 6.0%,#1b1b1b 28.0%,#353535 48.0%,#474747 58.0%,#5f5f5f 68.0%,#6b6b6b 72.0%,#797979 76.0%,#919191 82.0%,#999999 83.8%,#a3a3a3 85.8%,#a8a8a8 86.8%,#ececec 97.2%,#fcfcfc 99.5%,#fdfdfd 100.0%)"></i>
<i style="background:linear-gradient(90deg,#000000 0.0%,#060606 6.0%,#1b1b1b 28.0%,#353535 48.0%,#505050 62.0%,#5a5a5a 66.0%,#727272 74.0%,#8d8d8d 81.0%,#969696 83.0%,#9c9c9c 84.2%,#a1a1a1 85.2%,#a6a6a6 86.2%,#f5f5f5 98.5%,#fcfcfc 99.5%,#fdfdfd 100.0%)"></i>
<i style="background:linear-gradient(90deg,#000000 0.0%,#060606 6.0%,#1b1b1b 28.0%,#323232 46.0%,#4c4c4c 60.0%,#555555 64.0%,#6c6c6c 72.0%,#818181 78.0%,#939393 82.2%,#9a9a9a 83.8%,#a4a4a4 85.8%,#a9a9a9 86.8%,#f5f5f5 98.5%,#fcfcfc 99.5%,#fdfdfd 100.0%)"></i>
<i style="background:linear-gradient(90deg,#000000 0.0%,#060606 6.0%,#1b1b1b 28.0%,#3c3c3c 52.0%,#4c4c4c 60.0%,#606060 68.0%,#6c6c6c 72.0%,#7a7a7a 76.0%,#8f8f8f 81.2%,#979797 83.0%,#9d9d9d 84.2%,#a3a3a3 85.5%,#afafaf 87.8%,#eeeeee 97.5%,#f5f5f5 98.5%,#fcfcfc 99.5%,#fdfdfd 100.0%)"></i>
<i style="background:linear-gradient(90deg,#000000 0.0%,#060606 6.0%,#191919 26.0%,#222222 34.0%,#393939 50.0%,#4c4c4c 60.0%,#5b5b5b 66.0%,#666666 70.0%,#737373 74.0%,#8a8a8a 80.0%,#959595 82.5%,#9b9b9b 83.8%,#a1a1a1 85.0%,#aaaaaa 86.8%,#fdfdfd 99.8%,#fdfdfd 100.0%)"></i>
<i style="background:linear-gradient(90deg,#000000 0.0%,#060606 6.0%,#191919 26.0%,#393939 50.0%,#484848 58.0%,#5b5b5b 66.0%,#6d6d6d 72.0%,#7b7b7b 76.0%,#929292 81.8%,#999999 83.2%,#9f9f9f 84.5%,#a9a9a9 86.5%,#fdfdfd 99.8%,#fdfdfd 100.0%)"></i>
<i style="background:linear-gradient(90deg,#000000 0.0%,#060606 6.0%,#191919 26.0%,#393939 50.0%,#484848 58.0%,#5b5b5b 66.0%,#6d6d6d 72.0%,#7b7b7b 76.0%,#8f8f8f 81.0%,#979797 82.8%,#9d9d9d 84.0%,#a3a3a3 85.2%,#acacac 87.0%,#fdfdfd 99.8%,#fdfdfd 100.0%)"></i>
<i style="background:linear-gradient(90deg,#000000 0.0%,#060606 6.0%,#191919 26.0%,#393939 50.0%,#414141 54.0%,#444444 56.0%,#565656 64.0%,#6d6d6d 72.0%,#7b7b7b 76.0%,#8b8b8b 80.0%,#959595 82.2%,#9c9c9c 83.8%,#a6a6a6 85.8%,#b6b6b6 88.8%,#f2f2f2 98.0%,#fdfdfd 99.8%,#fdfdfd 100.0%)"></i>
<i style="background:linear-gradient(90deg,#000000 0.0%,#060606 6.0%,#191919 26.0%,#363636 48.0%,#4d4d4d 60.0%,#616161 68.0%,#747474 74.0%,#929292 81.5%,#9a9a9a 83.2%,#a0a0a0 84.5%,#a9a9a9 86.2%,#bcbcbc 89.8%,#e8e8e8 96.5%,#fcfcfc 99.5%,#fdfdfd 100.0%)"></i>
<i style="background:linear-gradient(90deg,#000000 0.0%,#080808 8.0%,#171717 24.0%,#202020 32.0%,#363636 48.0%,#4d4d4d 60.0%,#5c5c5c 66.0%,#6e6e6e 72.0%,#7c7c7c 76.0%,#909090 81.0%,#989898 82.8%,#9e9e9e 84.0%,#a3a3a3 85.0%,#acacac 86.8%,#fdfdfd 99.8%,#fdfdfd 100.0%)"></i>
<i style="background:linear-gradient(90deg,#000000 0.0%,#080808 8.0%,#171717 24.0%,#202020 32.0%,#363636 48.0%,#4d4d4d 60.0%,#5c5c5c 66.0%,#6e6e6e 72.0%,#7c7c7c 76.0%,#8d8d8d 80.2%,#969696 82.2%,#9d9d9d 83.8%,#a7a7a7 85.8%,#b7b7b7 88.8%,#fdfdfd 99.8%,#fdfdfd 100.0%)"></i>
<i style="background:linear-gradient(90deg,#000000 0.0%,#080808 8.0%,#171717 24.0%,#202020 32.0%,#363636 48.0%,#4d4d4d 60.0%,#5c5c5c 66.0%,#6e6e6e 72.0%,#7c7c7c 76.0%,#949494 81.8%,#9b9b9b 83.2%,#a1a1a1 84.5%,#aaaaaa 86.2%,#bdbdbd 89.8%,#f9f9f9 99.0%,#fdfdfd 99.8%,#fdfdfd 100.0%)"></i>
<i style="background:linear-gradient(90deg,#000000 0.0%,#080808 8.0%,#171717 24.0%,#202020 32.0%,#363636 48.0%,#4d4d4d 60.0%,#5c5c5c 66.0%,#6e6e6e 72.0%,#929292 81.2%,#9a9a9a 83.0%,#a0a0a0 84.2%,#a5a5a5 85.2%,#b5b5b5 88.2%,#fdfdfd 99.8%,#fdfdfd 100.0%)"></i>
<i style="background:linear-gradient(90deg,#000000 0.0%,#080808 8.0%,#171717 24.0%,#202020 32.0%,#333333 46.0%,#494949 58.0%,#575757 64.0%,#686868 70.0%,#7d7d7d 76.0%,#909090 80.8%,#989898 82.5%,#9e9e9e 83.8%,#a4a4a4 85.0%,#b1b1b1 87.5%,#fdfdfd 99.8%,#fdfdfd 100.0%)"></i>
<i style="background:linear-gradient(90deg,#000000 0.0%,#080808 8.0%,#171717 24.0%,#202020 32.0%,#333333 46.0%,#494949 58.0%,#575757 64.0%,#686868 70.0%,#7d7d7d 76.0%,#8e8e8e 80.2%,#979797 82.2%,#9d9d9d 83.5%,#a2a2a2 84.5%,#acacac 86.5%,#fdfdfd 99.8%,#fdfdfd 100.0%)"></i>
<i style="background:linear-gradient(90deg,#000000 0.0%,#080808 8.0%,#171717 24.0%,#202020 32.0%,#333333 46.0%,#494949 58.0%,#575757 64.0%,#626262 68.0%,#7d7d7d 76.0%,#959595 81.8%,#9c9c9c 83.2%,#a6a6a6 85.2%,#ababab 86.2%,#fdfdfd 99.8%,#fdfdfd 100.0%)"></i>
<i style="background:linear-gradient(90deg,#000000 0.0%,#080808 8.0%,#151515 22.0%,#252525 36.0%,#2e2e2e 42.0%,#333333 46.0%,#494949 58.0%,#5d5d5d 66.0%,#6f6f6f 72.0%,#7d7d7d 76.0%,#949494 81.5%,#9b9b9b 83.0%,#a0a0a0 84.0%,#a5a5a5 85.0%,#aeaeae 86.8%,#fdfdfd 99.8%,#fdfdfd 100.0%)"></i>
<i style="background:linear-gradient(90deg,#000000 0.0%,#080808 8.0%,#151515 22.0%,#252525 36.0%,#2e2e2e 42.0%,#303030 44.0%,#494949 58.0%,#5d5d5d 66.0%,#6f6f6f 72.0%,#929292 81.0%,#999999 82.5%,#9f9f9f 83.8%,#a5a5a5 85.0%,#b1b1b1 87.2%,#fdfdfd 99.8%,#fdfdfd 100.0%)"></i>
<i style="background:linear-gradient(90deg,#000000 0.0%,#080808 8.0%,#151515 22.0%,#252525 36.0%,#2e2e2e 42.0%,#303030 44.0%,#454545 56.0%,#5d5d5d 66.0%,#6f6f6f 72.0%,#909090 80.5%,#989898 82.2%,#9e9e9e 83.5%,#a4a4a4 84.8%,#adadad 86.5%,#fdfdfd 99.8%,#fdfdfd 100.0%)"></i>
<i style="background:linear-gradient(90deg,#000000 0.0%,#080808 8.0%,#151515 22.0%,#252525 36.0%,#3a3a3a 50.0%,#454545 56.0%,#5d5d5d 66.0%,#696969 70.0%,#767676 74.0%,#8f8f8f 80.2%,#979797 82.0%,#9d9d9d 83.2%,#a3a3a3 84.5%,#acacac 86.2%,#bfbfbf 89.8%,#fdfdfd 99.8%,#fdfdfd 100.0%)"></i>
<i style="background:linear-gradient(90deg,#000000 0.0%,#080808 8.0%,#151515 22.0%,#252525 36.0%,#3a3a3a 50.0%,#424242 54.0%,#454545 56.0%,#5d5d5d 66.0%,#696969 70.0%,#7e7e7e 76.0%,#969696 81.8%,#9d9d9d 83.2%,#a7a7a7 85.2%,#b7b7b7 88.2%,#fdfdfd 99.8%,#fdfdfd 100.0%)"></i>
<i style="background:linear-gradient(90deg,#000000 0.0%,#080808 8.0%,#151515 22.0%,#3a3a3a 50.0%,#4e4e4e 60.0%,#5d5d5d 66.0%,#696969 70.0%,#7e7e7e 76.0%,#959595 81.5%,#9c9c9c 83.0%,#a1a1a1 84.0%,#a6a6a6 85.0%,#afafaf 86.8%,#fdfdfd 99.8%,#fdfdfd 100.0%)"></i>
<i style="background:linear-gradient(90deg,#000000 0.0%,#080808 8.0%,#151515 22.0%,#3a3a3a 50.0%,#4e4e4e 60.0%,#5d5d5d 66.0%,#696969 70.0%,#7e7e7e 76.0%,#949494 81.2%,#9b9b9b 82.8%,#a1a1a1 84.0%,#a6a6a6 85.0%,#b2b2b2 87.2%,#fdfdfd 99.8%,#fdfdfd 100.0%)"></i>
<i style="background:linear-gradient(90deg,#000000 0.0%,#080808 8.0%,#151515 22.0%,#3a3a3a 50.0%,#4e4e4e 60.0%,#5d5d5d 66.0%,#696969 70.0%,#7e7e7e 76.0%,#939393 81.0%,#9a9a9a 82.5%,#a0a0a0 83.8%,#aaaaaa 85.8%,#bdbdbd 89.2%,#fdfdfd 99.8%,#fdfdfd 100.0%)"></i>
<i style="background:linear-gradient(90deg,#000000 0.0%,#080808 8.0%,#151515 22.0%,#3a3a3a 50.0%,#4e4e4e 60.0%,#585858 64.0%,#696969 70.0%,#777777 74.0%,#929292 80.8%,#999999 82.2%,#9f9f9f 83.5%,#a4a4a4 84.5%,#adadad 86.2%,#c0c0c0 89.8%,#fdfdfd 99.8%,#fdfdfd 100.0%)"></i>
<i style="background:linear-gradient(90deg,#000000 0.0%,#080808 8.0%,#151515 22.0%,#3a3a3a 50.0%,#4e4e4e 60.0%,#585858 64.0%,#636363 68.0%,#777777 74.0%,#919191 80.5%,#999999 82.2%,#9f9f9f 83.5%,#a4a4a4 84.5%,#adadad 86.2%,#fdfdfd 99.8%,#fdfdfd 100.0%)"></i>
<i style="background:linear-gradient(90deg,#000000 0.0%,#080808 8.0%,#151515 22.0%,#3a3a3a 50.0%,#4e4e4e 60.0%,#585858 64.0%,#636363 68.0%,#777777 74.0%,#909090 80.2%,#989898 82.0%,#9e9e9e 83.2%,#a8a8a8 85.2%,#b8b8b8 88.2%,#fdfdfd 99.8%,#fdfdfd 100.0%)"></i>
<i style="background:linear-gradient(90deg,#000000 0.0%,#080808 8.0%,#151515 22.0%,#3a3a3a 50.0%,#4e4e4e 60.0%,#585858 64.0%,#636363 68.0%,#777777 74.0%,#8f8f8f 80.0%,#979797 81.8%,#9d9d9d 83.0%,#a3a3a3 84.2%,#a8a8a8 85.2%,#b8b8b8 88.2%,#fdfdfd 99.8%,#fdfdfd 100.0%)"></i>
<i style="background:linear-gradient(90deg,#000000 0.0%,#080808 8.0%,#151515 22.0%,#3a3a3a 50.0%,#4e4e4e 60.0%,#585858 64.0%,#707070 72.0%,#878787 78.0%,#979797 81.8%,#9d9d9d 83.0%,#a2a2a2 84.0%,#a7a7a7 85.0%,#b0b0b0 86.8%,#fdfdfd 99.8%,#fdfdfd 100.0%)"></i>
<i style="background:linear-gradient(90deg,#000000 0.0%,#080808 8.0%,#151515 22.0%,#3a3a3a 50.0%,#4e4e4e 60.0%,#585858 64.0%,#707070 72.0%,#878787 78.0%,#969696 81.5%,#9c9c9c 82.8%,#a2a2a2 84.0%,#a7a7a7 85.0%,#b3b3b3 87.2%,#fdfdfd 99.8%,#fdfdfd 100.0%)"></i>
<i style="background:linear-gradient(90deg,#000000 0.0%,#080808 8.0%,#151515 22.0%,#3a3a3a 50.0%,#4e4e4e 60.0%,#585858 64.0%,#707070 72.0%,#878787 78.0%,#959595 81.2%,#9c9c9c 82.8%,#a6a6a6 84.8%,#ababab 85.8%,#bebebe 89.2%,#fdfdfd 99.8%,#fdfdfd 100.0%)"></i>
<i style="background:linear-gradient(90deg,#000000 0.0%,#080808 8.0%,#151515 22.0%,#3a3a3a 50.0%,#4a4a4a 58.0%,#585858 64.0%,#707070 72.0%,#878787 78.0%,#959595 81.2%,#9b9b9b 82.5%,#a1a1a1 83.8%,#aaaaaa 85.5%,#b3b3b3 87.2%,#fdfdfd 99.8%,#fdfdfd 100.0%)"></i>
<i style="background:linear-gradient(90deg,#000000 0.0%,#080808 8.0%,#151515 22.0%,#3a3a3a 50.0%,#4a4a4a 58.0%,#585858 64.0%,#6a6a6a 70.0%,#7f7f7f 76.0%,#949494 81.0%,#9b9b9b 82.5%,#a1a1a1 83.8%,#aaaaaa 85.5%,#b6b6b6 87.8%,#fefefe 99.8%,#fefefe 100.0%)"></i>
<i style="background:linear-gradient(90deg,#000000 0.0%,#080808 8.0%,#151515 22.0%,#3a3a3a 50.0%,#4a4a4a 58.0%,#585858 64.0%,#6a6a6a 70.0%,#7f7f7f 76.0%,#949494 81.0%,#9b9b9b 82.5%,#a0a0a0 83.5%,#a5a5a5 84.5%,#aeaeae 86.2%,#c1c1c1 89.8%,#fefefe 99.8%,#fefefe 100.0%)"></i>
<i style="background:linear-gradient(90deg,#000000 0.0%,#080808 8.0%,#151515 22.0%,#3a3a3a 50.0%,#4a4a4a 58.0%,#585858 64.0%,#6a6a6a 70.0%,#7f7f7f 76.0%,#939393 80.8%,#9a9a9a 82.2%,#a0a0a0 83.5%,#a5a5a5 84.5%,#aeaeae 86.2%,#fefefe 99.8%,#fefefe 100.0%)"></i>
<i style="background:linear-gradient(90deg,#000000 0.0%,#080808 8.0%,#151515 22.0%,#3a3a3a 50.0%,#4a4a4a 58.0%,#585858 64.0%,#6a6a6a 70.0%,#7f7f7f 76.0%,#939393 80.8%,#9a9a9a 82.2%,#a0a0a0 83.5%,#a5a5a5 84.5%,#aeaeae 86.2%,#fefefe 99.8%,#fefefe 100.0%)"></i>
<i style="background:linear-gradient(90deg,#000000 0.0%,#080808 8.0%,#151515 22.0%,#3a3a3a 50.0%,#4a4a4a 58.0%,#535353 62.0%,#6a6a6a 70.0%,#7f7f7f 76.0%,#929292 80.5%,#999999 82.0%,#9f9f9f 83.2%,#a9a9a9 85.2%,#b9b9b9 88.2%,#fefefe 99.8%,#fefefe 100.0%)"></i>
<i style="background:linear-gradient(90deg,#000000 0.0%,#080808 8.0%,#151515 22.0%,#3a3a3a 50.0%,#4a4a4a 58.0%,#535353 62.0%,#6a6a6a 70.0%,#7f7f7f 76.0%,#929292 80.5%,#999999 82.0%,#9f9f9f 83.2%,#a9a9a9 85.2%,#b9b9b9 88.2%,#fefefe 99.8%,#fefefe 100.0%)"></i>
<i style="background:linear-gradient(90deg,#000000 0.0%,#080808 8.0%,#151515 22.0%,#3a3a3a 50.0%,#4a4a4a 58.0%,#535353 62.0%,#6a6a6a 70.0%,#7f7f7f 76.0%,#929292 80.5%,#999999 82.0%,#9f9f9f 83.2%,#a9a9a9 85.2%,#b9b9b9 88.2%,#fefefe 99.8%,#fefefe 100.0%)"></i>
<i style="background:linear-gradient(90deg,#000000 0.0%,#080808 8.0%,#151515 22.0%,#3a3a3a 50.0%,#4a4a4a 58.0%,#535353 62.0%,#6a6a6a 70.0%,#787878 74.0%,#919191 80.2%,#999999 82.0%,#9e9e9e 83.0%,#a4a4a4 84.2%,#adadad 86.0%,#fefefe 99.8%,#fefefe 100.0%)"></i>
<i style="background:linear-gradient(90deg,#000000 0.0%,#080808 8.0%,#151515 22.0%,#3a3a3a 50.0%,#4a4a4a 58.0%,#535353 62.0%,#6a6a6a 70.0%,#787878 74.0%,#919191 80.2%,#989898 81.8%,#9e9e9e 83.0%,#a3a3a3 84.0%,#a8a8a8 85.0%,#b1b1b1 86.8%,#fefefe 99.8%,#fefefe 100.0%)"></i>
<i style="background:linear-gradient(90deg,#000000 0.0%,#080808 8.0%,#151515 22.0%,#3a3a3a 50.0%,#4a4a4a 58.0%,#535353 62.0%,#6a6a6a 70.0%,#787878 74.0%,#919191 80.2%,#989898 81.8%,#9e9e9e 83.0%,#a3a3a3 84.0%,#a8a8a8 85.0%,#b4b4b4 87.2%,#fefefe 99.8%,#fefefe 100.0%)"></i>
<i style="background:linear-gradient(90deg,#000000 0.0%,#080808 8.0%,#151515 22.0%,#3a3a3a 50.0%,#4a4a4a 58.0%,#535353 62.0%,#6a6a6a 70.0%,#787878 74.0%,#909090 80.0%,#989898 81.8%,#9e9e9e 83.0%,#a3a3a3 84.0%,#a8a8a8 85.0%,#b4b4b4 87.2%,#fefefe 99.8%,#fefefe 100.0%)"></i>
<i style="background:linear-gradient(90deg,#000000 0.0%,#080808 8.0%,#151515 22.0%,#3a3a3a 50.0%,#4a4a4a 58.0%,#535353 62.0%,#6a6a6a 70.0%,#787878 74.0%,#909090 80.0%,#989898 81.8%,#9e9e9e 83.0%,#a3a3a3 84.0%,#a8a8a8 85.0%,#b4b4b4 87.2%,#fefefe 99.8%,#fefefe 100.0%)"></i>
<i style="background:linear-gradient(90deg,#000000 0.0%,#080808 8.0%,#151515 22.0%,#3a3a3a 50.0%,#4a4a4a 58.0%,#535353 62.0%,#6a6a6a 70.0%,#787878 74.0%,#909090 80.0%,#979797 81.5%,#9d9d9d 82.8%,#a3a3a3 84.0%,#acacac 85.8%,#bfbfbf 89.2%,#fefefe 99.8%,#fefefe 100.0%)"></i>
<i style="background:linear-gradient(90deg,#000000 0.0%,#080808 8.0%,#151515 22.0%,#3a3a3a 50.0%,#4a4a4a 58.0%,#535353 62.0%,#6a6a6a 70.0%,#787878 74.0%,#888888 78.0%,#979797 81.5%,#9d9d9d 82.8%,#a3a3a3 84.0%,#acacac 85.8%,#bfbfbf 89.2%,#fefefe 99.8%,#fefefe 100.0%)"></i>
<i style="background:linear-gradient(90deg,#000000 0.0%,#080808 8.0%,#151515 22.0%,#3a3a3a 50.0%,#4a4a4a 58.0%,#535353 62.0%,#6a6a6a 70.0%,#787878 74.0%,#888888 78.0%,#979797 81.5%,#9d9d9d 82.8%,#a7a7a7 84.8%,#acacac 85.8%,#bfbfbf 89.2%,#fefefe 99.8%,#fefefe 100.0%)"></i>
<i style="background:linear-gradient(90deg,#000000 0.0%,#080808 8.0%,#151515 22.0%,#3a3a3a 50.0%,#4a4a4a 58.0%,#535353 62.0%,#6a6a6a 70.0%,#787878 74.0%,#888888 78.0%,#979797 81.5%,#9d9d9d 82.8%,#a7a7a7 84.8%,#acacac 85.8%,#bfbfbf 89.2%,#fefefe 99.8%,#fefefe 100.0%)"></i>
<i style="background:linear-gradient(90deg,#000000 0.0%,#080808 8.0%,#151515 22.0%,#3a3a3a 50.0%,#4a4a4a 58.0%,#535353 62.0%,#6a6a6a 70.0%,#787878 74.0%,#888888 78.0%,#979797 81.5%,#9d9d9d 82.8%,#a7a7a7 84.8%,#b0b0b0 86.5%,#fefefe 99.8%,#fefefe 100.0%)"></i>
<i style="background:linear-gradient(90deg,#000000 0.0%,#080808 8.0%,#151515 22.0%,#3a3a3a 50.0%,#4a4a4a 58.0%,#535353 62.0%,#6a6a6a 70.0%,#787878 74.0%,#888888 78.0%,#979797 81.5%,#9d9d9d 82.8%,#a7a7a7 84.8%,#b7b7b7 87.8%,#fefefe 99.8%,#fefefe 100.0%)"></i>
<i style="background:linear-gradient(90deg,#000000 0.0%,#080808 8.0%,#151515 22.0%,#3a3a3a 50.0%,#4a4a4a 58.0%,#535353 62.0%,#6a6a6a 70.0%,#787878 74.0%,#888888 78.0%,#979797 81.5%,#9d9d9d 82.8%,#a7a7a7 84.8%,#b7b7b7 87.8%,#fefefe 99.8%,#fefefe 100.0%)"></i>
<i style="background:linear-gradient(90deg,#000000 0.0%,#080808 8.0%,#151515 22.0%,#3a3a3a 50.0%,#4a4a4a 58.0%,#535353 62.0%,#6a6a6a 70.0%,#787878 74.0%,#888888 78.0%,#969696 81.2%,#9d9d9d 82.8%,#a7a7a7 84.8%,#b7b7b7 87.8%,#fefefe 99.8%,#fefefe 100.0%)"></i>
</div>
<svg width="1188" height="671" viewBox="0 0 1188 671">
<defs><filter id="pf" x="0" y="0" width="1" height="1" color-interpolation-filters="sRGB"><feComponentTransfer><feFuncR type="discrete" tableValues="0.1813 0.1876 0.1915 0.1949 0.1972 0.1984 0.1985 0.1976 0.1976 0.1983 0.1976 0.1951 0.1900 0.1811 0.1666 0.1479 0.1315 0.1267 0.1292 0.1326 0.1314 0.1268 0.1267 0.1261 0.1201 0.1102 0.0984 0.0806 0.0587 0.0480 0.0493 0.0670 0.1005 0.1313 0.1538 0.1702 0.1870 0.2112 0.2470 0.2907 0.3369 0.3884 0.4457 0.5040 0.5623 0.6207 0.6779 0.7314 0.7825 0.8305 0.8756 0.9164 0.9543 0.9828 0.9898 0.9854 0.9794 0.9732 0.9646 0.9590 0.9592 0.9653 0.9758 0.9860"/><feFuncG type="discrete" tableValues="0.0365 0.0491 0.0634 0.0781 0.0943 0.1130 0.1333 0.1544 0.1764 0.1990 0.2218 0.2452 0.2694 0.2944 0.3203 0.3473 0.3740 0.4007 0.4274 0.4538 0.4798 0.5054 0.5301 0.5547 0.5778 0.5980 0.6170 0.6346 0.6505 0.6650 0.6783 0.6905 0.7016 0.7130 0.7251 0.7374 0.7494 0.7603 0.7691 0.7756 0.7784 0.7764 0.7714 0.7641 0.7549 0.7439 0.7314 0.7205 0.7094 0.6990 0.6903 0.6847 0.6845 0.6957 0.7184 0.7454 0.7750 0.8080 0.8417 0.8757 0.9094 0.9425 0.9751 1.0000"/><feFuncB type="discrete" tableValues="0.6176 0.6689 0.7190 0.7687 0.8138 0.8516 0.8828 0.9087 0.9306 0.9491 0.9644 0.9763 0.9841 0.9890 0.9912 0.9868 0.9760 0.9657 0.9535 0.9371 0.9213 0.9076 0.8947 0.8855 0.8748 0.8559 0.8318 0.8034 0.7721 0.7394 0.7055 0.6710 0.6358 0.6046 0.5742 0.5425 0.5086 0.4723 0.4341 0.3946 0.3529 0.3114 0.2723 0.2341 0.1974 0.1655 0.1400 0.1165 0.1037 0.1037 0.1139 0.1355 0.1598 0.1654 0.1538 0.1382 0.1242 0.1120 0.1006 0.0900 0.0797 0.0676 0.0526 0.0358"/></feComponentTransfer></filter><filter id="pfa" x="0" y="0" width="1" height="1" color-interpolation-filters="sRGB"><feComponentTransfer><feFuncR type="discrete" tableValues="0.181 0.181 0.188 0.188 0.192 0.195 0.195 0.197 0.198 0.198 0.198 0.198 0.198 0.198 0.198 0.198 0.198 0.198 0.198 0.199 0.199 0.199 0.199 0.199 0.199 0.199 0.199 0.199 0.199 0.199 0.199 0.199 0.198 0.198 0.198 0.198 0.198 0.198 0.198 0.198 0.198 0.198 0.198 0.198 0.198 0.198 0.198 0.198 0.198 0.198 0.198 0.198 0.198 0.198 0.198 0.198 0.198 0.198 0.198 0.198 0.198 0.198 0.198 0.198 0.198 0.198 0.198 0.198 0.198 0.198 0.198 0.198 0.198 0.198 0.198 0.198 0.198 0.198 0.198 0.198 0.198 0.198 0.195 0.195 0.195 0.195 0.195 0.195 0.195 0.195 0.195 0.195 0.195 0.195 0.190 0.190 0.190 0.190 0.190 0.190 0.190 0.190 0.190 0.190 0.190 0.190 0.190 0.181 0.181 0.181 0.181 0.181 0.181 0.181 0.181 0.181 0.181 0.181 0.181 0.167 0.167 0.167 0.167 0.148 0.148 0.148 0.131 0.131 0.127 0.127 0.127 0.129 0.129 0.129 0.133 0.133 0.133 0.131 0.131 0.127 0.127 0.127 0.127 0.127 0.127 0.126 0.126 0.120 0.120 0.120 0.110 0.110 0.110 0.098 0.098 0.081 0.081 0.081 0.059 0.059 0.059 0.048 0.048 0.048 0.049 0.049 0.067 0.067 0.067 0.100 0.100 0.100 0.131 0.131 0.154 0.154 0.154 0.170 0.170 0.170 0.187 0.187 0.211 0.211 0.211 0.247 0.247 0.247 0.291 0.291 0.291 0.337 0.337 0.388 0.388 0.388 0.446 0.446 0.446 0.504 0.504 0.562 0.562 0.562 0.621 0.621 0.621 0.678 0.678 0.678 0.731 0.731 0.783 0.783 0.783 0.831 0.831 0.831 0.876 0.876 0.916 0.916 0.916 0.954 0.954 0.954 0.983 0.983 0.990 0.990 0.990 0.985 0.985 0.985 0.979 0.979 0.979 0.973 0.973 0.965 0.965 0.965 0.959 0.959 0.959 0.959 0.959 0.965 0.965 0.965 0.976 0.976 0.976 0.986 0.986 0.986"/><feFuncG type="discrete" tableValues="0.037 0.037 0.049 0.049 0.063 0.078 0.078 0.094 0.113 0.113 0.113 0.113 0.113 0.113 0.113 0.113 0.113 0.113 0.113 0.133 0.133 0.133 0.133 0.133 0.133 0.133 0.133 0.133 0.133 0.133 0.133 0.133 0.154 0.154 0.154 0.154 0.154 0.154 0.154 0.154 0.154 0.154 0.154 0.154 0.176 0.176 0.176 0.176 0.176 0.176 0.176 0.176 0.176 0.176 0.176 0.176 0.176 0.199 0.199 0.199 0.199 0.199 0.199 0.199 0.199 0.199 0.199 0.199 0.199 0.222 0.222 0.222 0.222 0.222 0.222 0.222 0.222 0.222 0.222 0.222 0.222 0.222 0.245 0.245 0.245 0.245 0.245 0.245 0.245 0.245 0.245 0.245 0.245 0.245 0.269 0.269 0.269 0.269 0.269 0.269 0.269 0.269 0.269 0.269 0.269 0.269 0.269 0.294 0.294 0.294 0.294 0.294 0.294 0.294 0.294 0.294 0.294 0.294 0.294 0.320 0.320 0.320 0.320 0.347 0.347 0.347 0.374 0.374 0.401 0.401 0.401 0.427 0.427 0.427 0.454 0.454 0.454 0.480 0.480 0.505 0.505 0.505 0.530 0.530 0.530 0.555 0.555 0.578 0.578 0.578 0.598 0.598 0.598 0.617 0.617 0.635 0.635 0.635 0.650 0.650 0.650 0.665 0.665 0.665 0.678 0.678 0.690 0.690 0.690 0.702 0.702 0.702 0.713 0.713 0.725 0.725 0.725 0.737 0.737 0.737 0.749 0.749 0.760 0.760 0.760 0.769 0.769 0.769 0.776 0.776 0.776 0.778 0.778 0.776 0.776 0.776 0.771 0.771 0.771 0.764 0.764 0.755 0.755 0.755 0.744 0.744 0.744 0.731 0.731 0.731 0.720 0.720 0.709 0.709 0.709 0.699 0.699 0.699 0.690 0.690 0.685 0.685 0.685 0.684 0.684 0.684 0.696 0.696 0.718 0.718 0.718 0.745 0.745 0.745 0.775 0.775 0.775 0.808 0.808 0.842 0.842 0.842 0.876 0.876 0.876 0.909 0.909 0.942 0.942 0.942 0.975 0.975 0.975 1.000 1.000 1.000"/><feFuncB type="discrete" tableValues="0.618 0.618 0.669 0.669 0.719 0.769 0.769 0.814 0.852 0.852 0.852 0.852 0.852 0.852 0.852 0.852 0.852 0.852 0.852 0.883 0.883 0.883 0.883 0.883 0.883 0.883 0.883 0.883 0.883 0.883 0.883 0.883 0.909 0.909 0.909 0.909 0.909 0.909 0.909 0.909 0.909 0.909 0.909 0.909 0.931 0.931 0.931 0.931 0.931 0.931 0.931 0.931 0.931 0.931 0.931 0.931 0.931 0.949 0.949 0.949 0.949 0.949 0.949 0.949 0.949 0.949 0.949 0.949 0.949 0.964 0.964 0.964 0.964 0.964 0.964 0.964 0.964 0.964 0.964 0.964 0.964 0.964 0.976 0.976 0.976 0.976 0.976 0.976 0.976 0.976 0.976 0.976 0.976 0.976 0.984 0.984 0.984 0.984 0.984 0.984 0.984 0.984 0.984 0.984 0.984 0.984 0.984 0.989 0.989 0.989 0.989 0.989 0.989 0.989 0.989 0.989 0.989 0.989 0.989 0.991 0.991 0.991 0.991 0.987 0.987 0.987 0.976 0.976 0.966 0.966 0.966 0.954 0.954 0.954 0.937 0.937 0.937 0.921 0.921 0.908 0.908 0.908 0.895 0.895 0.895 0.886 0.886 0.875 0.875 0.875 0.856 0.856 0.856 0.832 0.832 0.803 0.803 0.803 0.772 0.772 0.772 0.739 0.739 0.739 0.706 0.706 0.671 0.671 0.671 0.636 0.636 0.636 0.605 0.605 0.574 0.574 0.574 0.543 0.543 0.543 0.509 0.509 0.472 0.472 0.472 0.434 0.434 0.434 0.395 0.395 0.395 0.353 0.353 0.311 0.311 0.311 0.272 0.272 0.272 0.234 0.234 0.197 0.197 0.197 0.165 0.165 0.165 0.140 0.140 0.140 0.117 0.117 0.104 0.104 0.104 0.104 0.104 0.104 0.114 0.114 0.136 0.136 0.136 0.160 0.160 0.160 0.165 0.165 0.154 0.154 0.154 0.138 0.138 0.138 0.124 0.124 0.124 0.112 0.112 0.101 0.101 0.101 0.090 0.090 0.090 0.080 0.080 0.068 0.068 0.068 0.053 0.053 0.053 0.036 0.036 0.036"/></feComponentTransfer></filter><linearGradient id="pg" x1="0" y1="1" x2="0" y2="0"><stop offset="0" stop-color="#000"/><stop offset="1" stop-color="#fff"/></linearGradient></defs>
<rect x="103.0" y="13.5" width="387.6" height="238.5" fill="none" stroke="#000" stroke-opacity="0.35" stroke-width="0.8"/>
<rect x="706.4" y="13.7" width="387.4" height="238.1" fill="none" stroke="#000" stroke-opacity="0.35" stroke-width="0.8"/>
<text x="2.4" y="30.2" text-anchor="start" class="p" letter-spacing="1.3">(<tspan class="it">a</tspan>)</text>
<text x="6" y="141.2" text-anchor="start" class="l" >Bi</text>
<text x="60.60" y="36.00" class="t">10</text><text x="85.20" y="26.40" font-size="16.5">3</text>
<text x="664.80" y="36.00" class="t">10</text><text x="689.40" y="26.40" font-size="16.5">3</text>
<text x="60.60" y="138.90" class="t">10</text><text x="85.20" y="129.30" font-size="16.5">0</text>
<text x="664.80" y="138.90" class="t">10</text><text x="689.40" y="129.30" font-size="16.5">0</text>
<text x="48.20" y="241.60" class="t">10</text><text transform="translate(73.59,232.60) scale(1.35,1)" font-size="16.5">−</text><text x="85.20" y="232.00" font-size="16.5">3</text>
<text x="652.40" y="241.60" class="t">10</text><text transform="translate(677.79,232.60) scale(1.35,1)" font-size="16.5">−</text><text x="689.40" y="232.00" font-size="16.5">3</text>
<text x="103.6" y="278.8" text-anchor="middle" class="t" >0</text>
<text class="t"><tspan x="181.64" y="278.80" font-size="26">π</tspan><tspan x="197.90" y="283.70" font-size="33">/</tspan><tspan x="208.79" y="278.80" font-size="24">8</tspan></text>
<text class="t"><tspan x="278.14" y="278.80" font-size="26">π</tspan><tspan x="294.40" y="283.70" font-size="33">/</tspan><tspan x="305.42" y="278.80" font-size="24">4</tspan></text>
<text class="t"><tspan x="365.95" y="278.80" font-size="24">3</tspan><tspan x="380.94" y="278.80" font-size="26">π</tspan><tspan x="396.50" y="283.70" font-size="33">/</tspan><tspan x="407.69" y="278.80" font-size="24">8</tspan></text>
<text class="t"><tspan x="470.44" y="278.80" font-size="26">π</tspan><tspan x="486.30" y="283.70" font-size="33">/</tspan><tspan x="496.94" y="278.80" font-size="24">2</tspan></text>
<text x="707.0" y="278.8" text-anchor="middle" class="t" >0</text>
<text class="t"><tspan x="784.99" y="278.80" font-size="26">π</tspan><tspan x="801.25" y="283.70" font-size="33">/</tspan><tspan x="812.14" y="278.80" font-size="24">8</tspan></text>
<text class="t"><tspan x="881.44" y="278.80" font-size="26">π</tspan><tspan x="897.70" y="283.70" font-size="33">/</tspan><tspan x="908.72" y="278.80" font-size="24">4</tspan></text>
<text class="t"><tspan x="969.20" y="278.80" font-size="24">3</tspan><tspan x="984.19" y="278.80" font-size="26">π</tspan><tspan x="999.75" y="283.70" font-size="33">/</tspan><tspan x="1010.94" y="278.80" font-size="24">8</tspan></text>
<text class="t"><tspan x="1073.64" y="278.80" font-size="26">π</tspan><tspan x="1089.50" y="283.70" font-size="33">/</tspan><tspan x="1100.14" y="278.80" font-size="24">2</tspan></text>
<text x="297.9" y="316.8" text-anchor="middle" class="l" >ϕ</text>
<text x="900.9" y="316.8" text-anchor="middle" class="l" >ϕ</text>
<rect x="510.3" y="13.5" width="11.4" height="238" fill="url(#pg)" filter="url(#pf)"/><rect x="510.3" y="13.5" width="11.4" height="238" fill="none" stroke="#222" stroke-opacity="0.8" stroke-width="0.8"/>
<path d="M510.3 20.2h2.4M521.7 20.2h-2.4" stroke="#222" stroke-width="0.8" fill="none"/>
<text x="531.70" y="30.00" class="t">10</text><text x="556.30" y="20.40" font-size="16.5">4</text>
<path d="M510.3 92.65h2.4M521.7 92.65h-2.4" stroke="#222" stroke-width="0.8" fill="none"/>
<text x="531.70" y="102.50" class="t">10</text><text x="556.30" y="92.90" font-size="16.5">3</text>
<path d="M510.3 165.1h2.4M521.7 165.1h-2.4" stroke="#222" stroke-width="0.8" fill="none"/>
<text x="531.70" y="174.90" class="t">10</text><text x="556.30" y="165.30" font-size="16.5">2</text>
<path d="M510.3 237.55h2.4M521.7 237.55h-2.4" stroke="#222" stroke-width="0.8" fill="none"/>
<text x="531.70" y="247.40" class="t">10</text><text x="556.30" y="237.80" font-size="16.5">1</text>
<text x="614.6" y="30.2" text-anchor="start" class="p" letter-spacing="1.3">(<tspan class="it">b</tspan>)</text>
<rect x="1113.9" y="13.7" width="12.2" height="238.2" fill="url(#pg)" filter="url(#pf)"/><rect x="1113.9" y="13.7" width="12.2" height="238.2" fill="none" stroke="#222" stroke-opacity="0.8" stroke-width="0.8"/>
<text class="t"><tspan x="1136.14" y="21.80" font-size="26">π</tspan><tspan x="1152.00" y="26.70" font-size="33">/</tspan><tspan x="1162.64" y="21.80" font-size="24">2</tspan></text>
<path d="M1113.9 73.3h2.4M1126.1 73.3h-2.4" stroke="#222" stroke-width="0.8" fill="none"/>
<text class="t"><tspan x="1134.05" y="81.20" font-size="24">3</tspan><tspan x="1149.04" y="81.20" font-size="26">π</tspan><tspan x="1164.60" y="86.10" font-size="33">/</tspan><tspan x="1175.79" y="81.20" font-size="24">8</tspan></text>
<path d="M1113.9 132.8h2.4M1126.1 132.8h-2.4" stroke="#222" stroke-width="0.8" fill="none"/>
<text class="t"><tspan x="1136.14" y="140.70" font-size="26">π</tspan><tspan x="1152.40" y="145.60" font-size="33">/</tspan><tspan x="1163.42" y="140.70" font-size="24">4</tspan></text>
<path d="M1113.9 192.4h2.4M1126.1 192.4h-2.4" stroke="#222" stroke-width="0.8" fill="none"/>
<text class="t"><tspan x="1136.14" y="199.50" font-size="26">π</tspan><tspan x="1152.40" y="204.40" font-size="33">/</tspan><tspan x="1163.29" y="199.50" font-size="24">8</tspan></text>
<text x="1135.3" y="256.2" text-anchor="start" class="t" >0</text>
<g fill="none" stroke="#2a2aff" stroke-width="1"><path d="M104.3 592.5L131.0 588.2L157.6 583.9L184.3 579.6L210.9 575.3L237.6 571.0L264.3 566.7L290.9 562.5L317.6 558.3L344.2 554.1L370.9 550.0L397.6 545.9L424.2 541.8L450.9 537.8L477.5 533.8L504.2 529.9L530.9 526.0L557.5 522.2L584.2 518.4L610.8 514.7L637.5 511.1"/><path d="M104.3 592.5L131.0 589.6L157.6 586.8L184.3 584.0L210.9 581.1L237.6 578.3L264.3 575.5L290.9 572.7L317.6 569.9L344.2 567.1L370.9 564.4L397.6 561.7L424.2 559.0L450.9 556.3L477.5 553.7L504.2 551.1L530.9 548.5L557.5 546.0L584.2 543.5L610.8 541.1L637.5 538.7"/><path d="M104.3 592.5L131.0 590.3L157.6 588.1L184.3 585.9L210.9 583.7L237.6 581.6L264.3 579.4L290.9 577.2L317.6 575.1L344.2 573.0L370.9 570.9L397.6 568.8L424.2 566.7L450.9 564.6L477.5 562.6L504.2 560.6L530.9 558.7L557.5 556.7L584.2 554.8L610.8 552.9L637.5 551.1"/><path d="M104.3 592.5L131.0 590.5L157.6 588.5L184.3 586.5L210.9 584.4L237.6 582.4L264.3 580.5L290.9 578.5L317.6 576.5L344.2 574.5L370.9 572.6L397.6 570.7L424.2 568.8L450.9 566.9L477.5 565.0L504.2 563.2L530.9 561.4L557.5 559.6L584.2 557.8L610.8 556.1L637.5 554.4"/><path d="M104.3 592.5L131.0 590.6L157.6 588.7L184.3 586.8L210.9 584.8L237.6 582.9L264.3 581.1L290.9 579.2L317.6 577.3L344.2 575.4L370.9 573.6L397.6 571.8L424.2 570.0L450.9 568.2L477.5 566.4L504.2 564.7L530.9 562.9L557.5 561.2L584.2 559.6L610.8 557.9L637.5 556.3"/><path d="M104.3 592.5L131.0 590.7L157.6 588.8L184.3 587.0L210.9 585.2L237.6 583.3L264.3 581.5L290.9 579.7L317.6 577.9L344.2 576.1L370.9 574.3L397.6 572.6L424.2 570.9L450.9 569.1L477.5 567.4L504.2 565.8L530.9 564.1L557.5 562.5L584.2 560.9L610.8 559.3L637.5 557.8"/><path d="M104.3 592.5L131.0 590.7L157.6 588.9L184.3 587.1L210.9 585.4L237.6 583.6L264.3 581.8L290.9 580.0L317.6 578.3L344.2 576.6L370.9 574.8L397.6 573.1L424.2 571.4L450.9 569.8L477.5 568.1L504.2 566.5L530.9 564.9L557.5 563.3L584.2 561.7L610.8 560.2L637.5 558.7"/><path d="M104.3 592.5L131.0 590.7L157.6 589.0L184.3 587.2L210.9 585.5L237.6 583.8L264.3 582.0L290.9 580.3L317.6 578.6L344.2 576.9L370.9 575.2L397.6 573.5L424.2 571.9L450.9 570.3L477.5 568.6L504.2 567.0L530.9 565.5L557.5 563.9L584.2 562.4L610.8 560.9L637.5 559.4"/><path d="M104.3 592.5L131.0 590.8L157.6 589.1L184.3 587.4L210.9 585.7L237.6 584.0L264.3 582.3L290.9 580.6L317.6 578.9L344.2 577.2L370.9 575.6L397.6 574.0L424.2 572.3L450.9 570.7L477.5 569.1L504.2 567.6L530.9 566.0L557.5 564.5L584.2 563.0L610.8 561.6L637.5 560.1"/><path d="M104.3 592.5L131.0 590.8L157.6 589.1L184.3 587.4L210.9 585.8L237.6 584.1L264.3 582.4L290.9 580.8L317.6 579.1L344.2 577.5L370.9 575.8L397.6 574.2L424.2 572.6L450.9 571.1L477.5 569.5L504.2 568.0L530.9 566.4L557.5 564.9L584.2 563.5L610.8 562.0L637.5 560.6"/><path d="M104.3 592.5L131.0 590.8L157.6 589.2L184.3 587.5L210.9 585.9L237.6 584.2L264.3 582.6L290.9 580.9L317.6 579.3L344.2 577.7L370.9 576.1L397.6 574.5L424.2 572.9L450.9 571.4L477.5 569.8L504.2 568.3L530.9 566.8L557.5 565.4L584.2 563.9L610.8 562.5L637.5 561.1"/><path d="M104.3 592.5L131.0 590.8L157.6 589.2L184.3 587.5L210.9 585.9L237.6 584.3L264.3 582.6L290.9 581.0L317.6 579.4L344.2 577.8L370.9 576.2L397.6 574.6L424.2 573.1L450.9 571.5L477.5 570.0L504.2 568.5L530.9 567.0L557.5 565.6L584.2 564.1L610.8 562.7L637.5 561.3"/><path d="M104.3 592.5L131.0 590.9L157.6 589.2L184.3 587.6L210.9 586.0L237.6 584.3L264.3 582.7L290.9 581.1L317.6 579.5L344.2 577.9L370.9 576.3L397.6 574.8L424.2 573.2L450.9 571.7L477.5 570.2L504.2 568.7L530.9 567.2L557.5 565.8L584.2 564.3L610.8 562.9L637.5 561.6"/></g>
<g fill="none" stroke="#222" stroke-width="1" stroke-linejoin="round"><path d="M104.3 368.8L184.3 372.3L264.3 380.9L344.2 395.6L424.2 416.5L504.2 447.8L584.2 502.1L596.1 515.4L606.3 531.0L617.3 549.8L626.7 568.6L636.9 591.3"/><path d="M104.3 431.1L184.3 432.9L264.3 437.4L344.2 445.5L424.2 457.6L504.2 476.4L584.2 507.6L596.1 515.4L611.0 531.0L620.4 546.7L628.2 563.9L637.3 591.5"/><path d="M104.3 458.3L184.3 459.3L264.3 461.9L344.2 467.2L424.2 475.5L504.2 488.8L584.2 509.9L596.1 515.4L614.1 529.5L623.5 543.5L630.6 557.6L634.5 573.3L637.3 591.5"/><path d="M104.3 464.9L184.3 465.7L264.3 468.0L344.2 472.5L424.2 479.9L504.2 491.8L584.2 510.5L596.1 515.4L618.8 528.7L626.7 537.3L631.4 546.7L635.3 565.5L637.4 591.5"/><path d="M104.3 469.7L184.3 470.4L264.3 472.3L344.2 476.4L424.2 483.1L504.2 494.0L584.2 511.0L596.1 515.4L622.0 527.9L629.8 534.1L633.7 542.0L636.4 557.6L637.4 591.5"/><path d="M104.3 472.3L184.3 472.9L264.3 474.6L344.2 478.5L424.2 484.8L504.2 495.2L584.2 511.2L596.1 515.4L622.0 524.2L631.0 530.1L636.2 535.7L637.4 591.5"/><path d="M104.3 474.0L184.3 474.5L264.3 476.2L344.2 479.8L424.2 485.9L504.2 496.0L584.2 511.3L596.1 515.4L622.0 524.1L631.0 529.8L636.3 534.9L637.4 591.5"/><path d="M104.3 474.9L184.3 475.5L264.3 477.0L344.2 480.5L424.2 486.5L504.2 496.4L584.2 511.4L596.1 515.4L622.0 524.1L631.0 529.4L636.4 534.0L637.4 591.5"/><path d="M104.3 475.6L184.3 476.2L264.3 477.7L344.2 481.1L424.2 487.0L504.2 496.8L584.2 511.5L596.1 515.4L622.0 524.0L631.0 529.1L636.5 533.1L637.4 591.5"/><path d="M104.3 476.1L184.3 476.6L264.3 478.1L344.2 481.5L424.2 487.3L504.2 497.0L584.2 511.5L596.1 515.4L622.0 523.9L631.0 528.8L636.7 532.3L637.4 591.5"/><path d="M104.3 476.5L184.3 476.9L264.3 478.4L344.2 481.8L424.2 487.5L504.2 497.1L584.2 511.5L596.1 515.4L622.0 523.8L631.0 528.4L636.8 531.5L637.4 591.5"/><path d="M104.3 476.7L184.3 477.2L264.3 478.6L344.2 482.0L424.2 487.7L504.2 497.2L584.2 511.6L596.1 515.4L622.0 523.8L631.0 528.1L636.9 530.6L637.4 591.5"/><path d="M104.3 476.8L184.3 477.3L264.3 478.7L344.2 482.1L424.2 487.8L504.2 497.3L584.2 511.6L596.1 515.4L622.0 523.7L631.0 527.7L637.0 529.8L637.4 591.5"/></g>
<rect x="104.3" y="354.3" width="533.2" height="238.0" fill="none" stroke="#3c3c3c" stroke-width="1"/>
<path d="M237.6 592.3v-5.5M237.6 354.3v5.5M370.9 592.3v-5.5M370.9 354.3v5.5M504.2 592.3v-5.5M504.2 354.3v5.5M104.3 497.3h5.5M637.5 497.3h-5.5M104.3 402.1h5.5M637.5 402.1h-5.5" stroke="#3c3c3c" stroke-width="1" fill="none"/>
<text x="3.4" y="372.4" text-anchor="start" class="p" letter-spacing="1.3">(<tspan class="it">c</tspan>)</text>
<text x="93.8" y="411.0" text-anchor="end" class="t" >40</text>
<text x="93.8" y="505.9" text-anchor="end" class="t" >20</text>
<text x="87.3" y="619.7" text-anchor="middle" class="t" >0</text>
<text class="t"><tspan x="218.54" y="619.70" font-size="26">π</tspan><tspan x="234.80" y="624.60" font-size="33">/</tspan><tspan x="245.69" y="619.70" font-size="24">8</tspan></text>
<text class="t"><tspan x="351.44" y="619.70" font-size="26">π</tspan><tspan x="367.70" y="624.60" font-size="33">/</tspan><tspan x="378.72" y="619.70" font-size="24">4</tspan></text>
<text class="t"><tspan x="475.65" y="619.70" font-size="24">3</tspan><tspan x="490.64" y="619.70" font-size="26">π</tspan><tspan x="506.20" y="624.60" font-size="33">/</tspan><tspan x="517.39" y="619.70" font-size="24">8</tspan></text>
<text class="t"><tspan x="616.54" y="619.70" font-size="26">π</tspan><tspan x="632.40" y="624.60" font-size="33">/</tspan><tspan x="643.04" y="619.70" font-size="24">2</tspan></text>
<text x="371" y="658" text-anchor="middle" class="l" >ϕ</text>
<text transform="translate(50.0,511.4) rotate(-90)" class="l" letter-spacing="1.2">|F|/Bi</text>
<text x="151.6" y="505.7" class="m" fill="#000" style="fill:#000">|<tspan class="it">F</tspan><tspan class="it" font-size="17.5" dy="4.5">x</tspan><tspan dy="-4.5">|</tspan></text>
<text x="279.1" y="547.2" class="m" fill="#2a2aff" style="fill:#2a2aff">|<tspan class="it">F</tspan><tspan class="it" font-size="17.5" dy="4.5">z</tspan><tspan dy="-4.5">|</tspan></text>
<text x="333.0" y="377.3" class="it" font-size="23.2" style="fill:#ff0a0a">Bi</text>
<text x="435.6" y="525.4" class="it" font-size="23.2" style="fill:#ff0a0a">Bi</text>
<path d="M325.8 363.7L280.7 467.2" stroke="#ff0a0a" stroke-width="1.9" fill="none"/><path d="M276.3 477.3L277.0 465.6L284.4 468.8Z" fill="#ff0a0a"/>
<path d="M464.3 510.1L493.1 555.7" stroke="#ff0a0a" stroke-width="1.9" fill="none"/><path d="M499 565L489.7 557.8L496.5 553.6Z" fill="#ff0a0a"/>
<rect x="802.8" y="436.9" width="356.6" height="6.4" fill="#1414f0"/>
<clipPath id="cd"><rect x="802.8" y="353.5" width="356.6" height="238.5"/></clipPath>
<g clip-path="url(#cd)" fill="none" stroke="#000" stroke-linejoin="round"><path d="M826 597L830.95 591.8L851.3 569.9L884.7 535L927 488.7L958.2 459L970 450.5L988.8 434.8L1009.1 416.8L1021.6 411.3L1038.9 402.4L1090 401.2L1130 400.4L1159.4 398.8" stroke-width="2.7"/><path d="M843.7 597L848.2 591.8L895.6 535L942.6 481.6L973.9 451.9L990.3 441L1007.6 425.4L1023.2 412.1L1038.9 403.4L1090 402.2L1159.4 399.6" stroke-width="1.9"/><path d="M836 597L890.5 536L938.5 487.5L975 452.5L992 438L1010 422L1024 411.8L1038.9 402.9L1159.4 399.2" stroke-width="1.2"/></g>
<path d="M828.85 597L1070.3 353" clip-path="url(#cd)" stroke="#ff0a0a" stroke-width="2.3" stroke-dasharray="9.6 7" stroke-dashoffset="2" fill="none"/>
<rect x="802.8" y="353.5" width="356.6" height="238.5" fill="none" stroke="#3c3c3c" stroke-width="1"/>
<path d="M842.6 592.0v-2.4M842.6 353.5v2.4M865.9 592.0v-2.4M865.9 353.5v2.4M882.4 592.0v-2.4M882.4 353.5v2.4M895.2 592.0v-2.4M895.2 353.5v2.4M905.7 592.0v-2.4M905.7 353.5v2.4M914.5 592.0v-2.4M914.5 353.5v2.4M922.2 592.0v-2.4M922.2 353.5v2.4M929.0 592.0v-2.4M929.0 353.5v2.4M935.0 592.0v-4.6M935.0 353.5v4.6M974.8 592.0v-2.4M974.8 353.5v2.4M998.1 592.0v-2.4M998.1 353.5v2.4M1014.6 592.0v-2.4M1014.6 353.5v2.4M1027.4 592.0v-2.4M1027.4 353.5v2.4M1037.9 592.0v-2.4M1037.9 353.5v2.4M1046.7 592.0v-2.4M1046.7 353.5v2.4M1054.4 592.0v-2.4M1054.4 353.5v2.4M1061.2 592.0v-2.4M1061.2 353.5v2.4M1067.2 592.0v-4.6M1067.2 353.5v4.6M1107.0 592.0v-2.4M1107.0 353.5v2.4M1130.3 592.0v-2.4M1130.3 353.5v2.4M1146.8 592.0v-2.4M1146.8 353.5v2.4M1159.6 592.0v-2.4M1159.6 353.5v2.4M802.8 591.5h2.4M1159.4 591.5h-2.4M802.8 580.9h2.4M1159.4 580.9h-2.4M802.8 572.0h2.4M1159.4 572.0h-2.4M802.8 564.2h2.4M1159.4 564.2h-2.4M802.8 557.4h2.4M1159.4 557.4h-2.4M802.8 551.3h4.6M1159.4 551.3h-4.6M802.8 511.1h2.4M1159.4 511.1h-2.4M802.8 487.6h2.4M1159.4 487.6h-2.4M802.8 470.9h2.4M1159.4 470.9h-2.4M802.8 458.0h2.4M1159.4 458.0h-2.4M802.8 447.4h2.4M1159.4 447.4h-2.4M802.8 438.5h2.4M1159.4 438.5h-2.4M802.8 430.7h2.4M1159.4 430.7h-2.4M802.8 423.9h2.4M1159.4 423.9h-2.4M802.8 417.8h4.6M1159.4 417.8h-4.6M802.8 377.6h2.4M1159.4 377.6h-2.4M802.8 354.1h2.4M1159.4 354.1h-2.4" stroke="#3c3c3c" stroke-width="0.9" fill="none"/>
<text x="715.4" y="372.4" text-anchor="start" class="p" letter-spacing="1.3">(<tspan class="it">d</tspan>)</text>
<text x="759.00" y="425.70" class="t">10</text><text x="783.60" y="416.10" font-size="16.5">1</text>
<text x="759.60" y="558.80" class="t">10</text><text x="784.20" y="549.20" font-size="16.5">0</text>
<text x="778.65" y="623.60" class="t">10</text><text transform="translate(804.04,614.60) scale(1.35,1)" font-size="16.5">−</text><text x="815.65" y="614.00" font-size="16.5">2</text>
<text x="911.55" y="623.60" class="t">10</text><text transform="translate(936.94,614.60) scale(1.35,1)" font-size="16.5">−</text><text x="948.55" y="614.00" font-size="16.5">1</text>
<text x="1050.25" y="623.60" class="t">10</text><text x="1074.85" y="614.00" font-size="16.5">0</text>
<text><tspan x="905.1" y="662.6" font-size="29">(</tspan><tspan x="917.3" y="662.6" font-size="29">π</tspan><tspan x="936.7" y="668.2" font-size="38">/</tspan><tspan x="949.1" y="662.6" font-size="28">2</tspan><tspan x="1001.9" y="662.6" font-size="30" font-style="italic">ϕ</tspan><tspan x="1017.6" y="662.6" font-size="29">)</tspan><tspan x="1030.35" y="662.6" font-size="28" font-style="italic">B</tspan><tspan x="1045.7" y="662.6" font-size="28" font-style="italic">i</tspan></text><text transform="translate(970.96,664.0) scale(1.46,1)" font-size="28">−</text>
<text x="859.6" y="511.3" class="m" fill="#000" style="fill:#000">|<tspan class="it">F</tspan><tspan class="it" font-size="17.5" dy="4.5">x</tspan><tspan dy="-4.5">|</tspan></text>
<text x="1067.0" y="472.6" class="m" fill="#1414f0" style="fill:#1414f0">|<tspan class="it">F</tspan><tspan class="it" font-size="17.5" dy="4.5">z</tspan><tspan dy="-4.5">|</tspan></text>
</svg>
</div></body></html>
